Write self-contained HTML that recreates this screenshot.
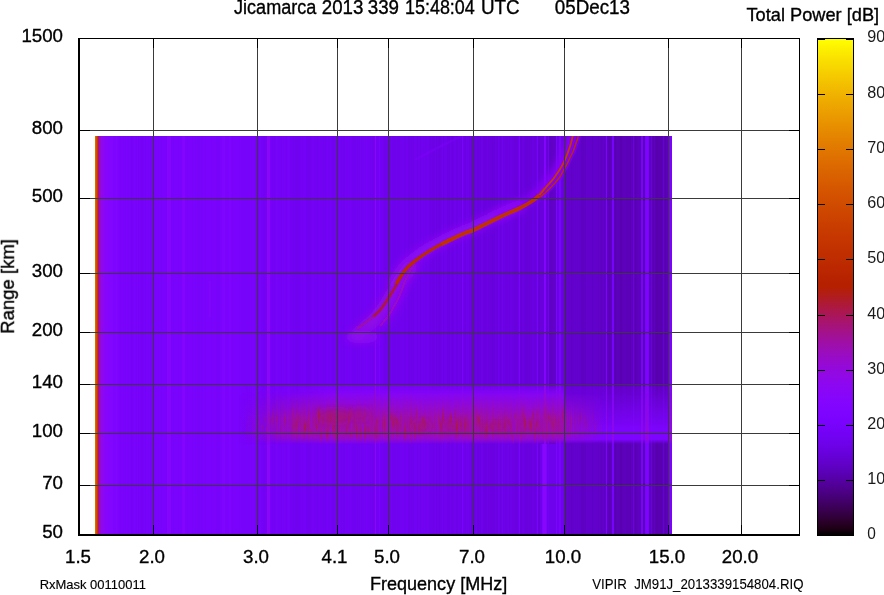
<!DOCTYPE html><html><head><meta charset="utf-8"><style>html,body{margin:0;padding:0;background:#fff;overflow:hidden}svg{display:block}text{font-family:"Liberation Sans",sans-serif}</style></head><body><svg width="884" height="595" viewBox="0 0 884 595"><defs><linearGradient id="cb" x1="0" y1="0" x2="0" y2="1"><stop offset="0.0000" stop-color="#ffff00"/><stop offset="0.0111" stop-color="#fef700"/><stop offset="0.0222" stop-color="#fcee00"/><stop offset="0.0333" stop-color="#fbe600"/><stop offset="0.0444" stop-color="#f9de00"/><stop offset="0.0556" stop-color="#f8d700"/><stop offset="0.0667" stop-color="#f6cf00"/><stop offset="0.0778" stop-color="#f5c800"/><stop offset="0.0889" stop-color="#f3c100"/><stop offset="0.1000" stop-color="#f2ba00"/><stop offset="0.1111" stop-color="#f0b300"/><stop offset="0.1222" stop-color="#efac00"/><stop offset="0.1333" stop-color="#eda600"/><stop offset="0.1444" stop-color="#eca000"/><stop offset="0.1556" stop-color="#ea9a00"/><stop offset="0.1667" stop-color="#e99400"/><stop offset="0.1778" stop-color="#e78e00"/><stop offset="0.1889" stop-color="#e68800"/><stop offset="0.2000" stop-color="#e48300"/><stop offset="0.2111" stop-color="#e27d00"/><stop offset="0.2222" stop-color="#e17800"/><stop offset="0.2333" stop-color="#df7300"/><stop offset="0.2444" stop-color="#de6e00"/><stop offset="0.2556" stop-color="#dc6900"/><stop offset="0.2667" stop-color="#da6500"/><stop offset="0.2778" stop-color="#d96000"/><stop offset="0.2889" stop-color="#d75c00"/><stop offset="0.3000" stop-color="#d55700"/><stop offset="0.3111" stop-color="#d45300"/><stop offset="0.3222" stop-color="#d24f00"/><stop offset="0.3333" stop-color="#d04c00"/><stop offset="0.3444" stop-color="#ce4800"/><stop offset="0.3556" stop-color="#cd4400"/><stop offset="0.3667" stop-color="#cb4100"/><stop offset="0.3778" stop-color="#c93d00"/><stop offset="0.3889" stop-color="#c73a00"/><stop offset="0.4000" stop-color="#c63700"/><stop offset="0.4111" stop-color="#c43400"/><stop offset="0.4222" stop-color="#c23100"/><stop offset="0.4333" stop-color="#c02e00"/><stop offset="0.4444" stop-color="#be2c00"/><stop offset="0.4556" stop-color="#bc2900"/><stop offset="0.4667" stop-color="#ba2700"/><stop offset="0.4778" stop-color="#b82400"/><stop offset="0.4889" stop-color="#b62200"/><stop offset="0.5000" stop-color="#b42000"/><stop offset="0.5111" stop-color="#b21e12"/><stop offset="0.5222" stop-color="#b01c23"/><stop offset="0.5333" stop-color="#ae1a35"/><stop offset="0.5444" stop-color="#ac1846"/><stop offset="0.5556" stop-color="#aa1657"/><stop offset="0.5667" stop-color="#a81568"/><stop offset="0.5778" stop-color="#a61378"/><stop offset="0.5889" stop-color="#a41287"/><stop offset="0.6000" stop-color="#a11096"/><stop offset="0.6111" stop-color="#9f0fa4"/><stop offset="0.6222" stop-color="#9d0eb1"/><stop offset="0.6333" stop-color="#9a0dbe"/><stop offset="0.6444" stop-color="#980bc9"/><stop offset="0.6556" stop-color="#960ad3"/><stop offset="0.6667" stop-color="#9309dd"/><stop offset="0.6778" stop-color="#9109e5"/><stop offset="0.6889" stop-color="#8e08ec"/><stop offset="0.7000" stop-color="#8c07f3"/><stop offset="0.7111" stop-color="#8906f7"/><stop offset="0.7222" stop-color="#8605fb"/><stop offset="0.7333" stop-color="#8405fe"/><stop offset="0.7444" stop-color="#8104ff"/><stop offset="0.7556" stop-color="#7e04ff"/><stop offset="0.7667" stop-color="#7b03fe"/><stop offset="0.7778" stop-color="#7803fb"/><stop offset="0.7889" stop-color="#7502f7"/><stop offset="0.8000" stop-color="#7202f3"/><stop offset="0.8111" stop-color="#6f02ec"/><stop offset="0.8222" stop-color="#6c01e5"/><stop offset="0.8333" stop-color="#6801dd"/><stop offset="0.8444" stop-color="#6501d3"/><stop offset="0.8556" stop-color="#6101c9"/><stop offset="0.8667" stop-color="#5d01be"/><stop offset="0.8778" stop-color="#5900b1"/><stop offset="0.8889" stop-color="#5500a4"/><stop offset="0.9000" stop-color="#510096"/><stop offset="0.9111" stop-color="#4c0087"/><stop offset="0.9222" stop-color="#470078"/><stop offset="0.9333" stop-color="#420068"/><stop offset="0.9444" stop-color="#3c0057"/><stop offset="0.9556" stop-color="#360046"/><stop offset="0.9667" stop-color="#2f0035"/><stop offset="0.9778" stop-color="#260023"/><stop offset="0.9889" stop-color="#1b0012"/><stop offset="1.0000" stop-color="#000000"/></linearGradient><linearGradient id="gbase" gradientUnits="userSpaceOnUse" x1="95" y1="0" x2="672" y2="0"><stop offset="0.00000" stop-color="#dc6900"/><stop offset="0.00173" stop-color="#dc6900"/><stop offset="0.00173" stop-color="#d24f00"/><stop offset="0.00347" stop-color="#d24f00"/><stop offset="0.00347" stop-color="#c63700"/><stop offset="0.00520" stop-color="#c63700"/><stop offset="0.00520" stop-color="#a81568"/><stop offset="0.00693" stop-color="#a81568"/><stop offset="0.00693" stop-color="#9a0dbe"/><stop offset="0.00867" stop-color="#9a0dbe"/><stop offset="0.00867" stop-color="#9309dd"/><stop offset="0.01040" stop-color="#9309dd"/><stop offset="0.01040" stop-color="#9109e5"/><stop offset="0.01213" stop-color="#9109e5"/><stop offset="0.01213" stop-color="#8e08ec"/><stop offset="0.01386" stop-color="#8e08ec"/><stop offset="0.01386" stop-color="#8c07f3"/><stop offset="0.01560" stop-color="#8c07f3"/><stop offset="0.01560" stop-color="#8906f7"/><stop offset="0.01733" stop-color="#8906f7"/><stop offset="0.01733" stop-color="#8605fb"/><stop offset="0.02253" stop-color="#8605fb"/><stop offset="0.02253" stop-color="#8205fe"/><stop offset="0.03120" stop-color="#8205fe"/><stop offset="0.03120" stop-color="#7e04ff"/><stop offset="0.03640" stop-color="#7e04ff"/><stop offset="0.03640" stop-color="#8205fe"/><stop offset="0.03813" stop-color="#8205fe"/><stop offset="0.03813" stop-color="#7d04fe"/><stop offset="0.03986" stop-color="#7d04fe"/><stop offset="0.03986" stop-color="#7c03fe"/><stop offset="0.04159" stop-color="#7c03fe"/><stop offset="0.04159" stop-color="#7a03fd"/><stop offset="0.04333" stop-color="#7a03fd"/><stop offset="0.04333" stop-color="#7703fa"/><stop offset="0.04506" stop-color="#7703fa"/><stop offset="0.04506" stop-color="#7903fc"/><stop offset="0.04679" stop-color="#7903fc"/><stop offset="0.04679" stop-color="#7903fb"/><stop offset="0.04853" stop-color="#7903fb"/><stop offset="0.04853" stop-color="#7703fa"/><stop offset="0.05026" stop-color="#7703fa"/><stop offset="0.05026" stop-color="#7903fc"/><stop offset="0.05199" stop-color="#7903fc"/><stop offset="0.05199" stop-color="#7703fa"/><stop offset="0.05373" stop-color="#7703fa"/><stop offset="0.05373" stop-color="#7903fc"/><stop offset="0.05546" stop-color="#7903fc"/><stop offset="0.05546" stop-color="#7703fa"/><stop offset="0.05893" stop-color="#7703fa"/><stop offset="0.05893" stop-color="#7903fc"/><stop offset="0.06066" stop-color="#7903fc"/><stop offset="0.06066" stop-color="#7803fb"/><stop offset="0.06239" stop-color="#7803fb"/><stop offset="0.06239" stop-color="#7502f7"/><stop offset="0.06412" stop-color="#7502f7"/><stop offset="0.06412" stop-color="#7602f8"/><stop offset="0.06586" stop-color="#7602f8"/><stop offset="0.06586" stop-color="#7703fa"/><stop offset="0.06759" stop-color="#7703fa"/><stop offset="0.06759" stop-color="#7903fc"/><stop offset="0.06932" stop-color="#7903fc"/><stop offset="0.06932" stop-color="#7703fa"/><stop offset="0.07106" stop-color="#7703fa"/><stop offset="0.07106" stop-color="#7603f9"/><stop offset="0.07279" stop-color="#7603f9"/><stop offset="0.07279" stop-color="#7903fc"/><stop offset="0.07452" stop-color="#7903fc"/><stop offset="0.07452" stop-color="#7502f7"/><stop offset="0.07626" stop-color="#7502f7"/><stop offset="0.07626" stop-color="#7803fb"/><stop offset="0.07799" stop-color="#7803fb"/><stop offset="0.07799" stop-color="#7602f8"/><stop offset="0.07972" stop-color="#7602f8"/><stop offset="0.07972" stop-color="#7502f7"/><stop offset="0.08319" stop-color="#7502f7"/><stop offset="0.08319" stop-color="#7602f8"/><stop offset="0.08492" stop-color="#7602f8"/><stop offset="0.08492" stop-color="#7803fb"/><stop offset="0.08666" stop-color="#7803fb"/><stop offset="0.08666" stop-color="#7502f8"/><stop offset="0.08839" stop-color="#7502f8"/><stop offset="0.08839" stop-color="#7703fa"/><stop offset="0.09185" stop-color="#7703fa"/><stop offset="0.09185" stop-color="#7603f9"/><stop offset="0.09359" stop-color="#7603f9"/><stop offset="0.09359" stop-color="#7703fa"/><stop offset="0.09532" stop-color="#7703fa"/><stop offset="0.09532" stop-color="#7502f7"/><stop offset="0.09705" stop-color="#7502f7"/><stop offset="0.09705" stop-color="#7703fa"/><stop offset="0.09879" stop-color="#7703fa"/><stop offset="0.09879" stop-color="#7803fb"/><stop offset="0.10052" stop-color="#7803fb"/><stop offset="0.10052" stop-color="#7a03fd"/><stop offset="0.10225" stop-color="#7a03fd"/><stop offset="0.10225" stop-color="#7903fc"/><stop offset="0.10399" stop-color="#7903fc"/><stop offset="0.10399" stop-color="#7803fb"/><stop offset="0.10572" stop-color="#7803fb"/><stop offset="0.10572" stop-color="#7903fc"/><stop offset="0.10919" stop-color="#7903fc"/><stop offset="0.10919" stop-color="#7803fb"/><stop offset="0.11092" stop-color="#7803fb"/><stop offset="0.11092" stop-color="#7a03fd"/><stop offset="0.11438" stop-color="#7a03fd"/><stop offset="0.11438" stop-color="#7803fb"/><stop offset="0.11612" stop-color="#7803fb"/><stop offset="0.11612" stop-color="#7903fc"/><stop offset="0.11958" stop-color="#7903fc"/><stop offset="0.11958" stop-color="#7b03fd"/><stop offset="0.12132" stop-color="#7b03fd"/><stop offset="0.12132" stop-color="#7a03fd"/><stop offset="0.12305" stop-color="#7a03fd"/><stop offset="0.12305" stop-color="#7803fb"/><stop offset="0.12478" stop-color="#7803fb"/><stop offset="0.12478" stop-color="#8605fb"/><stop offset="0.12652" stop-color="#8605fb"/><stop offset="0.12652" stop-color="#8305fe"/><stop offset="0.12825" stop-color="#8305fe"/><stop offset="0.12825" stop-color="#8405fd"/><stop offset="0.12998" stop-color="#8405fd"/><stop offset="0.12998" stop-color="#8505fc"/><stop offset="0.13172" stop-color="#8505fc"/><stop offset="0.13172" stop-color="#7803fb"/><stop offset="0.13345" stop-color="#7803fb"/><stop offset="0.13345" stop-color="#7903fc"/><stop offset="0.13518" stop-color="#7903fc"/><stop offset="0.13518" stop-color="#7703fa"/><stop offset="0.13692" stop-color="#7703fa"/><stop offset="0.13692" stop-color="#7a03fd"/><stop offset="0.14038" stop-color="#7a03fd"/><stop offset="0.14038" stop-color="#7903fc"/><stop offset="0.14211" stop-color="#7903fc"/><stop offset="0.14211" stop-color="#7b03fd"/><stop offset="0.14385" stop-color="#7b03fd"/><stop offset="0.14385" stop-color="#7803fb"/><stop offset="0.14558" stop-color="#7803fb"/><stop offset="0.14558" stop-color="#7a03fd"/><stop offset="0.14731" stop-color="#7a03fd"/><stop offset="0.14731" stop-color="#7903fc"/><stop offset="0.15078" stop-color="#7903fc"/><stop offset="0.15078" stop-color="#8204ff"/><stop offset="0.15251" stop-color="#8204ff"/><stop offset="0.15251" stop-color="#8305fe"/><stop offset="0.15598" stop-color="#8305fe"/><stop offset="0.15598" stop-color="#7903fc"/><stop offset="0.15771" stop-color="#7903fc"/><stop offset="0.15771" stop-color="#7a03fd"/><stop offset="0.15945" stop-color="#7a03fd"/><stop offset="0.15945" stop-color="#7703fa"/><stop offset="0.16118" stop-color="#7703fa"/><stop offset="0.16118" stop-color="#7a03fd"/><stop offset="0.16464" stop-color="#7a03fd"/><stop offset="0.16464" stop-color="#7b03fe"/><stop offset="0.16638" stop-color="#7b03fe"/><stop offset="0.16638" stop-color="#7a03fd"/><stop offset="0.16811" stop-color="#7a03fd"/><stop offset="0.16811" stop-color="#7803fb"/><stop offset="0.16984" stop-color="#7803fb"/><stop offset="0.16984" stop-color="#7903fc"/><stop offset="0.17158" stop-color="#7903fc"/><stop offset="0.17158" stop-color="#7a03fd"/><stop offset="0.17331" stop-color="#7a03fd"/><stop offset="0.17331" stop-color="#7703fa"/><stop offset="0.17504" stop-color="#7703fa"/><stop offset="0.17504" stop-color="#7903fc"/><stop offset="0.17678" stop-color="#7903fc"/><stop offset="0.17678" stop-color="#7803fb"/><stop offset="0.17851" stop-color="#7803fb"/><stop offset="0.17851" stop-color="#7703fa"/><stop offset="0.18198" stop-color="#7703fa"/><stop offset="0.18198" stop-color="#7a03fd"/><stop offset="0.18371" stop-color="#7a03fd"/><stop offset="0.18371" stop-color="#7803fa"/><stop offset="0.18544" stop-color="#7803fa"/><stop offset="0.18544" stop-color="#7803fb"/><stop offset="0.18718" stop-color="#7803fb"/><stop offset="0.18718" stop-color="#7903fc"/><stop offset="0.18891" stop-color="#7903fc"/><stop offset="0.18891" stop-color="#7b03fd"/><stop offset="0.19064" stop-color="#7b03fd"/><stop offset="0.19064" stop-color="#7703fa"/><stop offset="0.19237" stop-color="#7703fa"/><stop offset="0.19237" stop-color="#7903fc"/><stop offset="0.19584" stop-color="#7903fc"/><stop offset="0.19584" stop-color="#7b03fd"/><stop offset="0.19757" stop-color="#7b03fd"/><stop offset="0.19757" stop-color="#7a03fd"/><stop offset="0.19931" stop-color="#7a03fd"/><stop offset="0.19931" stop-color="#7b03fd"/><stop offset="0.20104" stop-color="#7b03fd"/><stop offset="0.20104" stop-color="#7803fb"/><stop offset="0.20277" stop-color="#7803fb"/><stop offset="0.20277" stop-color="#7903fc"/><stop offset="0.20451" stop-color="#7903fc"/><stop offset="0.20451" stop-color="#7903fb"/><stop offset="0.20624" stop-color="#7903fb"/><stop offset="0.20624" stop-color="#7b03fd"/><stop offset="0.20971" stop-color="#7b03fd"/><stop offset="0.20971" stop-color="#7803fb"/><stop offset="0.21664" stop-color="#7803fb"/><stop offset="0.21664" stop-color="#7903fc"/><stop offset="0.22010" stop-color="#7903fc"/><stop offset="0.22010" stop-color="#7f04ff"/><stop offset="0.22184" stop-color="#7f04ff"/><stop offset="0.22184" stop-color="#7e04ff"/><stop offset="0.22357" stop-color="#7e04ff"/><stop offset="0.22357" stop-color="#8004ff"/><stop offset="0.22530" stop-color="#8004ff"/><stop offset="0.22530" stop-color="#7903fb"/><stop offset="0.22704" stop-color="#7903fb"/><stop offset="0.22704" stop-color="#7903fc"/><stop offset="0.22877" stop-color="#7903fc"/><stop offset="0.22877" stop-color="#7b03fd"/><stop offset="0.23050" stop-color="#7b03fd"/><stop offset="0.23050" stop-color="#7a03fd"/><stop offset="0.23224" stop-color="#7a03fd"/><stop offset="0.23224" stop-color="#7e04ff"/><stop offset="0.23570" stop-color="#7e04ff"/><stop offset="0.23570" stop-color="#7a03fd"/><stop offset="0.23744" stop-color="#7a03fd"/><stop offset="0.23744" stop-color="#7703fa"/><stop offset="0.23917" stop-color="#7703fa"/><stop offset="0.23917" stop-color="#7b03fd"/><stop offset="0.24090" stop-color="#7b03fd"/><stop offset="0.24090" stop-color="#7a03fd"/><stop offset="0.24263" stop-color="#7a03fd"/><stop offset="0.24263" stop-color="#7b03fd"/><stop offset="0.24437" stop-color="#7b03fd"/><stop offset="0.24437" stop-color="#7a03fd"/><stop offset="0.24610" stop-color="#7a03fd"/><stop offset="0.24610" stop-color="#7903fc"/><stop offset="0.24957" stop-color="#7903fc"/><stop offset="0.24957" stop-color="#7703fa"/><stop offset="0.25130" stop-color="#7703fa"/><stop offset="0.25130" stop-color="#7a03fc"/><stop offset="0.25303" stop-color="#7a03fc"/><stop offset="0.25303" stop-color="#7703fa"/><stop offset="0.25650" stop-color="#7703fa"/><stop offset="0.25650" stop-color="#7803fb"/><stop offset="0.26170" stop-color="#7803fb"/><stop offset="0.26170" stop-color="#7703fa"/><stop offset="0.26516" stop-color="#7703fa"/><stop offset="0.26516" stop-color="#7803fb"/><stop offset="0.26690" stop-color="#7803fb"/><stop offset="0.26690" stop-color="#7703fa"/><stop offset="0.26863" stop-color="#7703fa"/><stop offset="0.26863" stop-color="#7903fb"/><stop offset="0.27036" stop-color="#7903fb"/><stop offset="0.27036" stop-color="#7703fa"/><stop offset="0.27210" stop-color="#7703fa"/><stop offset="0.27210" stop-color="#7b03fd"/><stop offset="0.27383" stop-color="#7b03fd"/><stop offset="0.27383" stop-color="#7a03fc"/><stop offset="0.27556" stop-color="#7a03fc"/><stop offset="0.27556" stop-color="#7803fb"/><stop offset="0.28076" stop-color="#7803fb"/><stop offset="0.28076" stop-color="#7402f6"/><stop offset="0.28250" stop-color="#7402f6"/><stop offset="0.28250" stop-color="#7302f4"/><stop offset="0.28423" stop-color="#7302f4"/><stop offset="0.28423" stop-color="#7603f9"/><stop offset="0.28596" stop-color="#7603f9"/><stop offset="0.28596" stop-color="#7703f9"/><stop offset="0.28769" stop-color="#7703f9"/><stop offset="0.28769" stop-color="#7402f6"/><stop offset="0.29116" stop-color="#7402f6"/><stop offset="0.29116" stop-color="#7302f4"/><stop offset="0.29463" stop-color="#7302f4"/><stop offset="0.29463" stop-color="#7402f6"/><stop offset="0.29636" stop-color="#7402f6"/><stop offset="0.29636" stop-color="#7402f5"/><stop offset="0.29809" stop-color="#7402f5"/><stop offset="0.29809" stop-color="#8c07f3"/><stop offset="0.29983" stop-color="#8c07f3"/><stop offset="0.29983" stop-color="#8906f7"/><stop offset="0.30156" stop-color="#8906f7"/><stop offset="0.30156" stop-color="#8906f8"/><stop offset="0.30329" stop-color="#8906f8"/><stop offset="0.30329" stop-color="#7603f9"/><stop offset="0.30503" stop-color="#7603f9"/><stop offset="0.30503" stop-color="#7502f7"/><stop offset="0.30676" stop-color="#7502f7"/><stop offset="0.30676" stop-color="#7302f4"/><stop offset="0.30849" stop-color="#7302f4"/><stop offset="0.30849" stop-color="#7502f7"/><stop offset="0.31023" stop-color="#7502f7"/><stop offset="0.31023" stop-color="#7202f3"/><stop offset="0.31196" stop-color="#7202f3"/><stop offset="0.31196" stop-color="#7502f7"/><stop offset="0.31369" stop-color="#7502f7"/><stop offset="0.31369" stop-color="#7703f9"/><stop offset="0.31542" stop-color="#7703f9"/><stop offset="0.31542" stop-color="#7603f9"/><stop offset="0.31716" stop-color="#7603f9"/><stop offset="0.31716" stop-color="#7502f8"/><stop offset="0.31889" stop-color="#7502f8"/><stop offset="0.31889" stop-color="#7402f5"/><stop offset="0.32062" stop-color="#7402f5"/><stop offset="0.32062" stop-color="#7402f6"/><stop offset="0.32236" stop-color="#7402f6"/><stop offset="0.32236" stop-color="#7302f4"/><stop offset="0.32409" stop-color="#7302f4"/><stop offset="0.32409" stop-color="#7602f8"/><stop offset="0.32582" stop-color="#7602f8"/><stop offset="0.32582" stop-color="#7502f7"/><stop offset="0.32756" stop-color="#7502f7"/><stop offset="0.32756" stop-color="#7602f8"/><stop offset="0.32929" stop-color="#7602f8"/><stop offset="0.32929" stop-color="#7402f5"/><stop offset="0.33102" stop-color="#7402f5"/><stop offset="0.33102" stop-color="#7302f5"/><stop offset="0.33276" stop-color="#7302f5"/><stop offset="0.33276" stop-color="#7602f8"/><stop offset="0.33449" stop-color="#7602f8"/><stop offset="0.33449" stop-color="#7703f9"/><stop offset="0.33622" stop-color="#7703f9"/><stop offset="0.33622" stop-color="#7603f9"/><stop offset="0.33795" stop-color="#7603f9"/><stop offset="0.33795" stop-color="#7302f5"/><stop offset="0.34142" stop-color="#7302f5"/><stop offset="0.34142" stop-color="#7302f4"/><stop offset="0.34315" stop-color="#7302f4"/><stop offset="0.34315" stop-color="#7102f0"/><stop offset="0.34489" stop-color="#7102f0"/><stop offset="0.34489" stop-color="#7202f3"/><stop offset="0.34662" stop-color="#7202f3"/><stop offset="0.34662" stop-color="#7102f1"/><stop offset="0.34835" stop-color="#7102f1"/><stop offset="0.34835" stop-color="#7002ef"/><stop offset="0.35182" stop-color="#7002ef"/><stop offset="0.35182" stop-color="#7102f1"/><stop offset="0.35529" stop-color="#7102f1"/><stop offset="0.35529" stop-color="#7302f4"/><stop offset="0.35702" stop-color="#7302f4"/><stop offset="0.35702" stop-color="#7402f6"/><stop offset="0.35875" stop-color="#7402f6"/><stop offset="0.35875" stop-color="#7202f2"/><stop offset="0.36049" stop-color="#7202f2"/><stop offset="0.36049" stop-color="#7402f6"/><stop offset="0.36568" stop-color="#7402f6"/><stop offset="0.36568" stop-color="#7102f1"/><stop offset="0.36742" stop-color="#7102f1"/><stop offset="0.36742" stop-color="#7102f0"/><stop offset="0.37435" stop-color="#7102f0"/><stop offset="0.37435" stop-color="#7302f3"/><stop offset="0.37608" stop-color="#7302f3"/><stop offset="0.37608" stop-color="#7402f5"/><stop offset="0.37955" stop-color="#7402f5"/><stop offset="0.37955" stop-color="#7202f2"/><stop offset="0.38128" stop-color="#7202f2"/><stop offset="0.38128" stop-color="#7302f4"/><stop offset="0.38302" stop-color="#7302f4"/><stop offset="0.38302" stop-color="#7302f5"/><stop offset="0.38475" stop-color="#7302f5"/><stop offset="0.38475" stop-color="#7002ef"/><stop offset="0.38648" stop-color="#7002ef"/><stop offset="0.38648" stop-color="#7302f4"/><stop offset="0.38821" stop-color="#7302f4"/><stop offset="0.38821" stop-color="#7402f5"/><stop offset="0.38995" stop-color="#7402f5"/><stop offset="0.38995" stop-color="#7302f5"/><stop offset="0.39168" stop-color="#7302f5"/><stop offset="0.39168" stop-color="#7302f4"/><stop offset="0.39341" stop-color="#7302f4"/><stop offset="0.39341" stop-color="#7202f2"/><stop offset="0.39515" stop-color="#7202f2"/><stop offset="0.39515" stop-color="#7102f0"/><stop offset="0.39688" stop-color="#7102f0"/><stop offset="0.39688" stop-color="#7302f5"/><stop offset="0.39861" stop-color="#7302f5"/><stop offset="0.39861" stop-color="#7102f1"/><stop offset="0.40035" stop-color="#7102f1"/><stop offset="0.40035" stop-color="#7302f5"/><stop offset="0.40208" stop-color="#7302f5"/><stop offset="0.40208" stop-color="#7402f6"/><stop offset="0.40381" stop-color="#7402f6"/><stop offset="0.40381" stop-color="#7202f2"/><stop offset="0.40728" stop-color="#7202f2"/><stop offset="0.40728" stop-color="#7402f6"/><stop offset="0.40901" stop-color="#7402f6"/><stop offset="0.40901" stop-color="#7302f4"/><stop offset="0.41075" stop-color="#7302f4"/><stop offset="0.41075" stop-color="#7102f0"/><stop offset="0.41248" stop-color="#7102f0"/><stop offset="0.41248" stop-color="#7002ef"/><stop offset="0.41421" stop-color="#7002ef"/><stop offset="0.41421" stop-color="#7002f0"/><stop offset="0.41594" stop-color="#7002f0"/><stop offset="0.41594" stop-color="#7402f5"/><stop offset="0.41768" stop-color="#7402f5"/><stop offset="0.41768" stop-color="#7302f5"/><stop offset="0.41941" stop-color="#7302f5"/><stop offset="0.41941" stop-color="#7002f0"/><stop offset="0.42114" stop-color="#7002f0"/><stop offset="0.42114" stop-color="#7302f5"/><stop offset="0.42288" stop-color="#7302f5"/><stop offset="0.42288" stop-color="#7402f6"/><stop offset="0.42461" stop-color="#7402f6"/><stop offset="0.42461" stop-color="#7302f4"/><stop offset="0.42634" stop-color="#7302f4"/><stop offset="0.42634" stop-color="#7102f1"/><stop offset="0.42808" stop-color="#7102f1"/><stop offset="0.42808" stop-color="#7202f3"/><stop offset="0.42981" stop-color="#7202f3"/><stop offset="0.42981" stop-color="#7002f0"/><stop offset="0.43154" stop-color="#7002f0"/><stop offset="0.43154" stop-color="#7002ef"/><stop offset="0.43328" stop-color="#7002ef"/><stop offset="0.43328" stop-color="#7402f6"/><stop offset="0.43501" stop-color="#7402f6"/><stop offset="0.43501" stop-color="#7302f4"/><stop offset="0.43674" stop-color="#7302f4"/><stop offset="0.43674" stop-color="#7202f3"/><stop offset="0.43847" stop-color="#7202f3"/><stop offset="0.43847" stop-color="#7402f6"/><stop offset="0.44021" stop-color="#7402f6"/><stop offset="0.44021" stop-color="#7202f2"/><stop offset="0.44194" stop-color="#7202f2"/><stop offset="0.44194" stop-color="#7402f5"/><stop offset="0.44367" stop-color="#7402f5"/><stop offset="0.44367" stop-color="#7302f5"/><stop offset="0.44541" stop-color="#7302f5"/><stop offset="0.44541" stop-color="#7102f0"/><stop offset="0.44714" stop-color="#7102f0"/><stop offset="0.44714" stop-color="#7102f1"/><stop offset="0.45061" stop-color="#7102f1"/><stop offset="0.45061" stop-color="#7102f0"/><stop offset="0.45234" stop-color="#7102f0"/><stop offset="0.45234" stop-color="#7202f3"/><stop offset="0.45407" stop-color="#7202f3"/><stop offset="0.45407" stop-color="#7102f1"/><stop offset="0.45581" stop-color="#7102f1"/><stop offset="0.45581" stop-color="#7202f2"/><stop offset="0.45754" stop-color="#7202f2"/><stop offset="0.45754" stop-color="#7002f0"/><stop offset="0.45927" stop-color="#7002f0"/><stop offset="0.45927" stop-color="#7402f5"/><stop offset="0.46101" stop-color="#7402f5"/><stop offset="0.46101" stop-color="#7102f1"/><stop offset="0.46274" stop-color="#7102f1"/><stop offset="0.46274" stop-color="#7202f2"/><stop offset="0.46447" stop-color="#7202f2"/><stop offset="0.46447" stop-color="#7202f3"/><stop offset="0.46620" stop-color="#7202f3"/><stop offset="0.46620" stop-color="#7402f5"/><stop offset="0.46794" stop-color="#7402f5"/><stop offset="0.46794" stop-color="#7202f2"/><stop offset="0.46967" stop-color="#7202f2"/><stop offset="0.46967" stop-color="#7402f6"/><stop offset="0.47140" stop-color="#7402f6"/><stop offset="0.47140" stop-color="#7202f3"/><stop offset="0.47660" stop-color="#7202f3"/><stop offset="0.47660" stop-color="#7002ef"/><stop offset="0.47834" stop-color="#7002ef"/><stop offset="0.47834" stop-color="#7202f2"/><stop offset="0.48007" stop-color="#7202f2"/><stop offset="0.48007" stop-color="#7102f0"/><stop offset="0.48180" stop-color="#7102f0"/><stop offset="0.48180" stop-color="#7002ee"/><stop offset="0.48354" stop-color="#7002ee"/><stop offset="0.48354" stop-color="#7302f5"/><stop offset="0.48527" stop-color="#7302f5"/><stop offset="0.48527" stop-color="#8a07f5"/><stop offset="0.48700" stop-color="#8a07f5"/><stop offset="0.48700" stop-color="#7202f2"/><stop offset="0.48873" stop-color="#7202f2"/><stop offset="0.48873" stop-color="#7302f4"/><stop offset="0.49047" stop-color="#7302f4"/><stop offset="0.49047" stop-color="#7202f3"/><stop offset="0.49220" stop-color="#7202f3"/><stop offset="0.49220" stop-color="#7a03fd"/><stop offset="0.49393" stop-color="#7a03fd"/><stop offset="0.49393" stop-color="#7202f3"/><stop offset="0.49740" stop-color="#7202f3"/><stop offset="0.49740" stop-color="#7302f5"/><stop offset="0.49913" stop-color="#7302f5"/><stop offset="0.49913" stop-color="#7002ef"/><stop offset="0.50087" stop-color="#7002ef"/><stop offset="0.50087" stop-color="#6f02ed"/><stop offset="0.50260" stop-color="#6f02ed"/><stop offset="0.50260" stop-color="#6e02ea"/><stop offset="0.50607" stop-color="#6e02ea"/><stop offset="0.50607" stop-color="#7002ef"/><stop offset="0.50780" stop-color="#7002ef"/><stop offset="0.50780" stop-color="#6f02ed"/><stop offset="0.51127" stop-color="#6f02ed"/><stop offset="0.51127" stop-color="#7002ef"/><stop offset="0.51300" stop-color="#7002ef"/><stop offset="0.51300" stop-color="#7102f0"/><stop offset="0.51473" stop-color="#7102f0"/><stop offset="0.51473" stop-color="#6f02ec"/><stop offset="0.51646" stop-color="#6f02ec"/><stop offset="0.51646" stop-color="#6f02ed"/><stop offset="0.51820" stop-color="#6f02ed"/><stop offset="0.51820" stop-color="#6f02ec"/><stop offset="0.51993" stop-color="#6f02ec"/><stop offset="0.51993" stop-color="#6f02ed"/><stop offset="0.52166" stop-color="#6f02ed"/><stop offset="0.52166" stop-color="#7002ee"/><stop offset="0.52340" stop-color="#7002ee"/><stop offset="0.52340" stop-color="#6f02ec"/><stop offset="0.52513" stop-color="#6f02ec"/><stop offset="0.52513" stop-color="#6f02ed"/><stop offset="0.52686" stop-color="#6f02ed"/><stop offset="0.52686" stop-color="#6f02ec"/><stop offset="0.52860" stop-color="#6f02ec"/><stop offset="0.52860" stop-color="#7102f0"/><stop offset="0.53033" stop-color="#7102f0"/><stop offset="0.53033" stop-color="#7002ee"/><stop offset="0.53206" stop-color="#7002ee"/><stop offset="0.53206" stop-color="#7102f0"/><stop offset="0.53553" stop-color="#7102f0"/><stop offset="0.53553" stop-color="#6e02ea"/><stop offset="0.53726" stop-color="#6e02ea"/><stop offset="0.53726" stop-color="#6f02ed"/><stop offset="0.53899" stop-color="#6f02ed"/><stop offset="0.53899" stop-color="#7102f0"/><stop offset="0.54073" stop-color="#7102f0"/><stop offset="0.54073" stop-color="#7002ef"/><stop offset="0.54246" stop-color="#7002ef"/><stop offset="0.54246" stop-color="#6d02e9"/><stop offset="0.54593" stop-color="#6d02e9"/><stop offset="0.54593" stop-color="#6f02ec"/><stop offset="0.54766" stop-color="#6f02ec"/><stop offset="0.54766" stop-color="#6d02e8"/><stop offset="0.54939" stop-color="#6d02e8"/><stop offset="0.54939" stop-color="#6e02ea"/><stop offset="0.55113" stop-color="#6e02ea"/><stop offset="0.55113" stop-color="#6d02e8"/><stop offset="0.55286" stop-color="#6d02e8"/><stop offset="0.55286" stop-color="#7002ee"/><stop offset="0.55459" stop-color="#7002ee"/><stop offset="0.55459" stop-color="#7002ef"/><stop offset="0.55633" stop-color="#7002ef"/><stop offset="0.55633" stop-color="#7102f0"/><stop offset="0.55806" stop-color="#7102f0"/><stop offset="0.55806" stop-color="#6d02e9"/><stop offset="0.55979" stop-color="#6d02e9"/><stop offset="0.55979" stop-color="#7002ee"/><stop offset="0.56326" stop-color="#7002ee"/><stop offset="0.56326" stop-color="#6d02e9"/><stop offset="0.56499" stop-color="#6d02e9"/><stop offset="0.56499" stop-color="#7102f0"/><stop offset="0.56672" stop-color="#7102f0"/><stop offset="0.56672" stop-color="#7102f1"/><stop offset="0.56846" stop-color="#7102f1"/><stop offset="0.56846" stop-color="#6e02ea"/><stop offset="0.57019" stop-color="#6e02ea"/><stop offset="0.57019" stop-color="#7102f0"/><stop offset="0.57192" stop-color="#7102f0"/><stop offset="0.57192" stop-color="#6e02eb"/><stop offset="0.57366" stop-color="#6e02eb"/><stop offset="0.57366" stop-color="#6f02ec"/><stop offset="0.57539" stop-color="#6f02ec"/><stop offset="0.57539" stop-color="#7102f1"/><stop offset="0.57712" stop-color="#7102f1"/><stop offset="0.57712" stop-color="#7002ef"/><stop offset="0.57886" stop-color="#7002ef"/><stop offset="0.57886" stop-color="#6d02e9"/><stop offset="0.58059" stop-color="#6d02e9"/><stop offset="0.58059" stop-color="#6c01e7"/><stop offset="0.58232" stop-color="#6c01e7"/><stop offset="0.58232" stop-color="#6d02e8"/><stop offset="0.58406" stop-color="#6d02e8"/><stop offset="0.58406" stop-color="#6c01e6"/><stop offset="0.58579" stop-color="#6c01e6"/><stop offset="0.58579" stop-color="#6b01e4"/><stop offset="0.58752" stop-color="#6b01e4"/><stop offset="0.58752" stop-color="#6c01e6"/><stop offset="0.58925" stop-color="#6c01e6"/><stop offset="0.58925" stop-color="#6e02ea"/><stop offset="0.59099" stop-color="#6e02ea"/><stop offset="0.59099" stop-color="#6a01e2"/><stop offset="0.59272" stop-color="#6a01e2"/><stop offset="0.59272" stop-color="#6d02e8"/><stop offset="0.59445" stop-color="#6d02e8"/><stop offset="0.59445" stop-color="#6c01e7"/><stop offset="0.59619" stop-color="#6c01e7"/><stop offset="0.59619" stop-color="#6a01e2"/><stop offset="0.59792" stop-color="#6a01e2"/><stop offset="0.59792" stop-color="#6c01e6"/><stop offset="0.59965" stop-color="#6c01e6"/><stop offset="0.59965" stop-color="#6d02e9"/><stop offset="0.60139" stop-color="#6d02e9"/><stop offset="0.60139" stop-color="#7102f1"/><stop offset="0.60312" stop-color="#7102f1"/><stop offset="0.60312" stop-color="#6a01e3"/><stop offset="0.60485" stop-color="#6a01e3"/><stop offset="0.60485" stop-color="#6f02ec"/><stop offset="0.60659" stop-color="#6f02ec"/><stop offset="0.60659" stop-color="#6e02ea"/><stop offset="0.60832" stop-color="#6e02ea"/><stop offset="0.60832" stop-color="#6f02ec"/><stop offset="0.61005" stop-color="#6f02ec"/><stop offset="0.61005" stop-color="#6b01e3"/><stop offset="0.61179" stop-color="#6b01e3"/><stop offset="0.61179" stop-color="#6b01e5"/><stop offset="0.61352" stop-color="#6b01e5"/><stop offset="0.61352" stop-color="#6a01e2"/><stop offset="0.61525" stop-color="#6a01e2"/><stop offset="0.61525" stop-color="#6e02ea"/><stop offset="0.61698" stop-color="#6e02ea"/><stop offset="0.61698" stop-color="#6b01e5"/><stop offset="0.61872" stop-color="#6b01e5"/><stop offset="0.61872" stop-color="#6b01e3"/><stop offset="0.62045" stop-color="#6b01e3"/><stop offset="0.62045" stop-color="#6c01e7"/><stop offset="0.62218" stop-color="#6c01e7"/><stop offset="0.62218" stop-color="#6e02ec"/><stop offset="0.62392" stop-color="#6e02ec"/><stop offset="0.62392" stop-color="#6e02eb"/><stop offset="0.62565" stop-color="#6e02eb"/><stop offset="0.62565" stop-color="#6b01e5"/><stop offset="0.62738" stop-color="#6b01e5"/><stop offset="0.62738" stop-color="#6b01e4"/><stop offset="0.62912" stop-color="#6b01e4"/><stop offset="0.62912" stop-color="#6e02ec"/><stop offset="0.63085" stop-color="#6e02ec"/><stop offset="0.63085" stop-color="#6d02e8"/><stop offset="0.63258" stop-color="#6d02e8"/><stop offset="0.63258" stop-color="#6d02ea"/><stop offset="0.63432" stop-color="#6d02ea"/><stop offset="0.63432" stop-color="#6b01e3"/><stop offset="0.63605" stop-color="#6b01e3"/><stop offset="0.63605" stop-color="#7903fc"/><stop offset="0.63778" stop-color="#7903fc"/><stop offset="0.63778" stop-color="#6d02e9"/><stop offset="0.63951" stop-color="#6d02e9"/><stop offset="0.63951" stop-color="#6c01e7"/><stop offset="0.64125" stop-color="#6c01e7"/><stop offset="0.64125" stop-color="#6b01e3"/><stop offset="0.64298" stop-color="#6b01e3"/><stop offset="0.64298" stop-color="#6f02ec"/><stop offset="0.64471" stop-color="#6f02ec"/><stop offset="0.64471" stop-color="#6d02e9"/><stop offset="0.64645" stop-color="#6d02e9"/><stop offset="0.64645" stop-color="#6e02eb"/><stop offset="0.64818" stop-color="#6e02eb"/><stop offset="0.64818" stop-color="#6b01e3"/><stop offset="0.64991" stop-color="#6b01e3"/><stop offset="0.64991" stop-color="#6c01e5"/><stop offset="0.65165" stop-color="#6c01e5"/><stop offset="0.65165" stop-color="#6801dc"/><stop offset="0.65338" stop-color="#6801dc"/><stop offset="0.65338" stop-color="#6c01e5"/><stop offset="0.65511" stop-color="#6c01e5"/><stop offset="0.65511" stop-color="#6a01e1"/><stop offset="0.65685" stop-color="#6a01e1"/><stop offset="0.65685" stop-color="#6901df"/><stop offset="0.65858" stop-color="#6901df"/><stop offset="0.65858" stop-color="#6a01e2"/><stop offset="0.66031" stop-color="#6a01e2"/><stop offset="0.66031" stop-color="#6c01e6"/><stop offset="0.66205" stop-color="#6c01e6"/><stop offset="0.66205" stop-color="#6901de"/><stop offset="0.66378" stop-color="#6901de"/><stop offset="0.66378" stop-color="#6801dd"/><stop offset="0.66551" stop-color="#6801dd"/><stop offset="0.66551" stop-color="#6a01e1"/><stop offset="0.66724" stop-color="#6a01e1"/><stop offset="0.66724" stop-color="#6901de"/><stop offset="0.66898" stop-color="#6901de"/><stop offset="0.66898" stop-color="#6d02e9"/><stop offset="0.67244" stop-color="#6d02e9"/><stop offset="0.67244" stop-color="#6801dc"/><stop offset="0.67418" stop-color="#6801dc"/><stop offset="0.67418" stop-color="#6801de"/><stop offset="0.67591" stop-color="#6801de"/><stop offset="0.67591" stop-color="#6901df"/><stop offset="0.67938" stop-color="#6901df"/><stop offset="0.67938" stop-color="#6b01e4"/><stop offset="0.68111" stop-color="#6b01e4"/><stop offset="0.68111" stop-color="#6901df"/><stop offset="0.68284" stop-color="#6901df"/><stop offset="0.68284" stop-color="#6a01e1"/><stop offset="0.68458" stop-color="#6a01e1"/><stop offset="0.68458" stop-color="#6801dd"/><stop offset="0.68631" stop-color="#6801dd"/><stop offset="0.68631" stop-color="#6901df"/><stop offset="0.68804" stop-color="#6901df"/><stop offset="0.68804" stop-color="#6701db"/><stop offset="0.68977" stop-color="#6701db"/><stop offset="0.68977" stop-color="#6901de"/><stop offset="0.69151" stop-color="#6901de"/><stop offset="0.69151" stop-color="#6701db"/><stop offset="0.69324" stop-color="#6701db"/><stop offset="0.69324" stop-color="#6b01e4"/><stop offset="0.69497" stop-color="#6b01e4"/><stop offset="0.69497" stop-color="#6a01e2"/><stop offset="0.69671" stop-color="#6a01e2"/><stop offset="0.69671" stop-color="#6801dd"/><stop offset="0.69844" stop-color="#6801dd"/><stop offset="0.69844" stop-color="#6f02ec"/><stop offset="0.70017" stop-color="#6f02ec"/><stop offset="0.70017" stop-color="#6c01e6"/><stop offset="0.70191" stop-color="#6c01e6"/><stop offset="0.70191" stop-color="#6801dc"/><stop offset="0.70364" stop-color="#6801dc"/><stop offset="0.70364" stop-color="#6b01e5"/><stop offset="0.70537" stop-color="#6b01e5"/><stop offset="0.70537" stop-color="#7002ef"/><stop offset="0.70711" stop-color="#7002ef"/><stop offset="0.70711" stop-color="#6a01e1"/><stop offset="0.70884" stop-color="#6a01e1"/><stop offset="0.70884" stop-color="#6b01e5"/><stop offset="0.71057" stop-color="#6b01e5"/><stop offset="0.71057" stop-color="#6901e0"/><stop offset="0.71231" stop-color="#6901e0"/><stop offset="0.71231" stop-color="#6a01e1"/><stop offset="0.71404" stop-color="#6a01e1"/><stop offset="0.71404" stop-color="#6b01e3"/><stop offset="0.71577" stop-color="#6b01e3"/><stop offset="0.71577" stop-color="#6c01e7"/><stop offset="0.71750" stop-color="#6c01e7"/><stop offset="0.71750" stop-color="#6901df"/><stop offset="0.71924" stop-color="#6901df"/><stop offset="0.71924" stop-color="#6b01e5"/><stop offset="0.72097" stop-color="#6b01e5"/><stop offset="0.72097" stop-color="#6b01e4"/><stop offset="0.72270" stop-color="#6b01e4"/><stop offset="0.72270" stop-color="#6a01e3"/><stop offset="0.72444" stop-color="#6a01e3"/><stop offset="0.72444" stop-color="#6901e0"/><stop offset="0.72617" stop-color="#6901e0"/><stop offset="0.72617" stop-color="#6901df"/><stop offset="0.72790" stop-color="#6901df"/><stop offset="0.72790" stop-color="#6801dc"/><stop offset="0.72964" stop-color="#6801dc"/><stop offset="0.72964" stop-color="#6801dd"/><stop offset="0.73137" stop-color="#6801dd"/><stop offset="0.73137" stop-color="#6801dc"/><stop offset="0.73310" stop-color="#6801dc"/><stop offset="0.73310" stop-color="#6b01e4"/><stop offset="0.73484" stop-color="#6b01e4"/><stop offset="0.73484" stop-color="#7903fc"/><stop offset="0.73657" stop-color="#7903fc"/><stop offset="0.73657" stop-color="#6601d9"/><stop offset="0.73830" stop-color="#6601d9"/><stop offset="0.73830" stop-color="#6601d7"/><stop offset="0.74003" stop-color="#6601d7"/><stop offset="0.74003" stop-color="#6a01e1"/><stop offset="0.74350" stop-color="#6a01e1"/><stop offset="0.74350" stop-color="#6901df"/><stop offset="0.74523" stop-color="#6901df"/><stop offset="0.74523" stop-color="#6701da"/><stop offset="0.75043" stop-color="#6701da"/><stop offset="0.75043" stop-color="#6801dc"/><stop offset="0.75217" stop-color="#6801dc"/><stop offset="0.75217" stop-color="#6601d8"/><stop offset="0.75390" stop-color="#6601d8"/><stop offset="0.75390" stop-color="#6801dc"/><stop offset="0.75563" stop-color="#6801dc"/><stop offset="0.75563" stop-color="#6701da"/><stop offset="0.75737" stop-color="#6701da"/><stop offset="0.75737" stop-color="#6a01e2"/><stop offset="0.76083" stop-color="#6a01e2"/><stop offset="0.76083" stop-color="#6801dd"/><stop offset="0.76256" stop-color="#6801dd"/><stop offset="0.76256" stop-color="#6701da"/><stop offset="0.76430" stop-color="#6701da"/><stop offset="0.76430" stop-color="#6a01e2"/><stop offset="0.76603" stop-color="#6a01e2"/><stop offset="0.76603" stop-color="#7703fa"/><stop offset="0.76776" stop-color="#7703fa"/><stop offset="0.76776" stop-color="#6701db"/><stop offset="0.76950" stop-color="#6701db"/><stop offset="0.76950" stop-color="#6601d6"/><stop offset="0.77123" stop-color="#6601d6"/><stop offset="0.77123" stop-color="#6801db"/><stop offset="0.77296" stop-color="#6801db"/><stop offset="0.77296" stop-color="#6801dd"/><stop offset="0.77643" stop-color="#6801dd"/><stop offset="0.77643" stop-color="#6701d9"/><stop offset="0.77816" stop-color="#6701d9"/><stop offset="0.77816" stop-color="#8405fe"/><stop offset="0.77990" stop-color="#8405fe"/><stop offset="0.77990" stop-color="#8204ff"/><stop offset="0.78163" stop-color="#8204ff"/><stop offset="0.78163" stop-color="#6701da"/><stop offset="0.78336" stop-color="#6701da"/><stop offset="0.78336" stop-color="#6601d8"/><stop offset="0.78510" stop-color="#6601d8"/><stop offset="0.78510" stop-color="#7202f2"/><stop offset="0.78683" stop-color="#7202f2"/><stop offset="0.78683" stop-color="#5e01c2"/><stop offset="0.78856" stop-color="#5e01c2"/><stop offset="0.78856" stop-color="#5e01c1"/><stop offset="0.79029" stop-color="#5e01c1"/><stop offset="0.79029" stop-color="#6001c6"/><stop offset="0.79203" stop-color="#6001c6"/><stop offset="0.79203" stop-color="#6001c5"/><stop offset="0.79376" stop-color="#6001c5"/><stop offset="0.79376" stop-color="#6101ca"/><stop offset="0.79549" stop-color="#6101ca"/><stop offset="0.79549" stop-color="#6101c9"/><stop offset="0.79723" stop-color="#6101c9"/><stop offset="0.79723" stop-color="#6201cd"/><stop offset="0.79896" stop-color="#6201cd"/><stop offset="0.79896" stop-color="#7c03fe"/><stop offset="0.80069" stop-color="#7c03fe"/><stop offset="0.80069" stop-color="#6901df"/><stop offset="0.80243" stop-color="#6901df"/><stop offset="0.80243" stop-color="#6a01e1"/><stop offset="0.80416" stop-color="#6a01e1"/><stop offset="0.80416" stop-color="#7b03fd"/><stop offset="0.80589" stop-color="#7b03fd"/><stop offset="0.80589" stop-color="#7a03fd"/><stop offset="0.80763" stop-color="#7a03fd"/><stop offset="0.80763" stop-color="#6a01e3"/><stop offset="0.80936" stop-color="#6a01e3"/><stop offset="0.80936" stop-color="#6601d8"/><stop offset="0.81109" stop-color="#6601d8"/><stop offset="0.81109" stop-color="#6901e0"/><stop offset="0.81282" stop-color="#6901e0"/><stop offset="0.81282" stop-color="#6201cb"/><stop offset="0.81456" stop-color="#6201cb"/><stop offset="0.81456" stop-color="#5f01c2"/><stop offset="0.81629" stop-color="#5f01c2"/><stop offset="0.81629" stop-color="#6301ce"/><stop offset="0.81802" stop-color="#6301ce"/><stop offset="0.81802" stop-color="#6301cf"/><stop offset="0.81976" stop-color="#6301cf"/><stop offset="0.81976" stop-color="#6201cb"/><stop offset="0.82149" stop-color="#6201cb"/><stop offset="0.82149" stop-color="#6201cc"/><stop offset="0.82322" stop-color="#6201cc"/><stop offset="0.82322" stop-color="#6301ce"/><stop offset="0.82496" stop-color="#6301ce"/><stop offset="0.82496" stop-color="#5f01c3"/><stop offset="0.82669" stop-color="#5f01c3"/><stop offset="0.82669" stop-color="#6101c9"/><stop offset="0.83016" stop-color="#6101c9"/><stop offset="0.83016" stop-color="#6301ce"/><stop offset="0.83189" stop-color="#6301ce"/><stop offset="0.83189" stop-color="#6201ce"/><stop offset="0.83362" stop-color="#6201ce"/><stop offset="0.83362" stop-color="#6301ce"/><stop offset="0.83536" stop-color="#6301ce"/><stop offset="0.83536" stop-color="#6101ca"/><stop offset="0.83709" stop-color="#6101ca"/><stop offset="0.83709" stop-color="#6301cf"/><stop offset="0.83882" stop-color="#6301cf"/><stop offset="0.83882" stop-color="#6201cc"/><stop offset="0.84229" stop-color="#6201cc"/><stop offset="0.84229" stop-color="#5f01c5"/><stop offset="0.84402" stop-color="#5f01c5"/><stop offset="0.84402" stop-color="#5e01c2"/><stop offset="0.84575" stop-color="#5e01c2"/><stop offset="0.84575" stop-color="#5f01c3"/><stop offset="0.84749" stop-color="#5f01c3"/><stop offset="0.84749" stop-color="#6001c7"/><stop offset="0.84922" stop-color="#6001c7"/><stop offset="0.84922" stop-color="#5f01c3"/><stop offset="0.85095" stop-color="#5f01c3"/><stop offset="0.85095" stop-color="#6301ce"/><stop offset="0.85269" stop-color="#6301ce"/><stop offset="0.85269" stop-color="#6101ca"/><stop offset="0.85442" stop-color="#6101ca"/><stop offset="0.85442" stop-color="#6201cb"/><stop offset="0.85789" stop-color="#6201cb"/><stop offset="0.85789" stop-color="#6201cc"/><stop offset="0.85962" stop-color="#6201cc"/><stop offset="0.85962" stop-color="#6101c9"/><stop offset="0.86135" stop-color="#6101c9"/><stop offset="0.86135" stop-color="#5e01c1"/><stop offset="0.86308" stop-color="#5e01c1"/><stop offset="0.86308" stop-color="#6201cd"/><stop offset="0.86655" stop-color="#6201cd"/><stop offset="0.86655" stop-color="#6101c9"/><stop offset="0.87002" stop-color="#6101c9"/><stop offset="0.87002" stop-color="#6201cb"/><stop offset="0.87175" stop-color="#6201cb"/><stop offset="0.87175" stop-color="#5f01c2"/><stop offset="0.87348" stop-color="#5f01c2"/><stop offset="0.87348" stop-color="#6201cd"/><stop offset="0.87522" stop-color="#6201cd"/><stop offset="0.87522" stop-color="#6001c5"/><stop offset="0.87695" stop-color="#6001c5"/><stop offset="0.87695" stop-color="#5f01c2"/><stop offset="0.87868" stop-color="#5f01c2"/><stop offset="0.87868" stop-color="#6001c5"/><stop offset="0.88042" stop-color="#6001c5"/><stop offset="0.88042" stop-color="#6201cc"/><stop offset="0.88215" stop-color="#6201cc"/><stop offset="0.88215" stop-color="#5f01c4"/><stop offset="0.88388" stop-color="#5f01c4"/><stop offset="0.88388" stop-color="#6201cd"/><stop offset="0.88562" stop-color="#6201cd"/><stop offset="0.88562" stop-color="#7c03fe"/><stop offset="0.88735" stop-color="#7c03fe"/><stop offset="0.88735" stop-color="#5c01ba"/><stop offset="0.88908" stop-color="#5c01ba"/><stop offset="0.88908" stop-color="#5b01b8"/><stop offset="0.89081" stop-color="#5b01b8"/><stop offset="0.89081" stop-color="#5c01ba"/><stop offset="0.89255" stop-color="#5c01ba"/><stop offset="0.89255" stop-color="#5d01bd"/><stop offset="0.89428" stop-color="#5d01bd"/><stop offset="0.89428" stop-color="#5d01be"/><stop offset="0.89601" stop-color="#5d01be"/><stop offset="0.89601" stop-color="#7803fb"/><stop offset="0.89948" stop-color="#7803fb"/><stop offset="0.89948" stop-color="#5a00b3"/><stop offset="0.90121" stop-color="#5a00b3"/><stop offset="0.90121" stop-color="#5a00b4"/><stop offset="0.90295" stop-color="#5a00b4"/><stop offset="0.90295" stop-color="#5b01b6"/><stop offset="0.90468" stop-color="#5b01b6"/><stop offset="0.90468" stop-color="#5d01be"/><stop offset="0.90641" stop-color="#5d01be"/><stop offset="0.90641" stop-color="#5b01b7"/><stop offset="0.90815" stop-color="#5b01b7"/><stop offset="0.90815" stop-color="#5c01bb"/><stop offset="0.90988" stop-color="#5c01bb"/><stop offset="0.90988" stop-color="#5900b1"/><stop offset="0.91161" stop-color="#5900b1"/><stop offset="0.91161" stop-color="#5900b2"/><stop offset="0.91334" stop-color="#5900b2"/><stop offset="0.91334" stop-color="#5b01b6"/><stop offset="0.91508" stop-color="#5b01b6"/><stop offset="0.91508" stop-color="#5d01bd"/><stop offset="0.92028" stop-color="#5d01bd"/><stop offset="0.92028" stop-color="#5b01b6"/><stop offset="0.92201" stop-color="#5b01b6"/><stop offset="0.92201" stop-color="#5c01ba"/><stop offset="0.92374" stop-color="#5c01ba"/><stop offset="0.92374" stop-color="#5c01b9"/><stop offset="0.92721" stop-color="#5c01b9"/><stop offset="0.92721" stop-color="#5a00b3"/><stop offset="0.92894" stop-color="#5a00b3"/><stop offset="0.92894" stop-color="#5e01c0"/><stop offset="0.93068" stop-color="#5e01c0"/><stop offset="0.93068" stop-color="#5a01b5"/><stop offset="0.93241" stop-color="#5a01b5"/><stop offset="0.93241" stop-color="#6901e0"/><stop offset="0.93414" stop-color="#6901e0"/><stop offset="0.93414" stop-color="#5e01c1"/><stop offset="0.93588" stop-color="#5e01c1"/><stop offset="0.93588" stop-color="#5900b1"/><stop offset="0.93761" stop-color="#5900b1"/><stop offset="0.93761" stop-color="#5c01b9"/><stop offset="0.93934" stop-color="#5c01b9"/><stop offset="0.93934" stop-color="#5e01bf"/><stop offset="0.94107" stop-color="#5e01bf"/><stop offset="0.94107" stop-color="#5e01c2"/><stop offset="0.94281" stop-color="#5e01c2"/><stop offset="0.94281" stop-color="#5c01b9"/><stop offset="0.94454" stop-color="#5c01b9"/><stop offset="0.94454" stop-color="#5b01b6"/><stop offset="0.94627" stop-color="#5b01b6"/><stop offset="0.94627" stop-color="#7803fa"/><stop offset="0.94801" stop-color="#7803fa"/><stop offset="0.94801" stop-color="#7b03fd"/><stop offset="0.94974" stop-color="#7b03fd"/><stop offset="0.94974" stop-color="#5a01b5"/><stop offset="0.95147" stop-color="#5a01b5"/><stop offset="0.95147" stop-color="#5c01bb"/><stop offset="0.95321" stop-color="#5c01bb"/><stop offset="0.95321" stop-color="#7a03fd"/><stop offset="0.95494" stop-color="#7a03fd"/><stop offset="0.95494" stop-color="#7c03fe"/><stop offset="0.95667" stop-color="#7c03fe"/><stop offset="0.95667" stop-color="#7e04ff"/><stop offset="0.95841" stop-color="#7e04ff"/><stop offset="0.95841" stop-color="#7a03fd"/><stop offset="0.96014" stop-color="#7a03fd"/><stop offset="0.96014" stop-color="#5e01bf"/><stop offset="0.96187" stop-color="#5e01bf"/><stop offset="0.96187" stop-color="#5c01ba"/><stop offset="0.96360" stop-color="#5c01ba"/><stop offset="0.96360" stop-color="#6901df"/><stop offset="0.96534" stop-color="#6901df"/><stop offset="0.96534" stop-color="#5d01bd"/><stop offset="0.96707" stop-color="#5d01bd"/><stop offset="0.96707" stop-color="#5a01b5"/><stop offset="0.96880" stop-color="#5a01b5"/><stop offset="0.96880" stop-color="#5e01c1"/><stop offset="0.97054" stop-color="#5e01c1"/><stop offset="0.97054" stop-color="#5a00b3"/><stop offset="0.97227" stop-color="#5a00b3"/><stop offset="0.97227" stop-color="#5700ab"/><stop offset="0.97574" stop-color="#5700ab"/><stop offset="0.97574" stop-color="#5a00b4"/><stop offset="0.97747" stop-color="#5a00b4"/><stop offset="0.97747" stop-color="#5a00b3"/><stop offset="0.97920" stop-color="#5a00b3"/><stop offset="0.97920" stop-color="#5900b0"/><stop offset="0.98094" stop-color="#5900b0"/><stop offset="0.98094" stop-color="#5800ad"/><stop offset="0.98267" stop-color="#5800ad"/><stop offset="0.98267" stop-color="#5900b1"/><stop offset="0.98440" stop-color="#5900b1"/><stop offset="0.98440" stop-color="#6401d3"/><stop offset="0.98614" stop-color="#6401d3"/><stop offset="0.98614" stop-color="#5c01ba"/><stop offset="0.98787" stop-color="#5c01ba"/><stop offset="0.98787" stop-color="#5700ab"/><stop offset="0.98960" stop-color="#5700ab"/><stop offset="0.98960" stop-color="#5b01b8"/><stop offset="0.99133" stop-color="#5b01b8"/><stop offset="0.99133" stop-color="#5c01ba"/><stop offset="0.99307" stop-color="#5c01ba"/><stop offset="0.99307" stop-color="#5a00b3"/><stop offset="0.99480" stop-color="#5a00b3"/><stop offset="0.99480" stop-color="#7b03fe"/><stop offset="1.00000" stop-color="#7b03fe"/></linearGradient><linearGradient id="gev" gradientUnits="userSpaceOnUse" x1="240" y1="0" x2="672" y2="0"><stop offset="0.00000" stop-color="#8a07f5" stop-opacity="0.00"/><stop offset="0.00231" stop-color="#8a07f5" stop-opacity="0.00"/><stop offset="0.00231" stop-color="#8806f9" stop-opacity="0.00"/><stop offset="0.00463" stop-color="#8806f9" stop-opacity="0.00"/><stop offset="0.00463" stop-color="#8806f9" stop-opacity="0.00"/><stop offset="0.00694" stop-color="#8806f9" stop-opacity="0.00"/><stop offset="0.00694" stop-color="#8906f8" stop-opacity="0.01"/><stop offset="0.00926" stop-color="#8906f8" stop-opacity="0.01"/><stop offset="0.00926" stop-color="#8906f8" stop-opacity="0.01"/><stop offset="0.01157" stop-color="#8906f8" stop-opacity="0.01"/><stop offset="0.01157" stop-color="#8906f7" stop-opacity="0.01"/><stop offset="0.01389" stop-color="#8906f7" stop-opacity="0.01"/><stop offset="0.01389" stop-color="#8806f9" stop-opacity="0.02"/><stop offset="0.01620" stop-color="#8806f9" stop-opacity="0.02"/><stop offset="0.01620" stop-color="#8806f9" stop-opacity="0.02"/><stop offset="0.01852" stop-color="#8806f9" stop-opacity="0.02"/><stop offset="0.01852" stop-color="#8906f8" stop-opacity="0.03"/><stop offset="0.02083" stop-color="#8906f8" stop-opacity="0.03"/><stop offset="0.02083" stop-color="#8806f8" stop-opacity="0.03"/><stop offset="0.02315" stop-color="#8806f8" stop-opacity="0.03"/><stop offset="0.02315" stop-color="#8906f7" stop-opacity="0.04"/><stop offset="0.02546" stop-color="#8906f7" stop-opacity="0.04"/><stop offset="0.02546" stop-color="#8806f9" stop-opacity="0.04"/><stop offset="0.02778" stop-color="#8806f9" stop-opacity="0.04"/><stop offset="0.02778" stop-color="#8b07f3" stop-opacity="0.05"/><stop offset="0.03009" stop-color="#8b07f3" stop-opacity="0.05"/><stop offset="0.03009" stop-color="#8a06f5" stop-opacity="0.05"/><stop offset="0.03241" stop-color="#8a06f5" stop-opacity="0.05"/><stop offset="0.03241" stop-color="#8906f8" stop-opacity="0.06"/><stop offset="0.03472" stop-color="#8906f8" stop-opacity="0.06"/><stop offset="0.03472" stop-color="#8906f8" stop-opacity="0.07"/><stop offset="0.03704" stop-color="#8906f8" stop-opacity="0.07"/><stop offset="0.03704" stop-color="#8906f7" stop-opacity="0.07"/><stop offset="0.03935" stop-color="#8906f7" stop-opacity="0.07"/><stop offset="0.03935" stop-color="#8605fb" stop-opacity="0.08"/><stop offset="0.04167" stop-color="#8605fb" stop-opacity="0.08"/><stop offset="0.04167" stop-color="#8605fb" stop-opacity="0.09"/><stop offset="0.04398" stop-color="#8605fb" stop-opacity="0.09"/><stop offset="0.04398" stop-color="#8706fa" stop-opacity="0.10"/><stop offset="0.04630" stop-color="#8706fa" stop-opacity="0.10"/><stop offset="0.04630" stop-color="#8806f9" stop-opacity="0.10"/><stop offset="0.04861" stop-color="#8806f9" stop-opacity="0.10"/><stop offset="0.04861" stop-color="#8605fb" stop-opacity="0.11"/><stop offset="0.05093" stop-color="#8605fb" stop-opacity="0.11"/><stop offset="0.05093" stop-color="#8605fb" stop-opacity="0.12"/><stop offset="0.05324" stop-color="#8605fb" stop-opacity="0.12"/><stop offset="0.05324" stop-color="#8605fb" stop-opacity="0.13"/><stop offset="0.05556" stop-color="#8605fb" stop-opacity="0.13"/><stop offset="0.05556" stop-color="#8605fb" stop-opacity="0.14"/><stop offset="0.05787" stop-color="#8605fb" stop-opacity="0.14"/><stop offset="0.05787" stop-color="#8605fb" stop-opacity="0.15"/><stop offset="0.06019" stop-color="#8605fb" stop-opacity="0.15"/><stop offset="0.06019" stop-color="#8605fb" stop-opacity="0.16"/><stop offset="0.06250" stop-color="#8605fb" stop-opacity="0.16"/><stop offset="0.06250" stop-color="#9a0dbe" stop-opacity="0.16"/><stop offset="0.06481" stop-color="#9a0dbe" stop-opacity="0.16"/><stop offset="0.06481" stop-color="#980bc9" stop-opacity="0.17"/><stop offset="0.06713" stop-color="#980bc9" stop-opacity="0.17"/><stop offset="0.06713" stop-color="#980bcb" stop-opacity="0.18"/><stop offset="0.06944" stop-color="#980bcb" stop-opacity="0.18"/><stop offset="0.06944" stop-color="#8806fa" stop-opacity="0.19"/><stop offset="0.07176" stop-color="#8806fa" stop-opacity="0.19"/><stop offset="0.07176" stop-color="#8605fb" stop-opacity="0.20"/><stop offset="0.07407" stop-color="#8605fb" stop-opacity="0.20"/><stop offset="0.07407" stop-color="#8605fb" stop-opacity="0.21"/><stop offset="0.07639" stop-color="#8605fb" stop-opacity="0.21"/><stop offset="0.07639" stop-color="#8605fb" stop-opacity="0.22"/><stop offset="0.07870" stop-color="#8605fb" stop-opacity="0.22"/><stop offset="0.07870" stop-color="#8605fb" stop-opacity="0.23"/><stop offset="0.08102" stop-color="#8605fb" stop-opacity="0.23"/><stop offset="0.08102" stop-color="#8605fb" stop-opacity="0.24"/><stop offset="0.08333" stop-color="#8605fb" stop-opacity="0.24"/><stop offset="0.08333" stop-color="#8806fa" stop-opacity="0.25"/><stop offset="0.08565" stop-color="#8806fa" stop-opacity="0.25"/><stop offset="0.08565" stop-color="#8706fa" stop-opacity="0.26"/><stop offset="0.08796" stop-color="#8706fa" stop-opacity="0.26"/><stop offset="0.08796" stop-color="#8706fb" stop-opacity="0.27"/><stop offset="0.09028" stop-color="#8706fb" stop-opacity="0.27"/><stop offset="0.09028" stop-color="#8605fb" stop-opacity="0.29"/><stop offset="0.09259" stop-color="#8605fb" stop-opacity="0.29"/><stop offset="0.09259" stop-color="#8605fb" stop-opacity="0.30"/><stop offset="0.09491" stop-color="#8605fb" stop-opacity="0.30"/><stop offset="0.09491" stop-color="#8605fb" stop-opacity="0.31"/><stop offset="0.09722" stop-color="#8605fb" stop-opacity="0.31"/><stop offset="0.09722" stop-color="#8706fb" stop-opacity="0.32"/><stop offset="0.09954" stop-color="#8706fb" stop-opacity="0.32"/><stop offset="0.09954" stop-color="#8605fb" stop-opacity="0.33"/><stop offset="0.10185" stop-color="#8605fb" stop-opacity="0.33"/><stop offset="0.10185" stop-color="#8706fb" stop-opacity="0.34"/><stop offset="0.10417" stop-color="#8706fb" stop-opacity="0.34"/><stop offset="0.10417" stop-color="#8605fb" stop-opacity="0.35"/><stop offset="0.10648" stop-color="#8605fb" stop-opacity="0.35"/><stop offset="0.10648" stop-color="#8605fb" stop-opacity="0.37"/><stop offset="0.10880" stop-color="#8605fb" stop-opacity="0.37"/><stop offset="0.10880" stop-color="#8706fa" stop-opacity="0.38"/><stop offset="0.11111" stop-color="#8706fa" stop-opacity="0.38"/><stop offset="0.11111" stop-color="#8806fa" stop-opacity="0.39"/><stop offset="0.11343" stop-color="#8806fa" stop-opacity="0.39"/><stop offset="0.11343" stop-color="#8706fa" stop-opacity="0.40"/><stop offset="0.11574" stop-color="#8706fa" stop-opacity="0.40"/><stop offset="0.11574" stop-color="#8605fb" stop-opacity="0.41"/><stop offset="0.11806" stop-color="#8605fb" stop-opacity="0.41"/><stop offset="0.11806" stop-color="#8605fb" stop-opacity="0.43"/><stop offset="0.12037" stop-color="#8605fb" stop-opacity="0.43"/><stop offset="0.12037" stop-color="#8605fb" stop-opacity="0.44"/><stop offset="0.12269" stop-color="#8605fb" stop-opacity="0.44"/><stop offset="0.12269" stop-color="#8605fb" stop-opacity="0.45"/><stop offset="0.12500" stop-color="#8605fb" stop-opacity="0.45"/><stop offset="0.12500" stop-color="#8605fb" stop-opacity="0.46"/><stop offset="0.12731" stop-color="#8605fb" stop-opacity="0.46"/><stop offset="0.12731" stop-color="#8605fb" stop-opacity="0.48"/><stop offset="0.12963" stop-color="#8605fb" stop-opacity="0.48"/><stop offset="0.12963" stop-color="#8605fb" stop-opacity="0.49"/><stop offset="0.13194" stop-color="#8605fb" stop-opacity="0.49"/><stop offset="0.13194" stop-color="#8605fb" stop-opacity="0.50"/><stop offset="0.13426" stop-color="#8605fb" stop-opacity="0.50"/><stop offset="0.13426" stop-color="#8605fb" stop-opacity="0.52"/><stop offset="0.13657" stop-color="#8605fb" stop-opacity="0.52"/><stop offset="0.13657" stop-color="#8605fb" stop-opacity="0.53"/><stop offset="0.13889" stop-color="#8605fb" stop-opacity="0.53"/><stop offset="0.13889" stop-color="#8605fb" stop-opacity="0.54"/><stop offset="0.14120" stop-color="#8605fb" stop-opacity="0.54"/><stop offset="0.14120" stop-color="#8605fb" stop-opacity="0.56"/><stop offset="0.14352" stop-color="#8605fb" stop-opacity="0.56"/><stop offset="0.14352" stop-color="#8605fb" stop-opacity="0.57"/><stop offset="0.14583" stop-color="#8605fb" stop-opacity="0.57"/><stop offset="0.14583" stop-color="#8605fb" stop-opacity="0.59"/><stop offset="0.14815" stop-color="#8605fb" stop-opacity="0.59"/><stop offset="0.14815" stop-color="#8605fb" stop-opacity="0.60"/><stop offset="0.15046" stop-color="#8605fb" stop-opacity="0.60"/><stop offset="0.15046" stop-color="#8605fb" stop-opacity="0.61"/><stop offset="0.15278" stop-color="#8605fb" stop-opacity="0.61"/><stop offset="0.15278" stop-color="#8605fb" stop-opacity="0.63"/><stop offset="0.15509" stop-color="#8605fb" stop-opacity="0.63"/><stop offset="0.15509" stop-color="#8605fb" stop-opacity="0.64"/><stop offset="0.15741" stop-color="#8605fb" stop-opacity="0.64"/><stop offset="0.15741" stop-color="#8605fb" stop-opacity="0.66"/><stop offset="0.15972" stop-color="#8605fb" stop-opacity="0.66"/><stop offset="0.15972" stop-color="#8605fb" stop-opacity="0.67"/><stop offset="0.16204" stop-color="#8605fb" stop-opacity="0.67"/><stop offset="0.16204" stop-color="#8605fb" stop-opacity="0.69"/><stop offset="0.16435" stop-color="#8605fb" stop-opacity="0.69"/><stop offset="0.16435" stop-color="#8605fb" stop-opacity="0.70"/><stop offset="0.16667" stop-color="#8605fb" stop-opacity="0.70"/><stop offset="0.16667" stop-color="#8605fb" stop-opacity="0.72"/><stop offset="0.16898" stop-color="#8605fb" stop-opacity="0.72"/><stop offset="0.16898" stop-color="#8605fb" stop-opacity="0.73"/><stop offset="0.17130" stop-color="#8605fb" stop-opacity="0.73"/><stop offset="0.17130" stop-color="#8605fb" stop-opacity="0.75"/><stop offset="0.17361" stop-color="#8605fb" stop-opacity="0.75"/><stop offset="0.17361" stop-color="#8605fb" stop-opacity="0.76"/><stop offset="0.17593" stop-color="#8605fb" stop-opacity="0.76"/><stop offset="0.17593" stop-color="#8605fb" stop-opacity="0.78"/><stop offset="0.17824" stop-color="#8605fb" stop-opacity="0.78"/><stop offset="0.17824" stop-color="#8605fb" stop-opacity="0.79"/><stop offset="0.18056" stop-color="#8605fb" stop-opacity="0.79"/><stop offset="0.18056" stop-color="#8605fb" stop-opacity="0.81"/><stop offset="0.18287" stop-color="#8605fb" stop-opacity="0.81"/><stop offset="0.18287" stop-color="#8605fb" stop-opacity="0.82"/><stop offset="0.18519" stop-color="#8605fb" stop-opacity="0.82"/><stop offset="0.18519" stop-color="#8605fb" stop-opacity="0.84"/><stop offset="0.18750" stop-color="#8605fb" stop-opacity="0.84"/><stop offset="0.18750" stop-color="#8605fb" stop-opacity="0.85"/><stop offset="0.18981" stop-color="#8605fb" stop-opacity="0.85"/><stop offset="0.18981" stop-color="#8605fb" stop-opacity="0.87"/><stop offset="0.19213" stop-color="#8605fb" stop-opacity="0.87"/><stop offset="0.19213" stop-color="#8605fb" stop-opacity="0.89"/><stop offset="0.19444" stop-color="#8605fb" stop-opacity="0.89"/><stop offset="0.19444" stop-color="#8605fb" stop-opacity="0.90"/><stop offset="0.19676" stop-color="#8605fb" stop-opacity="0.90"/><stop offset="0.19676" stop-color="#8605fb" stop-opacity="0.92"/><stop offset="0.19907" stop-color="#8605fb" stop-opacity="0.92"/><stop offset="0.19907" stop-color="#8605fb" stop-opacity="0.93"/><stop offset="0.20139" stop-color="#8605fb" stop-opacity="0.93"/><stop offset="0.20139" stop-color="#8605fb" stop-opacity="0.95"/><stop offset="0.20370" stop-color="#8605fb" stop-opacity="0.95"/><stop offset="0.20370" stop-color="#8605fb" stop-opacity="0.97"/><stop offset="0.20602" stop-color="#8605fb" stop-opacity="0.97"/><stop offset="0.20602" stop-color="#8605fb" stop-opacity="0.98"/><stop offset="0.20833" stop-color="#8605fb" stop-opacity="0.98"/><stop offset="0.20833" stop-color="#8605fb" stop-opacity="1.00"/><stop offset="0.21065" stop-color="#8605fb" stop-opacity="1.00"/><stop offset="0.21065" stop-color="#8605fb" stop-opacity="1.00"/><stop offset="0.21296" stop-color="#8605fb" stop-opacity="1.00"/><stop offset="0.21296" stop-color="#8605fb" stop-opacity="1.00"/><stop offset="0.21528" stop-color="#8605fb" stop-opacity="1.00"/><stop offset="0.21528" stop-color="#8605fb" stop-opacity="1.00"/><stop offset="0.21759" stop-color="#8605fb" stop-opacity="1.00"/><stop offset="0.21759" stop-color="#8605fb" stop-opacity="1.00"/><stop offset="0.21991" stop-color="#8605fb" stop-opacity="1.00"/><stop offset="0.21991" stop-color="#8605fb" stop-opacity="1.00"/><stop offset="0.22222" stop-color="#8605fb" stop-opacity="1.00"/><stop offset="0.22222" stop-color="#8605fb" stop-opacity="1.00"/><stop offset="0.22454" stop-color="#8605fb" stop-opacity="1.00"/><stop offset="0.22454" stop-color="#8605fb" stop-opacity="1.00"/><stop offset="0.22685" stop-color="#8605fb" stop-opacity="1.00"/><stop offset="0.22685" stop-color="#8605fb" stop-opacity="1.00"/><stop offset="0.22917" stop-color="#8605fb" stop-opacity="1.00"/><stop offset="0.22917" stop-color="#8605fb" stop-opacity="1.00"/><stop offset="0.23148" stop-color="#8605fb" stop-opacity="1.00"/><stop offset="0.23148" stop-color="#8605fb" stop-opacity="1.00"/><stop offset="0.23380" stop-color="#8605fb" stop-opacity="1.00"/><stop offset="0.23380" stop-color="#8605fb" stop-opacity="1.00"/><stop offset="0.23611" stop-color="#8605fb" stop-opacity="1.00"/><stop offset="0.23611" stop-color="#8605fb" stop-opacity="1.00"/><stop offset="0.23843" stop-color="#8605fb" stop-opacity="1.00"/><stop offset="0.23843" stop-color="#8605fb" stop-opacity="1.00"/><stop offset="0.24074" stop-color="#8605fb" stop-opacity="1.00"/><stop offset="0.24074" stop-color="#8605fb" stop-opacity="1.00"/><stop offset="0.24306" stop-color="#8605fb" stop-opacity="1.00"/><stop offset="0.24306" stop-color="#8605fb" stop-opacity="1.00"/><stop offset="0.24537" stop-color="#8605fb" stop-opacity="1.00"/><stop offset="0.24537" stop-color="#8605fb" stop-opacity="1.00"/><stop offset="0.24769" stop-color="#8605fb" stop-opacity="1.00"/><stop offset="0.24769" stop-color="#8605fb" stop-opacity="1.00"/><stop offset="0.25000" stop-color="#8605fb" stop-opacity="1.00"/><stop offset="0.25000" stop-color="#8605fb" stop-opacity="1.00"/><stop offset="0.25231" stop-color="#8605fb" stop-opacity="1.00"/><stop offset="0.25231" stop-color="#8605fb" stop-opacity="1.00"/><stop offset="0.25463" stop-color="#8605fb" stop-opacity="1.00"/><stop offset="0.25463" stop-color="#8605fb" stop-opacity="1.00"/><stop offset="0.25694" stop-color="#8605fb" stop-opacity="1.00"/><stop offset="0.25694" stop-color="#8605fb" stop-opacity="1.00"/><stop offset="0.25926" stop-color="#8605fb" stop-opacity="1.00"/><stop offset="0.25926" stop-color="#8605fb" stop-opacity="1.00"/><stop offset="0.26157" stop-color="#8605fb" stop-opacity="1.00"/><stop offset="0.26157" stop-color="#8605fb" stop-opacity="1.00"/><stop offset="0.26389" stop-color="#8605fb" stop-opacity="1.00"/><stop offset="0.26389" stop-color="#8605fb" stop-opacity="1.00"/><stop offset="0.26620" stop-color="#8605fb" stop-opacity="1.00"/><stop offset="0.26620" stop-color="#8605fb" stop-opacity="1.00"/><stop offset="0.26852" stop-color="#8605fb" stop-opacity="1.00"/><stop offset="0.26852" stop-color="#8605fb" stop-opacity="1.00"/><stop offset="0.27083" stop-color="#8605fb" stop-opacity="1.00"/><stop offset="0.27083" stop-color="#8605fb" stop-opacity="1.00"/><stop offset="0.27315" stop-color="#8605fb" stop-opacity="1.00"/><stop offset="0.27315" stop-color="#8605fb" stop-opacity="1.00"/><stop offset="0.27546" stop-color="#8605fb" stop-opacity="1.00"/><stop offset="0.27546" stop-color="#8605fb" stop-opacity="1.00"/><stop offset="0.27778" stop-color="#8605fb" stop-opacity="1.00"/><stop offset="0.27778" stop-color="#8605fb" stop-opacity="1.00"/><stop offset="0.28009" stop-color="#8605fb" stop-opacity="1.00"/><stop offset="0.28009" stop-color="#8605fb" stop-opacity="1.00"/><stop offset="0.28241" stop-color="#8605fb" stop-opacity="1.00"/><stop offset="0.28241" stop-color="#8605fb" stop-opacity="1.00"/><stop offset="0.28472" stop-color="#8605fb" stop-opacity="1.00"/><stop offset="0.28472" stop-color="#8605fb" stop-opacity="1.00"/><stop offset="0.28704" stop-color="#8605fb" stop-opacity="1.00"/><stop offset="0.28704" stop-color="#8605fb" stop-opacity="1.00"/><stop offset="0.28935" stop-color="#8605fb" stop-opacity="1.00"/><stop offset="0.28935" stop-color="#8605fb" stop-opacity="1.00"/><stop offset="0.29167" stop-color="#8605fb" stop-opacity="1.00"/><stop offset="0.29167" stop-color="#8605fb" stop-opacity="1.00"/><stop offset="0.29398" stop-color="#8605fb" stop-opacity="1.00"/><stop offset="0.29398" stop-color="#8605fb" stop-opacity="1.00"/><stop offset="0.29630" stop-color="#8605fb" stop-opacity="1.00"/><stop offset="0.29630" stop-color="#8605fb" stop-opacity="1.00"/><stop offset="0.29861" stop-color="#8605fb" stop-opacity="1.00"/><stop offset="0.29861" stop-color="#8605fb" stop-opacity="1.00"/><stop offset="0.30093" stop-color="#8605fb" stop-opacity="1.00"/><stop offset="0.30093" stop-color="#8605fb" stop-opacity="1.00"/><stop offset="0.30324" stop-color="#8605fb" stop-opacity="1.00"/><stop offset="0.30324" stop-color="#8605fb" stop-opacity="1.00"/><stop offset="0.30556" stop-color="#8605fb" stop-opacity="1.00"/><stop offset="0.30556" stop-color="#8605fb" stop-opacity="1.00"/><stop offset="0.30787" stop-color="#8605fb" stop-opacity="1.00"/><stop offset="0.30787" stop-color="#8605fb" stop-opacity="1.00"/><stop offset="0.31019" stop-color="#8605fb" stop-opacity="1.00"/><stop offset="0.31019" stop-color="#8605fb" stop-opacity="1.00"/><stop offset="0.31250" stop-color="#8605fb" stop-opacity="1.00"/><stop offset="0.31250" stop-color="#990cc3" stop-opacity="1.00"/><stop offset="0.31481" stop-color="#990cc3" stop-opacity="1.00"/><stop offset="0.31481" stop-color="#8605fb" stop-opacity="1.00"/><stop offset="0.31713" stop-color="#8605fb" stop-opacity="1.00"/><stop offset="0.31713" stop-color="#8605fb" stop-opacity="1.00"/><stop offset="0.31944" stop-color="#8605fb" stop-opacity="1.00"/><stop offset="0.31944" stop-color="#8605fb" stop-opacity="1.00"/><stop offset="0.32176" stop-color="#8605fb" stop-opacity="1.00"/><stop offset="0.32176" stop-color="#8b07f4" stop-opacity="1.00"/><stop offset="0.32407" stop-color="#8b07f4" stop-opacity="1.00"/><stop offset="0.32407" stop-color="#8605fb" stop-opacity="1.00"/><stop offset="0.32639" stop-color="#8605fb" stop-opacity="1.00"/><stop offset="0.32639" stop-color="#8605fb" stop-opacity="1.00"/><stop offset="0.32870" stop-color="#8605fb" stop-opacity="1.00"/><stop offset="0.32870" stop-color="#8605fb" stop-opacity="1.00"/><stop offset="0.33102" stop-color="#8605fb" stop-opacity="1.00"/><stop offset="0.33102" stop-color="#8605fb" stop-opacity="1.00"/><stop offset="0.33333" stop-color="#8605fb" stop-opacity="1.00"/><stop offset="0.33333" stop-color="#8605fb" stop-opacity="1.00"/><stop offset="0.33565" stop-color="#8605fb" stop-opacity="1.00"/><stop offset="0.33565" stop-color="#8605fb" stop-opacity="1.00"/><stop offset="0.33796" stop-color="#8605fb" stop-opacity="1.00"/><stop offset="0.33796" stop-color="#8605fb" stop-opacity="1.00"/><stop offset="0.34028" stop-color="#8605fb" stop-opacity="1.00"/><stop offset="0.34028" stop-color="#8605fb" stop-opacity="1.00"/><stop offset="0.34259" stop-color="#8605fb" stop-opacity="1.00"/><stop offset="0.34259" stop-color="#8605fb" stop-opacity="1.00"/><stop offset="0.34491" stop-color="#8605fb" stop-opacity="1.00"/><stop offset="0.34491" stop-color="#8605fb" stop-opacity="1.00"/><stop offset="0.34722" stop-color="#8605fb" stop-opacity="1.00"/><stop offset="0.34722" stop-color="#8605fb" stop-opacity="1.00"/><stop offset="0.34954" stop-color="#8605fb" stop-opacity="1.00"/><stop offset="0.34954" stop-color="#8605fb" stop-opacity="1.00"/><stop offset="0.35185" stop-color="#8605fb" stop-opacity="1.00"/><stop offset="0.35185" stop-color="#8605fb" stop-opacity="1.00"/><stop offset="0.35417" stop-color="#8605fb" stop-opacity="1.00"/><stop offset="0.35417" stop-color="#8605fb" stop-opacity="1.00"/><stop offset="0.35648" stop-color="#8605fb" stop-opacity="1.00"/><stop offset="0.35648" stop-color="#8605fb" stop-opacity="1.00"/><stop offset="0.35880" stop-color="#8605fb" stop-opacity="1.00"/><stop offset="0.35880" stop-color="#8605fb" stop-opacity="1.00"/><stop offset="0.36111" stop-color="#8605fb" stop-opacity="1.00"/><stop offset="0.36111" stop-color="#8605fb" stop-opacity="1.00"/><stop offset="0.36343" stop-color="#8605fb" stop-opacity="1.00"/><stop offset="0.36343" stop-color="#8605fb" stop-opacity="1.00"/><stop offset="0.36574" stop-color="#8605fb" stop-opacity="1.00"/><stop offset="0.36574" stop-color="#8605fb" stop-opacity="1.00"/><stop offset="0.36806" stop-color="#8605fb" stop-opacity="1.00"/><stop offset="0.36806" stop-color="#8605fb" stop-opacity="1.00"/><stop offset="0.37037" stop-color="#8605fb" stop-opacity="1.00"/><stop offset="0.37037" stop-color="#8605fb" stop-opacity="1.00"/><stop offset="0.37269" stop-color="#8605fb" stop-opacity="1.00"/><stop offset="0.37269" stop-color="#8605fb" stop-opacity="1.00"/><stop offset="0.37500" stop-color="#8605fb" stop-opacity="1.00"/><stop offset="0.37500" stop-color="#8605fb" stop-opacity="1.00"/><stop offset="0.37731" stop-color="#8605fb" stop-opacity="1.00"/><stop offset="0.37731" stop-color="#8605fb" stop-opacity="1.00"/><stop offset="0.37963" stop-color="#8605fb" stop-opacity="1.00"/><stop offset="0.37963" stop-color="#8605fb" stop-opacity="1.00"/><stop offset="0.38194" stop-color="#8605fb" stop-opacity="1.00"/><stop offset="0.38194" stop-color="#8605fb" stop-opacity="1.00"/><stop offset="0.38426" stop-color="#8605fb" stop-opacity="1.00"/><stop offset="0.38426" stop-color="#8605fb" stop-opacity="1.00"/><stop offset="0.38657" stop-color="#8605fb" stop-opacity="1.00"/><stop offset="0.38657" stop-color="#8605fb" stop-opacity="1.00"/><stop offset="0.38889" stop-color="#8605fb" stop-opacity="1.00"/><stop offset="0.38889" stop-color="#8605fb" stop-opacity="1.00"/><stop offset="0.39120" stop-color="#8605fb" stop-opacity="1.00"/><stop offset="0.39120" stop-color="#8605fb" stop-opacity="1.00"/><stop offset="0.39352" stop-color="#8605fb" stop-opacity="1.00"/><stop offset="0.39352" stop-color="#8605fb" stop-opacity="1.00"/><stop offset="0.39583" stop-color="#8605fb" stop-opacity="1.00"/><stop offset="0.39583" stop-color="#8605fb" stop-opacity="1.00"/><stop offset="0.39815" stop-color="#8605fb" stop-opacity="1.00"/><stop offset="0.39815" stop-color="#8605fb" stop-opacity="1.00"/><stop offset="0.40046" stop-color="#8605fb" stop-opacity="1.00"/><stop offset="0.40046" stop-color="#8605fb" stop-opacity="1.00"/><stop offset="0.40278" stop-color="#8605fb" stop-opacity="1.00"/><stop offset="0.40278" stop-color="#8605fb" stop-opacity="1.00"/><stop offset="0.40509" stop-color="#8605fb" stop-opacity="1.00"/><stop offset="0.40509" stop-color="#8605fb" stop-opacity="1.00"/><stop offset="0.40741" stop-color="#8605fb" stop-opacity="1.00"/><stop offset="0.40741" stop-color="#8605fb" stop-opacity="1.00"/><stop offset="0.40972" stop-color="#8605fb" stop-opacity="1.00"/><stop offset="0.40972" stop-color="#8605fb" stop-opacity="1.00"/><stop offset="0.41204" stop-color="#8605fb" stop-opacity="1.00"/><stop offset="0.41204" stop-color="#8605fb" stop-opacity="1.00"/><stop offset="0.41435" stop-color="#8605fb" stop-opacity="1.00"/><stop offset="0.41435" stop-color="#8605fb" stop-opacity="1.00"/><stop offset="0.41667" stop-color="#8605fb" stop-opacity="1.00"/><stop offset="0.41667" stop-color="#8605fb" stop-opacity="1.00"/><stop offset="0.41898" stop-color="#8605fb" stop-opacity="1.00"/><stop offset="0.41898" stop-color="#8605fb" stop-opacity="1.00"/><stop offset="0.42130" stop-color="#8605fb" stop-opacity="1.00"/><stop offset="0.42130" stop-color="#8605fb" stop-opacity="1.00"/><stop offset="0.42361" stop-color="#8605fb" stop-opacity="1.00"/><stop offset="0.42361" stop-color="#8605fb" stop-opacity="1.00"/><stop offset="0.42593" stop-color="#8605fb" stop-opacity="1.00"/><stop offset="0.42593" stop-color="#8605fb" stop-opacity="1.00"/><stop offset="0.42824" stop-color="#8605fb" stop-opacity="1.00"/><stop offset="0.42824" stop-color="#8605fb" stop-opacity="1.00"/><stop offset="0.43056" stop-color="#8605fb" stop-opacity="1.00"/><stop offset="0.43056" stop-color="#8605fb" stop-opacity="1.00"/><stop offset="0.43287" stop-color="#8605fb" stop-opacity="1.00"/><stop offset="0.43287" stop-color="#8605fb" stop-opacity="1.00"/><stop offset="0.43519" stop-color="#8605fb" stop-opacity="1.00"/><stop offset="0.43519" stop-color="#8605fb" stop-opacity="1.00"/><stop offset="0.43750" stop-color="#8605fb" stop-opacity="1.00"/><stop offset="0.43750" stop-color="#8605fb" stop-opacity="1.00"/><stop offset="0.43981" stop-color="#8605fb" stop-opacity="1.00"/><stop offset="0.43981" stop-color="#8605fb" stop-opacity="1.00"/><stop offset="0.44213" stop-color="#8605fb" stop-opacity="1.00"/><stop offset="0.44213" stop-color="#8605fb" stop-opacity="1.00"/><stop offset="0.44444" stop-color="#8605fb" stop-opacity="1.00"/><stop offset="0.44444" stop-color="#8605fb" stop-opacity="1.00"/><stop offset="0.44676" stop-color="#8605fb" stop-opacity="1.00"/><stop offset="0.44676" stop-color="#8605fb" stop-opacity="1.00"/><stop offset="0.44907" stop-color="#8605fb" stop-opacity="1.00"/><stop offset="0.44907" stop-color="#8605fb" stop-opacity="1.00"/><stop offset="0.45139" stop-color="#8605fb" stop-opacity="1.00"/><stop offset="0.45139" stop-color="#8605fb" stop-opacity="1.00"/><stop offset="0.45370" stop-color="#8605fb" stop-opacity="1.00"/><stop offset="0.45370" stop-color="#8605fb" stop-opacity="1.00"/><stop offset="0.45602" stop-color="#8605fb" stop-opacity="1.00"/><stop offset="0.45602" stop-color="#8605fb" stop-opacity="1.00"/><stop offset="0.45833" stop-color="#8605fb" stop-opacity="1.00"/><stop offset="0.45833" stop-color="#8605fb" stop-opacity="1.00"/><stop offset="0.46065" stop-color="#8605fb" stop-opacity="1.00"/><stop offset="0.46065" stop-color="#8605fb" stop-opacity="1.00"/><stop offset="0.46296" stop-color="#8605fb" stop-opacity="1.00"/><stop offset="0.46296" stop-color="#8605fb" stop-opacity="1.00"/><stop offset="0.46528" stop-color="#8605fb" stop-opacity="1.00"/><stop offset="0.46528" stop-color="#8605fb" stop-opacity="1.00"/><stop offset="0.46759" stop-color="#8605fb" stop-opacity="1.00"/><stop offset="0.46759" stop-color="#8605fb" stop-opacity="1.00"/><stop offset="0.46991" stop-color="#8605fb" stop-opacity="1.00"/><stop offset="0.46991" stop-color="#8605fb" stop-opacity="1.00"/><stop offset="0.47222" stop-color="#8605fb" stop-opacity="1.00"/><stop offset="0.47222" stop-color="#8605fb" stop-opacity="1.00"/><stop offset="0.47454" stop-color="#8605fb" stop-opacity="1.00"/><stop offset="0.47454" stop-color="#8605fb" stop-opacity="1.00"/><stop offset="0.47685" stop-color="#8605fb" stop-opacity="1.00"/><stop offset="0.47685" stop-color="#8605fb" stop-opacity="1.00"/><stop offset="0.47917" stop-color="#8605fb" stop-opacity="1.00"/><stop offset="0.47917" stop-color="#8605fb" stop-opacity="1.00"/><stop offset="0.48148" stop-color="#8605fb" stop-opacity="1.00"/><stop offset="0.48148" stop-color="#8605fb" stop-opacity="1.00"/><stop offset="0.48380" stop-color="#8605fb" stop-opacity="1.00"/><stop offset="0.48380" stop-color="#8605fb" stop-opacity="1.00"/><stop offset="0.48611" stop-color="#8605fb" stop-opacity="1.00"/><stop offset="0.48611" stop-color="#8605fb" stop-opacity="1.00"/><stop offset="0.48843" stop-color="#8605fb" stop-opacity="1.00"/><stop offset="0.48843" stop-color="#8605fb" stop-opacity="1.00"/><stop offset="0.49074" stop-color="#8605fb" stop-opacity="1.00"/><stop offset="0.49074" stop-color="#8605fb" stop-opacity="1.00"/><stop offset="0.49306" stop-color="#8605fb" stop-opacity="1.00"/><stop offset="0.49306" stop-color="#8605fb" stop-opacity="1.00"/><stop offset="0.49537" stop-color="#8605fb" stop-opacity="1.00"/><stop offset="0.49537" stop-color="#8605fb" stop-opacity="1.00"/><stop offset="0.49769" stop-color="#8605fb" stop-opacity="1.00"/><stop offset="0.49769" stop-color="#8605fb" stop-opacity="1.00"/><stop offset="0.50000" stop-color="#8605fb" stop-opacity="1.00"/><stop offset="0.50000" stop-color="#8605fb" stop-opacity="1.00"/><stop offset="0.50231" stop-color="#8605fb" stop-opacity="1.00"/><stop offset="0.50231" stop-color="#8605fb" stop-opacity="1.00"/><stop offset="0.50463" stop-color="#8605fb" stop-opacity="1.00"/><stop offset="0.50463" stop-color="#8605fb" stop-opacity="1.00"/><stop offset="0.50694" stop-color="#8605fb" stop-opacity="1.00"/><stop offset="0.50694" stop-color="#8605fb" stop-opacity="1.00"/><stop offset="0.50926" stop-color="#8605fb" stop-opacity="1.00"/><stop offset="0.50926" stop-color="#8605fb" stop-opacity="1.00"/><stop offset="0.51157" stop-color="#8605fb" stop-opacity="1.00"/><stop offset="0.51157" stop-color="#8605fb" stop-opacity="1.00"/><stop offset="0.51389" stop-color="#8605fb" stop-opacity="1.00"/><stop offset="0.51389" stop-color="#8a06f7" stop-opacity="1.00"/><stop offset="0.51620" stop-color="#8a06f7" stop-opacity="1.00"/><stop offset="0.51620" stop-color="#8605fb" stop-opacity="1.00"/><stop offset="0.51852" stop-color="#8605fb" stop-opacity="1.00"/><stop offset="0.51852" stop-color="#8605fb" stop-opacity="1.00"/><stop offset="0.52083" stop-color="#8605fb" stop-opacity="1.00"/><stop offset="0.52083" stop-color="#8605fb" stop-opacity="1.00"/><stop offset="0.52315" stop-color="#8605fb" stop-opacity="1.00"/><stop offset="0.52315" stop-color="#8605fb" stop-opacity="1.00"/><stop offset="0.52546" stop-color="#8605fb" stop-opacity="1.00"/><stop offset="0.52546" stop-color="#8605fb" stop-opacity="1.00"/><stop offset="0.52778" stop-color="#8605fb" stop-opacity="1.00"/><stop offset="0.52778" stop-color="#8605fb" stop-opacity="1.00"/><stop offset="0.53009" stop-color="#8605fb" stop-opacity="1.00"/><stop offset="0.53009" stop-color="#8605fb" stop-opacity="1.00"/><stop offset="0.53241" stop-color="#8605fb" stop-opacity="1.00"/><stop offset="0.53241" stop-color="#8605fb" stop-opacity="1.00"/><stop offset="0.53472" stop-color="#8605fb" stop-opacity="1.00"/><stop offset="0.53472" stop-color="#8605fb" stop-opacity="1.00"/><stop offset="0.53704" stop-color="#8605fb" stop-opacity="1.00"/><stop offset="0.53704" stop-color="#8605fb" stop-opacity="1.00"/><stop offset="0.53935" stop-color="#8605fb" stop-opacity="1.00"/><stop offset="0.53935" stop-color="#8605fb" stop-opacity="1.00"/><stop offset="0.54167" stop-color="#8605fb" stop-opacity="1.00"/><stop offset="0.54167" stop-color="#8605fb" stop-opacity="1.00"/><stop offset="0.54398" stop-color="#8605fb" stop-opacity="1.00"/><stop offset="0.54398" stop-color="#8605fb" stop-opacity="1.00"/><stop offset="0.54630" stop-color="#8605fb" stop-opacity="1.00"/><stop offset="0.54630" stop-color="#8605fb" stop-opacity="1.00"/><stop offset="0.54861" stop-color="#8605fb" stop-opacity="1.00"/><stop offset="0.54861" stop-color="#8605fb" stop-opacity="1.00"/><stop offset="0.55093" stop-color="#8605fb" stop-opacity="1.00"/><stop offset="0.55093" stop-color="#8605fb" stop-opacity="1.00"/><stop offset="0.55324" stop-color="#8605fb" stop-opacity="1.00"/><stop offset="0.55324" stop-color="#8605fb" stop-opacity="1.00"/><stop offset="0.55556" stop-color="#8605fb" stop-opacity="1.00"/><stop offset="0.55556" stop-color="#8605fb" stop-opacity="1.00"/><stop offset="0.55787" stop-color="#8605fb" stop-opacity="1.00"/><stop offset="0.55787" stop-color="#8605fb" stop-opacity="1.00"/><stop offset="0.56019" stop-color="#8605fb" stop-opacity="1.00"/><stop offset="0.56019" stop-color="#8605fb" stop-opacity="1.00"/><stop offset="0.56250" stop-color="#8605fb" stop-opacity="1.00"/><stop offset="0.56250" stop-color="#8605fb" stop-opacity="1.00"/><stop offset="0.56481" stop-color="#8605fb" stop-opacity="1.00"/><stop offset="0.56481" stop-color="#8605fb" stop-opacity="1.00"/><stop offset="0.56713" stop-color="#8605fb" stop-opacity="1.00"/><stop offset="0.56713" stop-color="#8605fb" stop-opacity="1.00"/><stop offset="0.56944" stop-color="#8605fb" stop-opacity="1.00"/><stop offset="0.56944" stop-color="#8605fb" stop-opacity="1.00"/><stop offset="0.57176" stop-color="#8605fb" stop-opacity="1.00"/><stop offset="0.57176" stop-color="#8605fb" stop-opacity="1.00"/><stop offset="0.57407" stop-color="#8605fb" stop-opacity="1.00"/><stop offset="0.57407" stop-color="#8605fb" stop-opacity="1.00"/><stop offset="0.57639" stop-color="#8605fb" stop-opacity="1.00"/><stop offset="0.57639" stop-color="#8605fb" stop-opacity="1.00"/><stop offset="0.57870" stop-color="#8605fb" stop-opacity="1.00"/><stop offset="0.57870" stop-color="#8605fb" stop-opacity="1.00"/><stop offset="0.58102" stop-color="#8605fb" stop-opacity="1.00"/><stop offset="0.58102" stop-color="#8605fb" stop-opacity="1.00"/><stop offset="0.58333" stop-color="#8605fb" stop-opacity="1.00"/><stop offset="0.58333" stop-color="#8605fb" stop-opacity="1.00"/><stop offset="0.58565" stop-color="#8605fb" stop-opacity="1.00"/><stop offset="0.58565" stop-color="#8605fb" stop-opacity="1.00"/><stop offset="0.58796" stop-color="#8605fb" stop-opacity="1.00"/><stop offset="0.58796" stop-color="#8605fb" stop-opacity="1.00"/><stop offset="0.59028" stop-color="#8605fb" stop-opacity="1.00"/><stop offset="0.59028" stop-color="#8605fb" stop-opacity="1.00"/><stop offset="0.59259" stop-color="#8605fb" stop-opacity="1.00"/><stop offset="0.59259" stop-color="#8605fb" stop-opacity="1.00"/><stop offset="0.59491" stop-color="#8605fb" stop-opacity="1.00"/><stop offset="0.59491" stop-color="#8605fb" stop-opacity="1.00"/><stop offset="0.59722" stop-color="#8605fb" stop-opacity="1.00"/><stop offset="0.59722" stop-color="#8605fb" stop-opacity="1.00"/><stop offset="0.59954" stop-color="#8605fb" stop-opacity="1.00"/><stop offset="0.59954" stop-color="#8605fb" stop-opacity="1.00"/><stop offset="0.60185" stop-color="#8605fb" stop-opacity="1.00"/><stop offset="0.60185" stop-color="#8605fb" stop-opacity="1.00"/><stop offset="0.60417" stop-color="#8605fb" stop-opacity="1.00"/><stop offset="0.60417" stop-color="#8605fb" stop-opacity="1.00"/><stop offset="0.60648" stop-color="#8605fb" stop-opacity="1.00"/><stop offset="0.60648" stop-color="#8605fb" stop-opacity="1.00"/><stop offset="0.60880" stop-color="#8605fb" stop-opacity="1.00"/><stop offset="0.60880" stop-color="#8605fb" stop-opacity="1.00"/><stop offset="0.61111" stop-color="#8605fb" stop-opacity="1.00"/><stop offset="0.61111" stop-color="#8605fb" stop-opacity="1.00"/><stop offset="0.61343" stop-color="#8605fb" stop-opacity="1.00"/><stop offset="0.61343" stop-color="#8605fb" stop-opacity="1.00"/><stop offset="0.61574" stop-color="#8605fb" stop-opacity="1.00"/><stop offset="0.61574" stop-color="#8605fb" stop-opacity="1.00"/><stop offset="0.61806" stop-color="#8605fb" stop-opacity="1.00"/><stop offset="0.61806" stop-color="#8605fb" stop-opacity="1.00"/><stop offset="0.62037" stop-color="#8605fb" stop-opacity="1.00"/><stop offset="0.62037" stop-color="#8605fb" stop-opacity="1.00"/><stop offset="0.62269" stop-color="#8605fb" stop-opacity="1.00"/><stop offset="0.62269" stop-color="#8605fb" stop-opacity="1.00"/><stop offset="0.62500" stop-color="#8605fb" stop-opacity="1.00"/><stop offset="0.62500" stop-color="#8605fb" stop-opacity="1.00"/><stop offset="0.62731" stop-color="#8605fb" stop-opacity="1.00"/><stop offset="0.62731" stop-color="#8605fb" stop-opacity="1.00"/><stop offset="0.62963" stop-color="#8605fb" stop-opacity="1.00"/><stop offset="0.62963" stop-color="#8605fb" stop-opacity="1.00"/><stop offset="0.63194" stop-color="#8605fb" stop-opacity="1.00"/><stop offset="0.63194" stop-color="#8605fb" stop-opacity="1.00"/><stop offset="0.63426" stop-color="#8605fb" stop-opacity="1.00"/><stop offset="0.63426" stop-color="#8605fb" stop-opacity="1.00"/><stop offset="0.63657" stop-color="#8605fb" stop-opacity="1.00"/><stop offset="0.63657" stop-color="#8605fb" stop-opacity="1.00"/><stop offset="0.63889" stop-color="#8605fb" stop-opacity="1.00"/><stop offset="0.63889" stop-color="#8605fb" stop-opacity="1.00"/><stop offset="0.64120" stop-color="#8605fb" stop-opacity="1.00"/><stop offset="0.64120" stop-color="#8605fb" stop-opacity="1.00"/><stop offset="0.64352" stop-color="#8605fb" stop-opacity="1.00"/><stop offset="0.64352" stop-color="#8605fb" stop-opacity="1.00"/><stop offset="0.64583" stop-color="#8605fb" stop-opacity="1.00"/><stop offset="0.64583" stop-color="#8906f7" stop-opacity="1.00"/><stop offset="0.64815" stop-color="#8906f7" stop-opacity="1.00"/><stop offset="0.64815" stop-color="#8605fb" stop-opacity="1.00"/><stop offset="0.65046" stop-color="#8605fb" stop-opacity="1.00"/><stop offset="0.65046" stop-color="#8605fb" stop-opacity="1.00"/><stop offset="0.65278" stop-color="#8605fb" stop-opacity="1.00"/><stop offset="0.65278" stop-color="#8605fb" stop-opacity="1.00"/><stop offset="0.65509" stop-color="#8605fb" stop-opacity="1.00"/><stop offset="0.65509" stop-color="#8605fb" stop-opacity="1.00"/><stop offset="0.65741" stop-color="#8605fb" stop-opacity="1.00"/><stop offset="0.65741" stop-color="#8605fb" stop-opacity="1.00"/><stop offset="0.65972" stop-color="#8605fb" stop-opacity="1.00"/><stop offset="0.65972" stop-color="#8605fb" stop-opacity="1.00"/><stop offset="0.66204" stop-color="#8605fb" stop-opacity="1.00"/><stop offset="0.66204" stop-color="#8605fb" stop-opacity="1.00"/><stop offset="0.66435" stop-color="#8605fb" stop-opacity="1.00"/><stop offset="0.66435" stop-color="#8605fb" stop-opacity="1.00"/><stop offset="0.66667" stop-color="#8605fb" stop-opacity="1.00"/><stop offset="0.66667" stop-color="#8605fb" stop-opacity="1.00"/><stop offset="0.66898" stop-color="#8605fb" stop-opacity="1.00"/><stop offset="0.66898" stop-color="#8605fb" stop-opacity="1.00"/><stop offset="0.67130" stop-color="#8605fb" stop-opacity="1.00"/><stop offset="0.67130" stop-color="#8605fb" stop-opacity="1.00"/><stop offset="0.67361" stop-color="#8605fb" stop-opacity="1.00"/><stop offset="0.67361" stop-color="#8605fb" stop-opacity="1.00"/><stop offset="0.67593" stop-color="#8605fb" stop-opacity="1.00"/><stop offset="0.67593" stop-color="#8605fb" stop-opacity="1.00"/><stop offset="0.67824" stop-color="#8605fb" stop-opacity="1.00"/><stop offset="0.67824" stop-color="#8605fb" stop-opacity="1.00"/><stop offset="0.68056" stop-color="#8605fb" stop-opacity="1.00"/><stop offset="0.68056" stop-color="#8605fb" stop-opacity="1.00"/><stop offset="0.68287" stop-color="#8605fb" stop-opacity="1.00"/><stop offset="0.68287" stop-color="#8605fb" stop-opacity="1.00"/><stop offset="0.68519" stop-color="#8605fb" stop-opacity="1.00"/><stop offset="0.68519" stop-color="#8605fb" stop-opacity="1.00"/><stop offset="0.68750" stop-color="#8605fb" stop-opacity="1.00"/><stop offset="0.68750" stop-color="#8806f9" stop-opacity="1.00"/><stop offset="0.68981" stop-color="#8806f9" stop-opacity="1.00"/><stop offset="0.68981" stop-color="#8605fb" stop-opacity="1.00"/><stop offset="0.69213" stop-color="#8605fb" stop-opacity="1.00"/><stop offset="0.69213" stop-color="#8605fb" stop-opacity="1.00"/><stop offset="0.69444" stop-color="#8605fb" stop-opacity="1.00"/><stop offset="0.69444" stop-color="#8605fb" stop-opacity="1.00"/><stop offset="0.69676" stop-color="#8605fb" stop-opacity="1.00"/><stop offset="0.69676" stop-color="#8605fb" stop-opacity="1.00"/><stop offset="0.69907" stop-color="#8605fb" stop-opacity="1.00"/><stop offset="0.69907" stop-color="#8605fb" stop-opacity="1.00"/><stop offset="0.70139" stop-color="#8605fb" stop-opacity="1.00"/><stop offset="0.70139" stop-color="#8605fb" stop-opacity="1.00"/><stop offset="0.70370" stop-color="#8605fb" stop-opacity="1.00"/><stop offset="0.70370" stop-color="#9309dd" stop-opacity="1.00"/><stop offset="0.70602" stop-color="#9309dd" stop-opacity="1.00"/><stop offset="0.70602" stop-color="#9209e3" stop-opacity="1.00"/><stop offset="0.70833" stop-color="#9209e3" stop-opacity="1.00"/><stop offset="0.70833" stop-color="#8605fb" stop-opacity="1.00"/><stop offset="0.71065" stop-color="#8605fb" stop-opacity="1.00"/><stop offset="0.71065" stop-color="#8605fb" stop-opacity="1.00"/><stop offset="0.71296" stop-color="#8605fb" stop-opacity="1.00"/><stop offset="0.71296" stop-color="#8605fb" stop-opacity="1.00"/><stop offset="0.71528" stop-color="#8605fb" stop-opacity="1.00"/><stop offset="0.71528" stop-color="#8605fb" stop-opacity="1.00"/><stop offset="0.71759" stop-color="#8605fb" stop-opacity="1.00"/><stop offset="0.71759" stop-color="#8605fb" stop-opacity="1.00"/><stop offset="0.71991" stop-color="#8605fb" stop-opacity="1.00"/><stop offset="0.71991" stop-color="#8605fb" stop-opacity="1.00"/><stop offset="0.72222" stop-color="#8605fb" stop-opacity="1.00"/><stop offset="0.72222" stop-color="#8605fb" stop-opacity="1.00"/><stop offset="0.72454" stop-color="#8605fb" stop-opacity="1.00"/><stop offset="0.72454" stop-color="#8605fb" stop-opacity="1.00"/><stop offset="0.72685" stop-color="#8605fb" stop-opacity="1.00"/><stop offset="0.72685" stop-color="#8605fb" stop-opacity="1.00"/><stop offset="0.72917" stop-color="#8605fb" stop-opacity="1.00"/><stop offset="0.72917" stop-color="#8605fb" stop-opacity="1.00"/><stop offset="0.73148" stop-color="#8605fb" stop-opacity="1.00"/><stop offset="0.73148" stop-color="#8c07f1" stop-opacity="1.00"/><stop offset="0.73380" stop-color="#8c07f1" stop-opacity="1.00"/><stop offset="0.73380" stop-color="#8605fb" stop-opacity="1.00"/><stop offset="0.73611" stop-color="#8605fb" stop-opacity="1.00"/><stop offset="0.73611" stop-color="#8605fb" stop-opacity="1.00"/><stop offset="0.73843" stop-color="#8605fb" stop-opacity="1.00"/><stop offset="0.73843" stop-color="#8b07f3" stop-opacity="1.00"/><stop offset="0.74074" stop-color="#8b07f3" stop-opacity="1.00"/><stop offset="0.74074" stop-color="#8b07f4" stop-opacity="1.00"/><stop offset="0.74306" stop-color="#8b07f4" stop-opacity="1.00"/><stop offset="0.74306" stop-color="#8605fb" stop-opacity="1.00"/><stop offset="0.74537" stop-color="#8605fb" stop-opacity="1.00"/><stop offset="0.74537" stop-color="#8605fb" stop-opacity="1.00"/><stop offset="0.74769" stop-color="#8605fb" stop-opacity="1.00"/><stop offset="0.74769" stop-color="#8605fb" stop-opacity="1.00"/><stop offset="0.75000" stop-color="#8605fb" stop-opacity="1.00"/><stop offset="0.75000" stop-color="#7e04ff" stop-opacity="1.00"/><stop offset="0.75231" stop-color="#7e04ff" stop-opacity="1.00"/><stop offset="0.75231" stop-color="#7e04ff" stop-opacity="1.00"/><stop offset="0.75463" stop-color="#7e04ff" stop-opacity="1.00"/><stop offset="0.75463" stop-color="#7e04ff" stop-opacity="1.00"/><stop offset="0.75694" stop-color="#7e04ff" stop-opacity="1.00"/><stop offset="0.75694" stop-color="#7e04ff" stop-opacity="1.00"/><stop offset="0.75926" stop-color="#7e04ff" stop-opacity="1.00"/><stop offset="0.75926" stop-color="#7e04ff" stop-opacity="1.00"/><stop offset="0.76157" stop-color="#7e04ff" stop-opacity="1.00"/><stop offset="0.76157" stop-color="#7e04ff" stop-opacity="1.00"/><stop offset="0.76389" stop-color="#7e04ff" stop-opacity="1.00"/><stop offset="0.76389" stop-color="#7e04ff" stop-opacity="1.00"/><stop offset="0.76620" stop-color="#7e04ff" stop-opacity="1.00"/><stop offset="0.76620" stop-color="#7e04ff" stop-opacity="1.00"/><stop offset="0.76852" stop-color="#7e04ff" stop-opacity="1.00"/><stop offset="0.76852" stop-color="#7e04ff" stop-opacity="1.00"/><stop offset="0.77083" stop-color="#7e04ff" stop-opacity="1.00"/><stop offset="0.77083" stop-color="#7e04ff" stop-opacity="1.00"/><stop offset="0.77315" stop-color="#7e04ff" stop-opacity="1.00"/><stop offset="0.77315" stop-color="#7e04ff" stop-opacity="1.00"/><stop offset="0.77546" stop-color="#7e04ff" stop-opacity="1.00"/><stop offset="0.77546" stop-color="#7e04ff" stop-opacity="1.00"/><stop offset="0.77778" stop-color="#7e04ff" stop-opacity="1.00"/><stop offset="0.77778" stop-color="#7e04ff" stop-opacity="1.00"/><stop offset="0.78009" stop-color="#7e04ff" stop-opacity="1.00"/><stop offset="0.78009" stop-color="#7e04ff" stop-opacity="1.00"/><stop offset="0.78241" stop-color="#7e04ff" stop-opacity="1.00"/><stop offset="0.78241" stop-color="#7e04ff" stop-opacity="1.00"/><stop offset="0.78472" stop-color="#7e04ff" stop-opacity="1.00"/><stop offset="0.78472" stop-color="#7e04ff" stop-opacity="1.00"/><stop offset="0.78704" stop-color="#7e04ff" stop-opacity="1.00"/><stop offset="0.78704" stop-color="#7e04ff" stop-opacity="1.00"/><stop offset="0.78935" stop-color="#7e04ff" stop-opacity="1.00"/><stop offset="0.78935" stop-color="#7e04ff" stop-opacity="1.00"/><stop offset="0.79167" stop-color="#7e04ff" stop-opacity="1.00"/><stop offset="0.79167" stop-color="#7e04ff" stop-opacity="1.00"/><stop offset="0.79398" stop-color="#7e04ff" stop-opacity="1.00"/><stop offset="0.79398" stop-color="#7e04ff" stop-opacity="1.00"/><stop offset="0.79630" stop-color="#7e04ff" stop-opacity="1.00"/><stop offset="0.79630" stop-color="#7e04ff" stop-opacity="1.00"/><stop offset="0.79861" stop-color="#7e04ff" stop-opacity="1.00"/><stop offset="0.79861" stop-color="#7e04ff" stop-opacity="1.00"/><stop offset="0.80093" stop-color="#7e04ff" stop-opacity="1.00"/><stop offset="0.80093" stop-color="#7e04ff" stop-opacity="1.00"/><stop offset="0.80324" stop-color="#7e04ff" stop-opacity="1.00"/><stop offset="0.80324" stop-color="#7e04ff" stop-opacity="1.00"/><stop offset="0.80556" stop-color="#7e04ff" stop-opacity="1.00"/><stop offset="0.80556" stop-color="#7e04ff" stop-opacity="1.00"/><stop offset="0.80787" stop-color="#7e04ff" stop-opacity="1.00"/><stop offset="0.80787" stop-color="#7e04ff" stop-opacity="1.00"/><stop offset="0.81019" stop-color="#7e04ff" stop-opacity="1.00"/><stop offset="0.81019" stop-color="#7e04ff" stop-opacity="1.00"/><stop offset="0.81250" stop-color="#7e04ff" stop-opacity="1.00"/><stop offset="0.81250" stop-color="#7e04ff" stop-opacity="1.00"/><stop offset="0.81481" stop-color="#7e04ff" stop-opacity="1.00"/><stop offset="0.81481" stop-color="#7e04ff" stop-opacity="1.00"/><stop offset="0.81713" stop-color="#7e04ff" stop-opacity="1.00"/><stop offset="0.81713" stop-color="#7e04ff" stop-opacity="1.00"/><stop offset="0.81944" stop-color="#7e04ff" stop-opacity="1.00"/><stop offset="0.81944" stop-color="#7e04ff" stop-opacity="1.00"/><stop offset="0.82176" stop-color="#7e04ff" stop-opacity="1.00"/><stop offset="0.82176" stop-color="#7e04ff" stop-opacity="1.00"/><stop offset="0.82407" stop-color="#7e04ff" stop-opacity="1.00"/><stop offset="0.82407" stop-color="#7e04ff" stop-opacity="1.00"/><stop offset="0.82639" stop-color="#7e04ff" stop-opacity="1.00"/><stop offset="0.82639" stop-color="#7e04ff" stop-opacity="1.00"/><stop offset="0.82870" stop-color="#7e04ff" stop-opacity="1.00"/><stop offset="0.82870" stop-color="#7e04ff" stop-opacity="1.00"/><stop offset="0.83102" stop-color="#7e04ff" stop-opacity="1.00"/><stop offset="0.83102" stop-color="#7e04ff" stop-opacity="1.00"/><stop offset="0.83333" stop-color="#7e04ff" stop-opacity="1.00"/><stop offset="0.83333" stop-color="#7e04ff" stop-opacity="1.00"/><stop offset="0.83565" stop-color="#7e04ff" stop-opacity="1.00"/><stop offset="0.83565" stop-color="#7e04ff" stop-opacity="1.00"/><stop offset="0.83796" stop-color="#7e04ff" stop-opacity="1.00"/><stop offset="0.83796" stop-color="#7e04ff" stop-opacity="1.00"/><stop offset="0.84028" stop-color="#7e04ff" stop-opacity="1.00"/><stop offset="0.84028" stop-color="#7e04ff" stop-opacity="1.00"/><stop offset="0.84259" stop-color="#7e04ff" stop-opacity="1.00"/><stop offset="0.84259" stop-color="#7e04ff" stop-opacity="1.00"/><stop offset="0.84491" stop-color="#7e04ff" stop-opacity="1.00"/><stop offset="0.84491" stop-color="#7e04ff" stop-opacity="1.00"/><stop offset="0.84722" stop-color="#7e04ff" stop-opacity="1.00"/><stop offset="0.84722" stop-color="#9209e2" stop-opacity="1.00"/><stop offset="0.84954" stop-color="#9209e2" stop-opacity="1.00"/><stop offset="0.84954" stop-color="#7e04ff" stop-opacity="1.00"/><stop offset="0.85185" stop-color="#7e04ff" stop-opacity="1.00"/><stop offset="0.85185" stop-color="#7e04ff" stop-opacity="1.00"/><stop offset="0.85417" stop-color="#7e04ff" stop-opacity="1.00"/><stop offset="0.85417" stop-color="#7e04ff" stop-opacity="1.00"/><stop offset="0.85648" stop-color="#7e04ff" stop-opacity="1.00"/><stop offset="0.85648" stop-color="#7e04ff" stop-opacity="1.00"/><stop offset="0.85880" stop-color="#7e04ff" stop-opacity="1.00"/><stop offset="0.85880" stop-color="#7e04ff" stop-opacity="1.00"/><stop offset="0.86111" stop-color="#7e04ff" stop-opacity="1.00"/><stop offset="0.86111" stop-color="#8e08ed" stop-opacity="1.00"/><stop offset="0.86343" stop-color="#8e08ed" stop-opacity="1.00"/><stop offset="0.86343" stop-color="#8e08ed" stop-opacity="1.00"/><stop offset="0.86574" stop-color="#8e08ed" stop-opacity="1.00"/><stop offset="0.86574" stop-color="#7e04ff" stop-opacity="1.00"/><stop offset="0.86806" stop-color="#7e04ff" stop-opacity="1.00"/><stop offset="0.86806" stop-color="#7e04ff" stop-opacity="1.00"/><stop offset="0.87037" stop-color="#7e04ff" stop-opacity="1.00"/><stop offset="0.87037" stop-color="#7e04ff" stop-opacity="1.00"/><stop offset="0.87269" stop-color="#7e04ff" stop-opacity="1.00"/><stop offset="0.87269" stop-color="#7e04ff" stop-opacity="1.00"/><stop offset="0.87500" stop-color="#7e04ff" stop-opacity="1.00"/><stop offset="0.87500" stop-color="#7e04ff" stop-opacity="1.00"/><stop offset="0.87731" stop-color="#7e04ff" stop-opacity="1.00"/><stop offset="0.87731" stop-color="#7e04ff" stop-opacity="1.00"/><stop offset="0.87963" stop-color="#7e04ff" stop-opacity="1.00"/><stop offset="0.87963" stop-color="#7e04ff" stop-opacity="1.00"/><stop offset="0.88194" stop-color="#7e04ff" stop-opacity="1.00"/><stop offset="0.88194" stop-color="#7e04ff" stop-opacity="1.00"/><stop offset="0.88426" stop-color="#7e04ff" stop-opacity="1.00"/><stop offset="0.88426" stop-color="#7e04ff" stop-opacity="1.00"/><stop offset="0.88657" stop-color="#7e04ff" stop-opacity="1.00"/><stop offset="0.88657" stop-color="#7e04ff" stop-opacity="1.00"/><stop offset="0.88889" stop-color="#7e04ff" stop-opacity="1.00"/><stop offset="0.88889" stop-color="#7e04ff" stop-opacity="1.00"/><stop offset="0.89120" stop-color="#7e04ff" stop-opacity="1.00"/><stop offset="0.89120" stop-color="#7e04ff" stop-opacity="1.00"/><stop offset="0.89352" stop-color="#7e04ff" stop-opacity="1.00"/><stop offset="0.89352" stop-color="#7e04ff" stop-opacity="1.00"/><stop offset="0.89583" stop-color="#7e04ff" stop-opacity="1.00"/><stop offset="0.89583" stop-color="#7e04ff" stop-opacity="1.00"/><stop offset="0.89815" stop-color="#7e04ff" stop-opacity="1.00"/><stop offset="0.89815" stop-color="#7e04ff" stop-opacity="1.00"/><stop offset="0.90046" stop-color="#7e04ff" stop-opacity="1.00"/><stop offset="0.90046" stop-color="#7e04ff" stop-opacity="1.00"/><stop offset="0.90278" stop-color="#7e04ff" stop-opacity="1.00"/><stop offset="0.90278" stop-color="#7e04ff" stop-opacity="1.00"/><stop offset="0.90509" stop-color="#7e04ff" stop-opacity="1.00"/><stop offset="0.90509" stop-color="#7e04ff" stop-opacity="1.00"/><stop offset="0.90741" stop-color="#7e04ff" stop-opacity="1.00"/><stop offset="0.90741" stop-color="#7e04ff" stop-opacity="1.00"/><stop offset="0.90972" stop-color="#7e04ff" stop-opacity="1.00"/><stop offset="0.90972" stop-color="#8204ff" stop-opacity="1.00"/><stop offset="0.91204" stop-color="#8204ff" stop-opacity="1.00"/><stop offset="0.91204" stop-color="#7e04ff" stop-opacity="1.00"/><stop offset="0.91435" stop-color="#7e04ff" stop-opacity="1.00"/><stop offset="0.91435" stop-color="#7e04ff" stop-opacity="1.00"/><stop offset="0.91667" stop-color="#7e04ff" stop-opacity="1.00"/><stop offset="0.91667" stop-color="#7e04ff" stop-opacity="1.00"/><stop offset="0.91898" stop-color="#7e04ff" stop-opacity="1.00"/><stop offset="0.91898" stop-color="#7e04ff" stop-opacity="1.00"/><stop offset="0.92130" stop-color="#7e04ff" stop-opacity="1.00"/><stop offset="0.92130" stop-color="#7e04ff" stop-opacity="1.00"/><stop offset="0.92361" stop-color="#7e04ff" stop-opacity="1.00"/><stop offset="0.92361" stop-color="#7e04ff" stop-opacity="1.00"/><stop offset="0.92593" stop-color="#7e04ff" stop-opacity="1.00"/><stop offset="0.92593" stop-color="#7e04ff" stop-opacity="1.00"/><stop offset="0.92824" stop-color="#7e04ff" stop-opacity="1.00"/><stop offset="0.92824" stop-color="#8e08ee" stop-opacity="1.00"/><stop offset="0.93056" stop-color="#8e08ee" stop-opacity="1.00"/><stop offset="0.93056" stop-color="#9008e7" stop-opacity="1.00"/><stop offset="0.93287" stop-color="#9008e7" stop-opacity="1.00"/><stop offset="0.93287" stop-color="#7e04ff" stop-opacity="1.00"/><stop offset="0.93519" stop-color="#7e04ff" stop-opacity="1.00"/><stop offset="0.93519" stop-color="#7e04ff" stop-opacity="1.00"/><stop offset="0.93750" stop-color="#7e04ff" stop-opacity="1.00"/><stop offset="0.93750" stop-color="#9008e7" stop-opacity="1.00"/><stop offset="0.93981" stop-color="#9008e7" stop-opacity="1.00"/><stop offset="0.93981" stop-color="#9109e3" stop-opacity="1.00"/><stop offset="0.94213" stop-color="#9109e3" stop-opacity="1.00"/><stop offset="0.94213" stop-color="#9309de" stop-opacity="1.00"/><stop offset="0.94444" stop-color="#9309de" stop-opacity="1.00"/><stop offset="0.94444" stop-color="#9008e8" stop-opacity="1.00"/><stop offset="0.94676" stop-color="#9008e8" stop-opacity="1.00"/><stop offset="0.94676" stop-color="#7e04ff" stop-opacity="1.00"/><stop offset="0.94907" stop-color="#7e04ff" stop-opacity="1.00"/><stop offset="0.94907" stop-color="#7e04ff" stop-opacity="1.00"/><stop offset="0.95139" stop-color="#7e04ff" stop-opacity="1.00"/><stop offset="0.95139" stop-color="#8204ff" stop-opacity="1.00"/><stop offset="0.95370" stop-color="#8204ff" stop-opacity="1.00"/><stop offset="0.95370" stop-color="#7e04ff" stop-opacity="1.00"/><stop offset="0.95602" stop-color="#7e04ff" stop-opacity="1.00"/><stop offset="0.95602" stop-color="#7e04ff" stop-opacity="1.00"/><stop offset="0.95833" stop-color="#7e04ff" stop-opacity="1.00"/><stop offset="0.95833" stop-color="#7e04ff" stop-opacity="1.00"/><stop offset="0.96065" stop-color="#7e04ff" stop-opacity="1.00"/><stop offset="0.96065" stop-color="#7e04ff" stop-opacity="1.00"/><stop offset="0.96296" stop-color="#7e04ff" stop-opacity="1.00"/><stop offset="0.96296" stop-color="#7e04ff" stop-opacity="1.00"/><stop offset="0.96528" stop-color="#7e04ff" stop-opacity="1.00"/><stop offset="0.96528" stop-color="#7e04ff" stop-opacity="1.00"/><stop offset="0.96759" stop-color="#7e04ff" stop-opacity="1.00"/><stop offset="0.96759" stop-color="#7e04ff" stop-opacity="1.00"/><stop offset="0.96991" stop-color="#7e04ff" stop-opacity="1.00"/><stop offset="0.96991" stop-color="#7e04ff" stop-opacity="1.00"/><stop offset="0.97222" stop-color="#7e04ff" stop-opacity="1.00"/><stop offset="0.97222" stop-color="#7e04ff" stop-opacity="1.00"/><stop offset="0.97454" stop-color="#7e04ff" stop-opacity="1.00"/><stop offset="0.97454" stop-color="#7e04ff" stop-opacity="1.00"/><stop offset="0.97685" stop-color="#7e04ff" stop-opacity="1.00"/><stop offset="0.97685" stop-color="#7e04ff" stop-opacity="1.00"/><stop offset="0.97917" stop-color="#7e04ff" stop-opacity="1.00"/><stop offset="0.97917" stop-color="#7e04ff" stop-opacity="1.00"/><stop offset="0.98148" stop-color="#7e04ff" stop-opacity="1.00"/><stop offset="0.98148" stop-color="#7e04ff" stop-opacity="1.00"/><stop offset="0.98380" stop-color="#7e04ff" stop-opacity="1.00"/><stop offset="0.98380" stop-color="#7e04ff" stop-opacity="1.00"/><stop offset="0.98611" stop-color="#7e04ff" stop-opacity="1.00"/><stop offset="0.98611" stop-color="#7e04ff" stop-opacity="1.00"/><stop offset="0.98843" stop-color="#7e04ff" stop-opacity="1.00"/><stop offset="0.98843" stop-color="#7e04ff" stop-opacity="1.00"/><stop offset="0.99074" stop-color="#7e04ff" stop-opacity="1.00"/><stop offset="0.99074" stop-color="#7e04ff" stop-opacity="1.00"/><stop offset="0.99306" stop-color="#7e04ff" stop-opacity="1.00"/><stop offset="0.99306" stop-color="#9109e5" stop-opacity="1.00"/><stop offset="0.99537" stop-color="#9109e5" stop-opacity="1.00"/><stop offset="0.99537" stop-color="#9109e5" stop-opacity="1.00"/><stop offset="0.99769" stop-color="#9109e5" stop-opacity="1.00"/><stop offset="0.99769" stop-color="#9109e5" stop-opacity="1.00"/><stop offset="1.00000" stop-color="#9109e5" stop-opacity="1.00"/></linearGradient><linearGradient id="mev" x1="0" y1="0" x2="0" y2="1"><stop offset="0" stop-color="#fff" stop-opacity="0.3"/><stop offset="0.15" stop-color="#fff" stop-opacity="0.9"/><stop offset="0.88" stop-color="#fff" stop-opacity="1"/><stop offset="1" stop-color="#fff" stop-opacity="0"/></linearGradient><mask id="mkev" maskContentUnits="userSpaceOnUse"><rect x="0" y="385" width="884" height="60" fill="url(#mev)"/></mask><linearGradient id="mev2" x1="0" y1="0" x2="0" y2="1"><stop offset="0" stop-color="#fff" stop-opacity="0.2"/><stop offset="0.3" stop-color="#fff" stop-opacity="0.5"/><stop offset="0.75" stop-color="#fff" stop-opacity="0.95"/><stop offset="0.92" stop-color="#fff" stop-opacity="1"/><stop offset="1" stop-color="#fff" stop-opacity="0"/></linearGradient><mask id="mkev2" maskContentUnits="userSpaceOnUse"><rect x="0" y="385" width="884" height="59" fill="url(#mev2)"/></mask><linearGradient id="ger" gradientUnits="userSpaceOnUse" x1="232" y1="0" x2="605" y2="0"><stop offset="0.00000" stop-color="#a0109b" stop-opacity="0.00"/><stop offset="0.00268" stop-color="#a0109b" stop-opacity="0.00"/><stop offset="0.00268" stop-color="#9e0eac" stop-opacity="0.00"/><stop offset="0.00536" stop-color="#9e0eac" stop-opacity="0.00"/><stop offset="0.00536" stop-color="#9c0db7" stop-opacity="0.00"/><stop offset="0.00804" stop-color="#9c0db7" stop-opacity="0.00"/><stop offset="0.00804" stop-color="#9f0fa4" stop-opacity="0.00"/><stop offset="0.01072" stop-color="#9f0fa4" stop-opacity="0.00"/><stop offset="0.01072" stop-color="#a0109d" stop-opacity="0.00"/><stop offset="0.01340" stop-color="#a0109d" stop-opacity="0.00"/><stop offset="0.01340" stop-color="#9e0fa7" stop-opacity="0.00"/><stop offset="0.01609" stop-color="#9e0fa7" stop-opacity="0.00"/><stop offset="0.01609" stop-color="#9d0eae" stop-opacity="0.00"/><stop offset="0.01877" stop-color="#9d0eae" stop-opacity="0.00"/><stop offset="0.01877" stop-color="#a0109d" stop-opacity="0.01"/><stop offset="0.02145" stop-color="#a0109d" stop-opacity="0.01"/><stop offset="0.02145" stop-color="#a21192" stop-opacity="0.02"/><stop offset="0.02413" stop-color="#a21192" stop-opacity="0.02"/><stop offset="0.02413" stop-color="#9d0eaf" stop-opacity="0.03"/><stop offset="0.02681" stop-color="#9d0eaf" stop-opacity="0.03"/><stop offset="0.02681" stop-color="#9c0db6" stop-opacity="0.03"/><stop offset="0.02949" stop-color="#9c0db6" stop-opacity="0.03"/><stop offset="0.02949" stop-color="#9e0eaa" stop-opacity="0.05"/><stop offset="0.03217" stop-color="#9e0eaa" stop-opacity="0.05"/><stop offset="0.03217" stop-color="#9e0fa7" stop-opacity="0.05"/><stop offset="0.03485" stop-color="#9e0fa7" stop-opacity="0.05"/><stop offset="0.03485" stop-color="#a0109c" stop-opacity="0.07"/><stop offset="0.03753" stop-color="#a0109c" stop-opacity="0.07"/><stop offset="0.03753" stop-color="#9d0eb0" stop-opacity="0.08"/><stop offset="0.04021" stop-color="#9d0eb0" stop-opacity="0.08"/><stop offset="0.04021" stop-color="#a11097" stop-opacity="0.10"/><stop offset="0.04290" stop-color="#a11097" stop-opacity="0.10"/><stop offset="0.04290" stop-color="#a1109a" stop-opacity="0.12"/><stop offset="0.04558" stop-color="#a1109a" stop-opacity="0.12"/><stop offset="0.04558" stop-color="#9f0fa4" stop-opacity="0.13"/><stop offset="0.04826" stop-color="#9f0fa4" stop-opacity="0.13"/><stop offset="0.04826" stop-color="#9d0eb0" stop-opacity="0.13"/><stop offset="0.05094" stop-color="#9d0eb0" stop-opacity="0.13"/><stop offset="0.05094" stop-color="#a21190" stop-opacity="0.14"/><stop offset="0.05362" stop-color="#a21190" stop-opacity="0.14"/><stop offset="0.05362" stop-color="#9e0eab" stop-opacity="0.15"/><stop offset="0.05630" stop-color="#9e0eab" stop-opacity="0.15"/><stop offset="0.05630" stop-color="#a11096" stop-opacity="0.19"/><stop offset="0.05898" stop-color="#a11096" stop-opacity="0.19"/><stop offset="0.05898" stop-color="#9d0eaf" stop-opacity="0.20"/><stop offset="0.06166" stop-color="#9d0eaf" stop-opacity="0.20"/><stop offset="0.06166" stop-color="#9d0eaf" stop-opacity="0.22"/><stop offset="0.06434" stop-color="#9d0eaf" stop-opacity="0.22"/><stop offset="0.06434" stop-color="#a11099" stop-opacity="0.20"/><stop offset="0.06702" stop-color="#a11099" stop-opacity="0.20"/><stop offset="0.06702" stop-color="#9e0eac" stop-opacity="0.23"/><stop offset="0.06971" stop-color="#9e0eac" stop-opacity="0.23"/><stop offset="0.06971" stop-color="#a21191" stop-opacity="0.27"/><stop offset="0.07239" stop-color="#a21191" stop-opacity="0.27"/><stop offset="0.07239" stop-color="#9f0fa4" stop-opacity="0.27"/><stop offset="0.07507" stop-color="#9f0fa4" stop-opacity="0.27"/><stop offset="0.07507" stop-color="#9d0eb0" stop-opacity="0.25"/><stop offset="0.07775" stop-color="#9d0eb0" stop-opacity="0.25"/><stop offset="0.07775" stop-color="#9d0eaf" stop-opacity="0.29"/><stop offset="0.08043" stop-color="#9d0eaf" stop-opacity="0.29"/><stop offset="0.08043" stop-color="#9e0fa7" stop-opacity="0.34"/><stop offset="0.08311" stop-color="#9e0fa7" stop-opacity="0.34"/><stop offset="0.08311" stop-color="#a0109d" stop-opacity="0.30"/><stop offset="0.08579" stop-color="#a0109d" stop-opacity="0.30"/><stop offset="0.08579" stop-color="#a21191" stop-opacity="0.31"/><stop offset="0.08847" stop-color="#a21191" stop-opacity="0.31"/><stop offset="0.08847" stop-color="#9d0eb2" stop-opacity="0.34"/><stop offset="0.09115" stop-color="#9d0eb2" stop-opacity="0.34"/><stop offset="0.09115" stop-color="#9e0fa8" stop-opacity="0.39"/><stop offset="0.09383" stop-color="#9e0fa8" stop-opacity="0.39"/><stop offset="0.09383" stop-color="#9d0eaf" stop-opacity="0.43"/><stop offset="0.09651" stop-color="#9d0eaf" stop-opacity="0.43"/><stop offset="0.09651" stop-color="#a21190" stop-opacity="0.37"/><stop offset="0.09920" stop-color="#a21190" stop-opacity="0.37"/><stop offset="0.09920" stop-color="#9d0eb2" stop-opacity="0.38"/><stop offset="0.10188" stop-color="#9d0eb2" stop-opacity="0.38"/><stop offset="0.10188" stop-color="#9c0db5" stop-opacity="0.41"/><stop offset="0.10456" stop-color="#9c0db5" stop-opacity="0.41"/><stop offset="0.10456" stop-color="#9c0db5" stop-opacity="0.43"/><stop offset="0.10724" stop-color="#9c0db5" stop-opacity="0.43"/><stop offset="0.10724" stop-color="#9e0fa8" stop-opacity="0.47"/><stop offset="0.10992" stop-color="#9e0fa8" stop-opacity="0.47"/><stop offset="0.10992" stop-color="#a21193" stop-opacity="0.44"/><stop offset="0.11260" stop-color="#a21193" stop-opacity="0.44"/><stop offset="0.11260" stop-color="#a21194" stop-opacity="0.48"/><stop offset="0.11528" stop-color="#a21194" stop-opacity="0.48"/><stop offset="0.11528" stop-color="#a1109a" stop-opacity="0.47"/><stop offset="0.11796" stop-color="#a1109a" stop-opacity="0.47"/><stop offset="0.11796" stop-color="#a2118f" stop-opacity="0.61"/><stop offset="0.12064" stop-color="#a2118f" stop-opacity="0.61"/><stop offset="0.12064" stop-color="#a21192" stop-opacity="0.59"/><stop offset="0.12332" stop-color="#a21192" stop-opacity="0.59"/><stop offset="0.12332" stop-color="#9e0eab" stop-opacity="0.51"/><stop offset="0.12601" stop-color="#9e0eab" stop-opacity="0.51"/><stop offset="0.12601" stop-color="#9d0eb0" stop-opacity="0.67"/><stop offset="0.12869" stop-color="#9d0eb0" stop-opacity="0.67"/><stop offset="0.12869" stop-color="#a21191" stop-opacity="0.54"/><stop offset="0.13137" stop-color="#a21191" stop-opacity="0.54"/><stop offset="0.13137" stop-color="#a1109a" stop-opacity="0.60"/><stop offset="0.13405" stop-color="#a1109a" stop-opacity="0.60"/><stop offset="0.13405" stop-color="#9c0db6" stop-opacity="0.73"/><stop offset="0.13673" stop-color="#9c0db6" stop-opacity="0.73"/><stop offset="0.13673" stop-color="#a0109d" stop-opacity="0.71"/><stop offset="0.13941" stop-color="#a0109d" stop-opacity="0.71"/><stop offset="0.13941" stop-color="#9e0fa9" stop-opacity="0.72"/><stop offset="0.14209" stop-color="#9e0fa9" stop-opacity="0.72"/><stop offset="0.14209" stop-color="#9e0fa9" stop-opacity="0.68"/><stop offset="0.14477" stop-color="#9e0fa9" stop-opacity="0.68"/><stop offset="0.14477" stop-color="#9e0eab" stop-opacity="0.65"/><stop offset="0.14745" stop-color="#9e0eab" stop-opacity="0.65"/><stop offset="0.14745" stop-color="#9d0eb1" stop-opacity="0.76"/><stop offset="0.15013" stop-color="#9d0eb1" stop-opacity="0.76"/><stop offset="0.15013" stop-color="#9c0db7" stop-opacity="0.66"/><stop offset="0.15282" stop-color="#9c0db7" stop-opacity="0.66"/><stop offset="0.15282" stop-color="#9e0ead" stop-opacity="0.70"/><stop offset="0.15550" stop-color="#9e0ead" stop-opacity="0.70"/><stop offset="0.15550" stop-color="#9e0eaa" stop-opacity="0.76"/><stop offset="0.15818" stop-color="#9e0eaa" stop-opacity="0.76"/><stop offset="0.15818" stop-color="#a21191" stop-opacity="0.70"/><stop offset="0.16086" stop-color="#a21191" stop-opacity="0.70"/><stop offset="0.16086" stop-color="#9c0eb3" stop-opacity="0.80"/><stop offset="0.16354" stop-color="#9c0eb3" stop-opacity="0.80"/><stop offset="0.16354" stop-color="#a21190" stop-opacity="0.91"/><stop offset="0.16622" stop-color="#a21190" stop-opacity="0.91"/><stop offset="0.16622" stop-color="#9d0eb0" stop-opacity="0.90"/><stop offset="0.16890" stop-color="#9d0eb0" stop-opacity="0.90"/><stop offset="0.16890" stop-color="#9e0eaa" stop-opacity="0.88"/><stop offset="0.17158" stop-color="#9e0eaa" stop-opacity="0.88"/><stop offset="0.17158" stop-color="#a11096" stop-opacity="0.91"/><stop offset="0.17426" stop-color="#a11096" stop-opacity="0.91"/><stop offset="0.17426" stop-color="#a11096" stop-opacity="0.87"/><stop offset="0.17694" stop-color="#a11096" stop-opacity="0.87"/><stop offset="0.17694" stop-color="#9f0fa7" stop-opacity="0.79"/><stop offset="0.17962" stop-color="#9f0fa7" stop-opacity="0.79"/><stop offset="0.17962" stop-color="#9c0db6" stop-opacity="0.90"/><stop offset="0.18231" stop-color="#9c0db6" stop-opacity="0.90"/><stop offset="0.18231" stop-color="#9f0fa5" stop-opacity="0.85"/><stop offset="0.18499" stop-color="#9f0fa5" stop-opacity="0.85"/><stop offset="0.18499" stop-color="#9e0fa9" stop-opacity="0.94"/><stop offset="0.18767" stop-color="#9e0fa9" stop-opacity="0.94"/><stop offset="0.18767" stop-color="#a21192" stop-opacity="0.98"/><stop offset="0.19035" stop-color="#a21192" stop-opacity="0.98"/><stop offset="0.19035" stop-color="#9d0eb0" stop-opacity="0.86"/><stop offset="0.19303" stop-color="#9d0eb0" stop-opacity="0.86"/><stop offset="0.19303" stop-color="#9e0ea9" stop-opacity="0.89"/><stop offset="0.19571" stop-color="#9e0ea9" stop-opacity="0.89"/><stop offset="0.19571" stop-color="#a21193" stop-opacity="0.94"/><stop offset="0.19839" stop-color="#a21193" stop-opacity="0.94"/><stop offset="0.19839" stop-color="#9c0db6" stop-opacity="0.86"/><stop offset="0.20107" stop-color="#9c0db6" stop-opacity="0.86"/><stop offset="0.20107" stop-color="#9e0fa8" stop-opacity="0.81"/><stop offset="0.20375" stop-color="#9e0fa8" stop-opacity="0.81"/><stop offset="0.20375" stop-color="#a11097" stop-opacity="0.93"/><stop offset="0.20643" stop-color="#a11097" stop-opacity="0.93"/><stop offset="0.20643" stop-color="#a11099" stop-opacity="0.97"/><stop offset="0.20912" stop-color="#a11099" stop-opacity="0.97"/><stop offset="0.20912" stop-color="#9c0db6" stop-opacity="0.94"/><stop offset="0.21180" stop-color="#9c0db6" stop-opacity="0.94"/><stop offset="0.21180" stop-color="#9c0db6" stop-opacity="0.93"/><stop offset="0.21448" stop-color="#9c0db6" stop-opacity="0.93"/><stop offset="0.21448" stop-color="#9c0db5" stop-opacity="0.96"/><stop offset="0.21716" stop-color="#9c0db5" stop-opacity="0.96"/><stop offset="0.21716" stop-color="#a21192" stop-opacity="0.92"/><stop offset="0.21984" stop-color="#a21192" stop-opacity="0.92"/><stop offset="0.21984" stop-color="#9d0eae" stop-opacity="0.91"/><stop offset="0.22252" stop-color="#9d0eae" stop-opacity="0.91"/><stop offset="0.22252" stop-color="#a1109a" stop-opacity="0.86"/><stop offset="0.22520" stop-color="#a1109a" stop-opacity="0.86"/><stop offset="0.22520" stop-color="#a21193" stop-opacity="0.83"/><stop offset="0.22788" stop-color="#a21193" stop-opacity="0.83"/><stop offset="0.22788" stop-color="#9e0eaa" stop-opacity="0.91"/><stop offset="0.23056" stop-color="#9e0eaa" stop-opacity="0.91"/><stop offset="0.23056" stop-color="#9d0ead" stop-opacity="0.77"/><stop offset="0.23324" stop-color="#9d0ead" stop-opacity="0.77"/><stop offset="0.23324" stop-color="#a21190" stop-opacity="0.85"/><stop offset="0.23592" stop-color="#a21190" stop-opacity="0.85"/><stop offset="0.23592" stop-color="#a00f9f" stop-opacity="0.95"/><stop offset="0.23861" stop-color="#a00f9f" stop-opacity="0.95"/><stop offset="0.23861" stop-color="#9d0ead" stop-opacity="0.93"/><stop offset="0.24129" stop-color="#9d0ead" stop-opacity="0.93"/><stop offset="0.24129" stop-color="#a0109b" stop-opacity="0.91"/><stop offset="0.24397" stop-color="#a0109b" stop-opacity="0.91"/><stop offset="0.24397" stop-color="#9e0eab" stop-opacity="0.81"/><stop offset="0.24665" stop-color="#9e0eab" stop-opacity="0.81"/><stop offset="0.24665" stop-color="#9d0ead" stop-opacity="0.86"/><stop offset="0.24933" stop-color="#9d0ead" stop-opacity="0.86"/><stop offset="0.24933" stop-color="#9c0db7" stop-opacity="0.86"/><stop offset="0.25201" stop-color="#9c0db7" stop-opacity="0.86"/><stop offset="0.25201" stop-color="#a11099" stop-opacity="0.91"/><stop offset="0.25469" stop-color="#a11099" stop-opacity="0.91"/><stop offset="0.25469" stop-color="#a21192" stop-opacity="0.85"/><stop offset="0.25737" stop-color="#a21192" stop-opacity="0.85"/><stop offset="0.25737" stop-color="#a0109e" stop-opacity="0.92"/><stop offset="0.26005" stop-color="#a0109e" stop-opacity="0.92"/><stop offset="0.26005" stop-color="#a21191" stop-opacity="0.98"/><stop offset="0.26273" stop-color="#a21191" stop-opacity="0.98"/><stop offset="0.26273" stop-color="#9c0db7" stop-opacity="0.80"/><stop offset="0.26542" stop-color="#9c0db7" stop-opacity="0.80"/><stop offset="0.26542" stop-color="#9d0eaf" stop-opacity="0.91"/><stop offset="0.26810" stop-color="#9d0eaf" stop-opacity="0.91"/><stop offset="0.26810" stop-color="#9f0fa5" stop-opacity="0.94"/><stop offset="0.27078" stop-color="#9f0fa5" stop-opacity="0.94"/><stop offset="0.27078" stop-color="#a21191" stop-opacity="0.85"/><stop offset="0.27346" stop-color="#a21191" stop-opacity="0.85"/><stop offset="0.27346" stop-color="#a21191" stop-opacity="0.87"/><stop offset="0.27614" stop-color="#a21191" stop-opacity="0.87"/><stop offset="0.27614" stop-color="#9e0fa9" stop-opacity="0.99"/><stop offset="0.27882" stop-color="#9e0fa9" stop-opacity="0.99"/><stop offset="0.27882" stop-color="#9d0eae" stop-opacity="0.76"/><stop offset="0.28150" stop-color="#9d0eae" stop-opacity="0.76"/><stop offset="0.28150" stop-color="#9f0fa7" stop-opacity="0.89"/><stop offset="0.28418" stop-color="#9f0fa7" stop-opacity="0.89"/><stop offset="0.28418" stop-color="#9f0fa4" stop-opacity="0.79"/><stop offset="0.28686" stop-color="#9f0fa4" stop-opacity="0.79"/><stop offset="0.28686" stop-color="#a21192" stop-opacity="0.95"/><stop offset="0.28954" stop-color="#a21192" stop-opacity="0.95"/><stop offset="0.28954" stop-color="#9d0eb1" stop-opacity="0.99"/><stop offset="0.29223" stop-color="#9d0eb1" stop-opacity="0.99"/><stop offset="0.29223" stop-color="#a11097" stop-opacity="0.88"/><stop offset="0.29491" stop-color="#a11097" stop-opacity="0.88"/><stop offset="0.29491" stop-color="#a1109a" stop-opacity="0.78"/><stop offset="0.29759" stop-color="#a1109a" stop-opacity="0.78"/><stop offset="0.29759" stop-color="#a11096" stop-opacity="0.89"/><stop offset="0.30027" stop-color="#a11096" stop-opacity="0.89"/><stop offset="0.30027" stop-color="#a11098" stop-opacity="0.89"/><stop offset="0.30295" stop-color="#a11098" stop-opacity="0.89"/><stop offset="0.30295" stop-color="#a00f9f" stop-opacity="0.93"/><stop offset="0.30563" stop-color="#a00f9f" stop-opacity="0.93"/><stop offset="0.30563" stop-color="#9e0eab" stop-opacity="0.88"/><stop offset="0.30831" stop-color="#9e0eab" stop-opacity="0.88"/><stop offset="0.30831" stop-color="#9e0eab" stop-opacity="0.91"/><stop offset="0.31099" stop-color="#9e0eab" stop-opacity="0.91"/><stop offset="0.31099" stop-color="#9e0ea9" stop-opacity="0.96"/><stop offset="0.31367" stop-color="#9e0ea9" stop-opacity="0.96"/><stop offset="0.31367" stop-color="#a11098" stop-opacity="0.88"/><stop offset="0.31635" stop-color="#a11098" stop-opacity="0.88"/><stop offset="0.31635" stop-color="#9c0db4" stop-opacity="0.85"/><stop offset="0.31903" stop-color="#9c0db4" stop-opacity="0.85"/><stop offset="0.31903" stop-color="#9d0eb0" stop-opacity="0.99"/><stop offset="0.32172" stop-color="#9d0eb0" stop-opacity="0.99"/><stop offset="0.32172" stop-color="#a11099" stop-opacity="0.80"/><stop offset="0.32440" stop-color="#a11099" stop-opacity="0.80"/><stop offset="0.32440" stop-color="#9d0eae" stop-opacity="0.92"/><stop offset="0.32708" stop-color="#9d0eae" stop-opacity="0.92"/><stop offset="0.32708" stop-color="#9c0db5" stop-opacity="0.85"/><stop offset="0.32976" stop-color="#9c0db5" stop-opacity="0.85"/><stop offset="0.32976" stop-color="#9c0db6" stop-opacity="0.94"/><stop offset="0.33244" stop-color="#9c0db6" stop-opacity="0.94"/><stop offset="0.33244" stop-color="#9f0fa2" stop-opacity="0.78"/><stop offset="0.33512" stop-color="#9f0fa2" stop-opacity="0.78"/><stop offset="0.33512" stop-color="#9e0eab" stop-opacity="1.00"/><stop offset="0.33780" stop-color="#9e0eab" stop-opacity="1.00"/><stop offset="0.33780" stop-color="#a2118f" stop-opacity="0.84"/><stop offset="0.34048" stop-color="#a2118f" stop-opacity="0.84"/><stop offset="0.34048" stop-color="#a21194" stop-opacity="0.76"/><stop offset="0.34316" stop-color="#a21194" stop-opacity="0.76"/><stop offset="0.34316" stop-color="#a2118f" stop-opacity="0.82"/><stop offset="0.34584" stop-color="#a2118f" stop-opacity="0.82"/><stop offset="0.34584" stop-color="#9d0ead" stop-opacity="0.85"/><stop offset="0.34853" stop-color="#9d0ead" stop-opacity="0.85"/><stop offset="0.34853" stop-color="#9c0db4" stop-opacity="0.75"/><stop offset="0.35121" stop-color="#9c0db4" stop-opacity="0.75"/><stop offset="0.35121" stop-color="#9c0db4" stop-opacity="0.85"/><stop offset="0.35389" stop-color="#9c0db4" stop-opacity="0.85"/><stop offset="0.35389" stop-color="#9f0fa4" stop-opacity="0.86"/><stop offset="0.35657" stop-color="#9f0fa4" stop-opacity="0.86"/><stop offset="0.35657" stop-color="#a0109b" stop-opacity="0.92"/><stop offset="0.35925" stop-color="#a0109b" stop-opacity="0.92"/><stop offset="0.35925" stop-color="#9f0fa6" stop-opacity="0.84"/><stop offset="0.36193" stop-color="#9f0fa6" stop-opacity="0.84"/><stop offset="0.36193" stop-color="#9d0eaf" stop-opacity="0.82"/><stop offset="0.36461" stop-color="#9d0eaf" stop-opacity="0.82"/><stop offset="0.36461" stop-color="#9e0fa7" stop-opacity="0.81"/><stop offset="0.36729" stop-color="#9e0fa7" stop-opacity="0.81"/><stop offset="0.36729" stop-color="#a00f9f" stop-opacity="0.94"/><stop offset="0.36997" stop-color="#a00f9f" stop-opacity="0.94"/><stop offset="0.36997" stop-color="#a0109d" stop-opacity="0.98"/><stop offset="0.37265" stop-color="#a0109d" stop-opacity="0.98"/><stop offset="0.37265" stop-color="#a1109a" stop-opacity="0.88"/><stop offset="0.37534" stop-color="#a1109a" stop-opacity="0.88"/><stop offset="0.37534" stop-color="#a11095" stop-opacity="0.80"/><stop offset="0.37802" stop-color="#a11095" stop-opacity="0.80"/><stop offset="0.37802" stop-color="#a0109d" stop-opacity="0.95"/><stop offset="0.38070" stop-color="#a0109d" stop-opacity="0.95"/><stop offset="0.38070" stop-color="#9c0eb3" stop-opacity="0.85"/><stop offset="0.38338" stop-color="#9c0eb3" stop-opacity="0.85"/><stop offset="0.38338" stop-color="#a11096" stop-opacity="0.80"/><stop offset="0.38606" stop-color="#a11096" stop-opacity="0.80"/><stop offset="0.38606" stop-color="#9e0eac" stop-opacity="0.78"/><stop offset="0.38874" stop-color="#9e0eac" stop-opacity="0.78"/><stop offset="0.38874" stop-color="#9f0fa1" stop-opacity="0.94"/><stop offset="0.39142" stop-color="#9f0fa1" stop-opacity="0.94"/><stop offset="0.39142" stop-color="#9e0fa9" stop-opacity="0.95"/><stop offset="0.39410" stop-color="#9e0fa9" stop-opacity="0.95"/><stop offset="0.39410" stop-color="#a1109a" stop-opacity="0.91"/><stop offset="0.39678" stop-color="#a1109a" stop-opacity="0.91"/><stop offset="0.39678" stop-color="#9d0eb0" stop-opacity="0.87"/><stop offset="0.39946" stop-color="#9d0eb0" stop-opacity="0.87"/><stop offset="0.39946" stop-color="#9d0eae" stop-opacity="0.89"/><stop offset="0.40214" stop-color="#9d0eae" stop-opacity="0.89"/><stop offset="0.40214" stop-color="#9d0eae" stop-opacity="0.81"/><stop offset="0.40483" stop-color="#9d0eae" stop-opacity="0.81"/><stop offset="0.40483" stop-color="#9d0eb2" stop-opacity="0.99"/><stop offset="0.40751" stop-color="#9d0eb2" stop-opacity="0.99"/><stop offset="0.40751" stop-color="#a21194" stop-opacity="0.84"/><stop offset="0.41019" stop-color="#a21194" stop-opacity="0.84"/><stop offset="0.41019" stop-color="#a00fa1" stop-opacity="0.91"/><stop offset="0.41287" stop-color="#a00fa1" stop-opacity="0.91"/><stop offset="0.41287" stop-color="#9e0eab" stop-opacity="0.95"/><stop offset="0.41555" stop-color="#9e0eab" stop-opacity="0.95"/><stop offset="0.41555" stop-color="#9e0fa8" stop-opacity="0.95"/><stop offset="0.41823" stop-color="#9e0fa8" stop-opacity="0.95"/><stop offset="0.41823" stop-color="#a2118f" stop-opacity="0.87"/><stop offset="0.42091" stop-color="#a2118f" stop-opacity="0.87"/><stop offset="0.42091" stop-color="#9f0fa4" stop-opacity="0.82"/><stop offset="0.42359" stop-color="#9f0fa4" stop-opacity="0.82"/><stop offset="0.42359" stop-color="#9d0eaf" stop-opacity="0.89"/><stop offset="0.42627" stop-color="#9d0eaf" stop-opacity="0.89"/><stop offset="0.42627" stop-color="#a11097" stop-opacity="0.78"/><stop offset="0.42895" stop-color="#a11097" stop-opacity="0.78"/><stop offset="0.42895" stop-color="#a0109e" stop-opacity="0.96"/><stop offset="0.43164" stop-color="#a0109e" stop-opacity="0.96"/><stop offset="0.43164" stop-color="#a2118f" stop-opacity="0.84"/><stop offset="0.43432" stop-color="#a2118f" stop-opacity="0.84"/><stop offset="0.43432" stop-color="#9c0eb4" stop-opacity="0.96"/><stop offset="0.43700" stop-color="#9c0eb4" stop-opacity="0.96"/><stop offset="0.43700" stop-color="#9f0fa5" stop-opacity="0.82"/><stop offset="0.43968" stop-color="#9f0fa5" stop-opacity="0.82"/><stop offset="0.43968" stop-color="#a11096" stop-opacity="0.84"/><stop offset="0.44236" stop-color="#a11096" stop-opacity="0.84"/><stop offset="0.44236" stop-color="#a11096" stop-opacity="0.81"/><stop offset="0.44504" stop-color="#a11096" stop-opacity="0.81"/><stop offset="0.44504" stop-color="#a21192" stop-opacity="0.86"/><stop offset="0.44772" stop-color="#a21192" stop-opacity="0.86"/><stop offset="0.44772" stop-color="#9c0db6" stop-opacity="0.80"/><stop offset="0.45040" stop-color="#9c0db6" stop-opacity="0.80"/><stop offset="0.45040" stop-color="#9e0eac" stop-opacity="0.75"/><stop offset="0.45308" stop-color="#9e0eac" stop-opacity="0.75"/><stop offset="0.45308" stop-color="#9c0eb3" stop-opacity="0.93"/><stop offset="0.45576" stop-color="#9c0eb3" stop-opacity="0.93"/><stop offset="0.45576" stop-color="#9d0eb0" stop-opacity="0.82"/><stop offset="0.45845" stop-color="#9d0eb0" stop-opacity="0.82"/><stop offset="0.45845" stop-color="#a21190" stop-opacity="0.81"/><stop offset="0.46113" stop-color="#a21190" stop-opacity="0.81"/><stop offset="0.46113" stop-color="#a00fa0" stop-opacity="0.83"/><stop offset="0.46381" stop-color="#a00fa0" stop-opacity="0.83"/><stop offset="0.46381" stop-color="#a21192" stop-opacity="0.87"/><stop offset="0.46649" stop-color="#a21192" stop-opacity="0.87"/><stop offset="0.46649" stop-color="#9e0fa9" stop-opacity="0.86"/><stop offset="0.46917" stop-color="#9e0fa9" stop-opacity="0.86"/><stop offset="0.46917" stop-color="#a11094" stop-opacity="0.91"/><stop offset="0.47185" stop-color="#a11094" stop-opacity="0.91"/><stop offset="0.47185" stop-color="#9f0fa6" stop-opacity="0.91"/><stop offset="0.47453" stop-color="#9f0fa6" stop-opacity="0.91"/><stop offset="0.47453" stop-color="#9d0eae" stop-opacity="0.84"/><stop offset="0.47721" stop-color="#9d0eae" stop-opacity="0.84"/><stop offset="0.47721" stop-color="#a11098" stop-opacity="0.98"/><stop offset="0.47989" stop-color="#a11098" stop-opacity="0.98"/><stop offset="0.47989" stop-color="#a21191" stop-opacity="0.96"/><stop offset="0.48257" stop-color="#a21191" stop-opacity="0.96"/><stop offset="0.48257" stop-color="#9c0eb3" stop-opacity="0.76"/><stop offset="0.48525" stop-color="#9c0eb3" stop-opacity="0.76"/><stop offset="0.48525" stop-color="#a00fa0" stop-opacity="0.96"/><stop offset="0.48794" stop-color="#a00fa0" stop-opacity="0.96"/><stop offset="0.48794" stop-color="#a00f9f" stop-opacity="0.98"/><stop offset="0.49062" stop-color="#a00f9f" stop-opacity="0.98"/><stop offset="0.49062" stop-color="#9d0eaf" stop-opacity="0.95"/><stop offset="0.49330" stop-color="#9d0eaf" stop-opacity="0.95"/><stop offset="0.49330" stop-color="#9e0ea9" stop-opacity="0.79"/><stop offset="0.49598" stop-color="#9e0ea9" stop-opacity="0.79"/><stop offset="0.49598" stop-color="#9d0eb2" stop-opacity="0.96"/><stop offset="0.49866" stop-color="#9d0eb2" stop-opacity="0.96"/><stop offset="0.49866" stop-color="#9d0eb0" stop-opacity="0.91"/><stop offset="0.50134" stop-color="#9d0eb0" stop-opacity="0.91"/><stop offset="0.50134" stop-color="#9d0eae" stop-opacity="0.75"/><stop offset="0.50402" stop-color="#9d0eae" stop-opacity="0.75"/><stop offset="0.50402" stop-color="#a00fa0" stop-opacity="0.75"/><stop offset="0.50670" stop-color="#a00fa0" stop-opacity="0.75"/><stop offset="0.50670" stop-color="#a0109e" stop-opacity="0.99"/><stop offset="0.50938" stop-color="#a0109e" stop-opacity="0.99"/><stop offset="0.50938" stop-color="#9d0eb0" stop-opacity="0.91"/><stop offset="0.51206" stop-color="#9d0eb0" stop-opacity="0.91"/><stop offset="0.51206" stop-color="#9c0db7" stop-opacity="0.81"/><stop offset="0.51475" stop-color="#9c0db7" stop-opacity="0.81"/><stop offset="0.51475" stop-color="#9e0eab" stop-opacity="0.78"/><stop offset="0.51743" stop-color="#9e0eab" stop-opacity="0.78"/><stop offset="0.51743" stop-color="#a0109d" stop-opacity="0.79"/><stop offset="0.52011" stop-color="#a0109d" stop-opacity="0.79"/><stop offset="0.52011" stop-color="#9d0eb0" stop-opacity="0.81"/><stop offset="0.52279" stop-color="#9d0eb0" stop-opacity="0.81"/><stop offset="0.52279" stop-color="#9e0eab" stop-opacity="0.94"/><stop offset="0.52547" stop-color="#9e0eab" stop-opacity="0.94"/><stop offset="0.52547" stop-color="#9d0eb0" stop-opacity="0.84"/><stop offset="0.52815" stop-color="#9d0eb0" stop-opacity="0.84"/><stop offset="0.52815" stop-color="#a11098" stop-opacity="0.79"/><stop offset="0.53083" stop-color="#a11098" stop-opacity="0.79"/><stop offset="0.53083" stop-color="#9f0fa2" stop-opacity="0.98"/><stop offset="0.53351" stop-color="#9f0fa2" stop-opacity="0.98"/><stop offset="0.53351" stop-color="#9c0db5" stop-opacity="0.95"/><stop offset="0.53619" stop-color="#9c0db5" stop-opacity="0.95"/><stop offset="0.53619" stop-color="#9c0eb4" stop-opacity="0.79"/><stop offset="0.53887" stop-color="#9c0eb4" stop-opacity="0.79"/><stop offset="0.53887" stop-color="#9e0fa8" stop-opacity="0.97"/><stop offset="0.54155" stop-color="#9e0fa8" stop-opacity="0.97"/><stop offset="0.54155" stop-color="#9f0fa2" stop-opacity="0.90"/><stop offset="0.54424" stop-color="#9f0fa2" stop-opacity="0.90"/><stop offset="0.54424" stop-color="#a0109e" stop-opacity="0.95"/><stop offset="0.54692" stop-color="#a0109e" stop-opacity="0.95"/><stop offset="0.54692" stop-color="#9c0db4" stop-opacity="0.92"/><stop offset="0.54960" stop-color="#9c0db4" stop-opacity="0.92"/><stop offset="0.54960" stop-color="#9d0eb1" stop-opacity="0.97"/><stop offset="0.55228" stop-color="#9d0eb1" stop-opacity="0.97"/><stop offset="0.55228" stop-color="#a0109c" stop-opacity="0.95"/><stop offset="0.55496" stop-color="#a0109c" stop-opacity="0.95"/><stop offset="0.55496" stop-color="#9e0fa8" stop-opacity="0.96"/><stop offset="0.55764" stop-color="#9e0fa8" stop-opacity="0.96"/><stop offset="0.55764" stop-color="#9e0ead" stop-opacity="0.80"/><stop offset="0.56032" stop-color="#9e0ead" stop-opacity="0.80"/><stop offset="0.56032" stop-color="#9e0eac" stop-opacity="0.92"/><stop offset="0.56300" stop-color="#9e0eac" stop-opacity="0.92"/><stop offset="0.56300" stop-color="#a21191" stop-opacity="0.88"/><stop offset="0.56568" stop-color="#a21191" stop-opacity="0.88"/><stop offset="0.56568" stop-color="#9e0eab" stop-opacity="0.94"/><stop offset="0.56836" stop-color="#9e0eab" stop-opacity="0.94"/><stop offset="0.56836" stop-color="#9f0fa1" stop-opacity="0.86"/><stop offset="0.57105" stop-color="#9f0fa1" stop-opacity="0.86"/><stop offset="0.57105" stop-color="#9e0eaa" stop-opacity="0.97"/><stop offset="0.57373" stop-color="#9e0eaa" stop-opacity="0.97"/><stop offset="0.57373" stop-color="#9e0fa7" stop-opacity="0.89"/><stop offset="0.57641" stop-color="#9e0fa7" stop-opacity="0.89"/><stop offset="0.57641" stop-color="#a11095" stop-opacity="0.82"/><stop offset="0.57909" stop-color="#a11095" stop-opacity="0.82"/><stop offset="0.57909" stop-color="#a2118f" stop-opacity="0.81"/><stop offset="0.58177" stop-color="#a2118f" stop-opacity="0.81"/><stop offset="0.58177" stop-color="#9e0ea9" stop-opacity="0.78"/><stop offset="0.58445" stop-color="#9e0ea9" stop-opacity="0.78"/><stop offset="0.58445" stop-color="#9d0eb0" stop-opacity="0.87"/><stop offset="0.58713" stop-color="#9d0eb0" stop-opacity="0.87"/><stop offset="0.58713" stop-color="#a1109a" stop-opacity="0.76"/><stop offset="0.58981" stop-color="#a1109a" stop-opacity="0.76"/><stop offset="0.58981" stop-color="#9d0eb0" stop-opacity="0.87"/><stop offset="0.59249" stop-color="#9d0eb0" stop-opacity="0.87"/><stop offset="0.59249" stop-color="#9c0db7" stop-opacity="0.79"/><stop offset="0.59517" stop-color="#9c0db7" stop-opacity="0.79"/><stop offset="0.59517" stop-color="#a21193" stop-opacity="0.87"/><stop offset="0.59786" stop-color="#a21193" stop-opacity="0.87"/><stop offset="0.59786" stop-color="#9e0fa7" stop-opacity="0.87"/><stop offset="0.60054" stop-color="#9e0fa7" stop-opacity="0.87"/><stop offset="0.60054" stop-color="#a11096" stop-opacity="0.88"/><stop offset="0.60322" stop-color="#a11096" stop-opacity="0.88"/><stop offset="0.60322" stop-color="#9e0fa8" stop-opacity="0.97"/><stop offset="0.60590" stop-color="#9e0fa8" stop-opacity="0.97"/><stop offset="0.60590" stop-color="#a21194" stop-opacity="0.75"/><stop offset="0.60858" stop-color="#a21194" stop-opacity="0.75"/><stop offset="0.60858" stop-color="#9f0fa6" stop-opacity="0.96"/><stop offset="0.61126" stop-color="#9f0fa6" stop-opacity="0.96"/><stop offset="0.61126" stop-color="#9d0eb1" stop-opacity="0.87"/><stop offset="0.61394" stop-color="#9d0eb1" stop-opacity="0.87"/><stop offset="0.61394" stop-color="#9c0db7" stop-opacity="0.89"/><stop offset="0.61662" stop-color="#9c0db7" stop-opacity="0.89"/><stop offset="0.61662" stop-color="#9f0fa2" stop-opacity="0.92"/><stop offset="0.61930" stop-color="#9f0fa2" stop-opacity="0.92"/><stop offset="0.61930" stop-color="#a0109e" stop-opacity="0.96"/><stop offset="0.62198" stop-color="#a0109e" stop-opacity="0.96"/><stop offset="0.62198" stop-color="#a21193" stop-opacity="0.84"/><stop offset="0.62466" stop-color="#a21193" stop-opacity="0.84"/><stop offset="0.62466" stop-color="#9c0db4" stop-opacity="0.85"/><stop offset="0.62735" stop-color="#9c0db4" stop-opacity="0.85"/><stop offset="0.62735" stop-color="#a00f9f" stop-opacity="0.99"/><stop offset="0.63003" stop-color="#a00f9f" stop-opacity="0.99"/><stop offset="0.63003" stop-color="#9e0fa9" stop-opacity="0.77"/><stop offset="0.63271" stop-color="#9e0fa9" stop-opacity="0.77"/><stop offset="0.63271" stop-color="#9f0fa4" stop-opacity="0.91"/><stop offset="0.63539" stop-color="#9f0fa4" stop-opacity="0.91"/><stop offset="0.63539" stop-color="#9d0eb2" stop-opacity="0.91"/><stop offset="0.63807" stop-color="#9d0eb2" stop-opacity="0.91"/><stop offset="0.63807" stop-color="#9e0ead" stop-opacity="0.76"/><stop offset="0.64075" stop-color="#9e0ead" stop-opacity="0.76"/><stop offset="0.64075" stop-color="#9f0fa3" stop-opacity="0.90"/><stop offset="0.64343" stop-color="#9f0fa3" stop-opacity="0.90"/><stop offset="0.64343" stop-color="#a21192" stop-opacity="0.92"/><stop offset="0.64611" stop-color="#a21192" stop-opacity="0.92"/><stop offset="0.64611" stop-color="#9c0eb3" stop-opacity="0.98"/><stop offset="0.64879" stop-color="#9c0eb3" stop-opacity="0.98"/><stop offset="0.64879" stop-color="#9f0fa4" stop-opacity="0.83"/><stop offset="0.65147" stop-color="#9f0fa4" stop-opacity="0.83"/><stop offset="0.65147" stop-color="#a11097" stop-opacity="1.00"/><stop offset="0.65416" stop-color="#a11097" stop-opacity="1.00"/><stop offset="0.65416" stop-color="#a21190" stop-opacity="0.88"/><stop offset="0.65684" stop-color="#a21190" stop-opacity="0.88"/><stop offset="0.65684" stop-color="#9d0eb0" stop-opacity="0.87"/><stop offset="0.65952" stop-color="#9d0eb0" stop-opacity="0.87"/><stop offset="0.65952" stop-color="#9c0eb3" stop-opacity="0.97"/><stop offset="0.66220" stop-color="#9c0eb3" stop-opacity="0.97"/><stop offset="0.66220" stop-color="#a21191" stop-opacity="0.76"/><stop offset="0.66488" stop-color="#a21191" stop-opacity="0.76"/><stop offset="0.66488" stop-color="#a21190" stop-opacity="0.93"/><stop offset="0.66756" stop-color="#a21190" stop-opacity="0.93"/><stop offset="0.66756" stop-color="#9f0fa5" stop-opacity="0.91"/><stop offset="0.67024" stop-color="#9f0fa5" stop-opacity="0.91"/><stop offset="0.67024" stop-color="#9c0db5" stop-opacity="0.83"/><stop offset="0.67292" stop-color="#9c0db5" stop-opacity="0.83"/><stop offset="0.67292" stop-color="#a21192" stop-opacity="0.97"/><stop offset="0.67560" stop-color="#a21192" stop-opacity="0.97"/><stop offset="0.67560" stop-color="#9e0fa8" stop-opacity="0.84"/><stop offset="0.67828" stop-color="#9e0fa8" stop-opacity="0.84"/><stop offset="0.67828" stop-color="#a21193" stop-opacity="0.87"/><stop offset="0.68097" stop-color="#a21193" stop-opacity="0.87"/><stop offset="0.68097" stop-color="#a00f9f" stop-opacity="0.88"/><stop offset="0.68365" stop-color="#a00f9f" stop-opacity="0.88"/><stop offset="0.68365" stop-color="#a11096" stop-opacity="0.94"/><stop offset="0.68633" stop-color="#a11096" stop-opacity="0.94"/><stop offset="0.68633" stop-color="#9d0eb1" stop-opacity="0.80"/><stop offset="0.68901" stop-color="#9d0eb1" stop-opacity="0.80"/><stop offset="0.68901" stop-color="#a11098" stop-opacity="0.86"/><stop offset="0.69169" stop-color="#a11098" stop-opacity="0.86"/><stop offset="0.69169" stop-color="#9d0eaf" stop-opacity="0.86"/><stop offset="0.69437" stop-color="#9d0eaf" stop-opacity="0.86"/><stop offset="0.69437" stop-color="#9e0fa8" stop-opacity="0.89"/><stop offset="0.69705" stop-color="#9e0fa8" stop-opacity="0.89"/><stop offset="0.69705" stop-color="#a11095" stop-opacity="0.96"/><stop offset="0.69973" stop-color="#a11095" stop-opacity="0.96"/><stop offset="0.69973" stop-color="#a11096" stop-opacity="0.82"/><stop offset="0.70241" stop-color="#a11096" stop-opacity="0.82"/><stop offset="0.70241" stop-color="#9d0eb1" stop-opacity="0.96"/><stop offset="0.70509" stop-color="#9d0eb1" stop-opacity="0.96"/><stop offset="0.70509" stop-color="#9d0eaf" stop-opacity="0.85"/><stop offset="0.70777" stop-color="#9d0eaf" stop-opacity="0.85"/><stop offset="0.70777" stop-color="#9e0fa8" stop-opacity="0.88"/><stop offset="0.71046" stop-color="#9e0fa8" stop-opacity="0.88"/><stop offset="0.71046" stop-color="#9f0fa3" stop-opacity="0.82"/><stop offset="0.71314" stop-color="#9f0fa3" stop-opacity="0.82"/><stop offset="0.71314" stop-color="#9e0fa9" stop-opacity="0.88"/><stop offset="0.71582" stop-color="#9e0fa9" stop-opacity="0.88"/><stop offset="0.71582" stop-color="#9c0eb3" stop-opacity="0.99"/><stop offset="0.71850" stop-color="#9c0eb3" stop-opacity="0.99"/><stop offset="0.71850" stop-color="#9d0eae" stop-opacity="0.91"/><stop offset="0.72118" stop-color="#9d0eae" stop-opacity="0.91"/><stop offset="0.72118" stop-color="#a1109b" stop-opacity="0.95"/><stop offset="0.72386" stop-color="#a1109b" stop-opacity="0.95"/><stop offset="0.72386" stop-color="#a21193" stop-opacity="0.83"/><stop offset="0.72654" stop-color="#a21193" stop-opacity="0.83"/><stop offset="0.72654" stop-color="#9c0db6" stop-opacity="0.83"/><stop offset="0.72922" stop-color="#9c0db6" stop-opacity="0.83"/><stop offset="0.72922" stop-color="#9f0fa1" stop-opacity="0.82"/><stop offset="0.73190" stop-color="#9f0fa1" stop-opacity="0.82"/><stop offset="0.73190" stop-color="#a11099" stop-opacity="0.90"/><stop offset="0.73458" stop-color="#a11099" stop-opacity="0.90"/><stop offset="0.73458" stop-color="#9c0db6" stop-opacity="0.91"/><stop offset="0.73727" stop-color="#9c0db6" stop-opacity="0.91"/><stop offset="0.73727" stop-color="#a11096" stop-opacity="0.95"/><stop offset="0.73995" stop-color="#a11096" stop-opacity="0.95"/><stop offset="0.73995" stop-color="#9c0eb3" stop-opacity="0.76"/><stop offset="0.74263" stop-color="#9c0eb3" stop-opacity="0.76"/><stop offset="0.74263" stop-color="#a00fa0" stop-opacity="0.93"/><stop offset="0.74531" stop-color="#a00fa0" stop-opacity="0.93"/><stop offset="0.74531" stop-color="#9f0fa2" stop-opacity="0.97"/><stop offset="0.74799" stop-color="#9f0fa2" stop-opacity="0.97"/><stop offset="0.74799" stop-color="#a00f9f" stop-opacity="0.89"/><stop offset="0.75067" stop-color="#a00f9f" stop-opacity="0.89"/><stop offset="0.75067" stop-color="#9e0eac" stop-opacity="0.76"/><stop offset="0.75335" stop-color="#9e0eac" stop-opacity="0.76"/><stop offset="0.75335" stop-color="#9e0fa7" stop-opacity="0.83"/><stop offset="0.75603" stop-color="#9e0fa7" stop-opacity="0.83"/><stop offset="0.75603" stop-color="#a00fa1" stop-opacity="0.75"/><stop offset="0.75871" stop-color="#a00fa1" stop-opacity="0.75"/><stop offset="0.75871" stop-color="#9f0fa7" stop-opacity="0.80"/><stop offset="0.76139" stop-color="#9f0fa7" stop-opacity="0.80"/><stop offset="0.76139" stop-color="#a0109d" stop-opacity="0.98"/><stop offset="0.76408" stop-color="#a0109d" stop-opacity="0.98"/><stop offset="0.76408" stop-color="#9f0fa6" stop-opacity="0.90"/><stop offset="0.76676" stop-color="#9f0fa6" stop-opacity="0.90"/><stop offset="0.76676" stop-color="#9f0fa6" stop-opacity="0.91"/><stop offset="0.76944" stop-color="#9f0fa6" stop-opacity="0.91"/><stop offset="0.76944" stop-color="#9c0db7" stop-opacity="0.95"/><stop offset="0.77212" stop-color="#9c0db7" stop-opacity="0.95"/><stop offset="0.77212" stop-color="#a00f9f" stop-opacity="0.98"/><stop offset="0.77480" stop-color="#a00f9f" stop-opacity="0.98"/><stop offset="0.77480" stop-color="#9f0fa4" stop-opacity="0.90"/><stop offset="0.77748" stop-color="#9f0fa4" stop-opacity="0.90"/><stop offset="0.77748" stop-color="#9d0eae" stop-opacity="0.90"/><stop offset="0.78016" stop-color="#9d0eae" stop-opacity="0.90"/><stop offset="0.78016" stop-color="#a11099" stop-opacity="0.91"/><stop offset="0.78284" stop-color="#a11099" stop-opacity="0.91"/><stop offset="0.78284" stop-color="#a11098" stop-opacity="0.92"/><stop offset="0.78552" stop-color="#a11098" stop-opacity="0.92"/><stop offset="0.78552" stop-color="#9f0fa6" stop-opacity="0.90"/><stop offset="0.78820" stop-color="#9f0fa6" stop-opacity="0.90"/><stop offset="0.78820" stop-color="#9d0eb1" stop-opacity="0.92"/><stop offset="0.79088" stop-color="#9d0eb1" stop-opacity="0.92"/><stop offset="0.79088" stop-color="#9f0fa5" stop-opacity="0.80"/><stop offset="0.79357" stop-color="#9f0fa5" stop-opacity="0.80"/><stop offset="0.79357" stop-color="#9c0eb3" stop-opacity="0.92"/><stop offset="0.79625" stop-color="#9c0eb3" stop-opacity="0.92"/><stop offset="0.79625" stop-color="#9c0eb3" stop-opacity="0.86"/><stop offset="0.79893" stop-color="#9c0eb3" stop-opacity="0.86"/><stop offset="0.79893" stop-color="#9f0fa7" stop-opacity="0.94"/><stop offset="0.80161" stop-color="#9f0fa7" stop-opacity="0.94"/><stop offset="0.80161" stop-color="#9c0db4" stop-opacity="0.78"/><stop offset="0.80429" stop-color="#9c0db4" stop-opacity="0.78"/><stop offset="0.80429" stop-color="#9f0fa6" stop-opacity="0.80"/><stop offset="0.80697" stop-color="#9f0fa6" stop-opacity="0.80"/><stop offset="0.80697" stop-color="#9f0fa3" stop-opacity="0.76"/><stop offset="0.80965" stop-color="#9f0fa3" stop-opacity="0.76"/><stop offset="0.80965" stop-color="#9c0db6" stop-opacity="0.94"/><stop offset="0.81233" stop-color="#9c0db6" stop-opacity="0.94"/><stop offset="0.81233" stop-color="#a0109e" stop-opacity="0.98"/><stop offset="0.81501" stop-color="#a0109e" stop-opacity="0.98"/><stop offset="0.81501" stop-color="#9c0db4" stop-opacity="0.91"/><stop offset="0.81769" stop-color="#9c0db4" stop-opacity="0.91"/><stop offset="0.81769" stop-color="#a1109a" stop-opacity="0.84"/><stop offset="0.82038" stop-color="#a1109a" stop-opacity="0.84"/><stop offset="0.82038" stop-color="#a11098" stop-opacity="0.96"/><stop offset="0.82306" stop-color="#a11098" stop-opacity="0.96"/><stop offset="0.82306" stop-color="#9f0fa3" stop-opacity="0.95"/><stop offset="0.82574" stop-color="#9f0fa3" stop-opacity="0.95"/><stop offset="0.82574" stop-color="#9c0db5" stop-opacity="0.89"/><stop offset="0.82842" stop-color="#9c0db5" stop-opacity="0.89"/><stop offset="0.82842" stop-color="#9f0fa4" stop-opacity="0.81"/><stop offset="0.83110" stop-color="#9f0fa4" stop-opacity="0.81"/><stop offset="0.83110" stop-color="#9e0fa9" stop-opacity="0.83"/><stop offset="0.83378" stop-color="#9e0fa9" stop-opacity="0.83"/><stop offset="0.83378" stop-color="#a21191" stop-opacity="0.86"/><stop offset="0.83646" stop-color="#a21191" stop-opacity="0.86"/><stop offset="0.83646" stop-color="#9d0eb2" stop-opacity="0.83"/><stop offset="0.83914" stop-color="#9d0eb2" stop-opacity="0.83"/><stop offset="0.83914" stop-color="#a11095" stop-opacity="0.86"/><stop offset="0.84182" stop-color="#a11095" stop-opacity="0.86"/><stop offset="0.84182" stop-color="#a2118f" stop-opacity="0.91"/><stop offset="0.84450" stop-color="#a2118f" stop-opacity="0.91"/><stop offset="0.84450" stop-color="#a1109a" stop-opacity="0.98"/><stop offset="0.84718" stop-color="#a1109a" stop-opacity="0.98"/><stop offset="0.84718" stop-color="#a11097" stop-opacity="0.76"/><stop offset="0.84987" stop-color="#a11097" stop-opacity="0.76"/><stop offset="0.84987" stop-color="#9d0eb0" stop-opacity="0.89"/><stop offset="0.85255" stop-color="#9d0eb0" stop-opacity="0.89"/><stop offset="0.85255" stop-color="#a2118f" stop-opacity="0.76"/><stop offset="0.85523" stop-color="#a2118f" stop-opacity="0.76"/><stop offset="0.85523" stop-color="#9f0fa4" stop-opacity="0.78"/><stop offset="0.85791" stop-color="#9f0fa4" stop-opacity="0.78"/><stop offset="0.85791" stop-color="#a21191" stop-opacity="0.95"/><stop offset="0.86059" stop-color="#a21191" stop-opacity="0.95"/><stop offset="0.86059" stop-color="#a21192" stop-opacity="0.89"/><stop offset="0.86327" stop-color="#a21192" stop-opacity="0.89"/><stop offset="0.86327" stop-color="#9d0eb1" stop-opacity="0.98"/><stop offset="0.86595" stop-color="#9d0eb1" stop-opacity="0.98"/><stop offset="0.86595" stop-color="#a11098" stop-opacity="0.86"/><stop offset="0.86863" stop-color="#a11098" stop-opacity="0.86"/><stop offset="0.86863" stop-color="#a21192" stop-opacity="0.74"/><stop offset="0.87131" stop-color="#a21192" stop-opacity="0.74"/><stop offset="0.87131" stop-color="#9c0db5" stop-opacity="0.81"/><stop offset="0.87399" stop-color="#9c0db5" stop-opacity="0.81"/><stop offset="0.87399" stop-color="#9e0eaa" stop-opacity="0.84"/><stop offset="0.87668" stop-color="#9e0eaa" stop-opacity="0.84"/><stop offset="0.87668" stop-color="#a11099" stop-opacity="0.91"/><stop offset="0.87936" stop-color="#a11099" stop-opacity="0.91"/><stop offset="0.87936" stop-color="#9d0eb1" stop-opacity="0.90"/><stop offset="0.88204" stop-color="#9d0eb1" stop-opacity="0.90"/><stop offset="0.88204" stop-color="#a21193" stop-opacity="0.76"/><stop offset="0.88472" stop-color="#a21193" stop-opacity="0.76"/><stop offset="0.88472" stop-color="#9d0ead" stop-opacity="0.73"/><stop offset="0.88740" stop-color="#9d0ead" stop-opacity="0.73"/><stop offset="0.88740" stop-color="#a11097" stop-opacity="0.65"/><stop offset="0.89008" stop-color="#a11097" stop-opacity="0.65"/><stop offset="0.89008" stop-color="#9d0eb2" stop-opacity="0.75"/><stop offset="0.89276" stop-color="#9d0eb2" stop-opacity="0.75"/><stop offset="0.89276" stop-color="#9f0fa4" stop-opacity="0.64"/><stop offset="0.89544" stop-color="#9f0fa4" stop-opacity="0.64"/><stop offset="0.89544" stop-color="#a21192" stop-opacity="0.61"/><stop offset="0.89812" stop-color="#a21192" stop-opacity="0.61"/><stop offset="0.89812" stop-color="#9d0eb0" stop-opacity="0.57"/><stop offset="0.90080" stop-color="#9d0eb0" stop-opacity="0.57"/><stop offset="0.90080" stop-color="#9d0ead" stop-opacity="0.56"/><stop offset="0.90349" stop-color="#9d0ead" stop-opacity="0.56"/><stop offset="0.90349" stop-color="#9f0fa4" stop-opacity="0.66"/><stop offset="0.90617" stop-color="#9f0fa4" stop-opacity="0.66"/><stop offset="0.90617" stop-color="#9e0eab" stop-opacity="0.55"/><stop offset="0.90885" stop-color="#9e0eab" stop-opacity="0.55"/><stop offset="0.90885" stop-color="#9c0db6" stop-opacity="0.67"/><stop offset="0.91153" stop-color="#9c0db6" stop-opacity="0.67"/><stop offset="0.91153" stop-color="#9d0eb1" stop-opacity="0.51"/><stop offset="0.91421" stop-color="#9d0eb1" stop-opacity="0.51"/><stop offset="0.91421" stop-color="#9d0eb1" stop-opacity="0.62"/><stop offset="0.91689" stop-color="#9d0eb1" stop-opacity="0.62"/><stop offset="0.91689" stop-color="#a21191" stop-opacity="0.48"/><stop offset="0.91957" stop-color="#a21191" stop-opacity="0.48"/><stop offset="0.91957" stop-color="#a0109c" stop-opacity="0.45"/><stop offset="0.92225" stop-color="#a0109c" stop-opacity="0.45"/><stop offset="0.92225" stop-color="#a21193" stop-opacity="0.54"/><stop offset="0.92493" stop-color="#a21193" stop-opacity="0.54"/><stop offset="0.92493" stop-color="#9d0eb1" stop-opacity="0.45"/><stop offset="0.92761" stop-color="#9d0eb1" stop-opacity="0.45"/><stop offset="0.92761" stop-color="#a11098" stop-opacity="0.50"/><stop offset="0.93029" stop-color="#a11098" stop-opacity="0.50"/><stop offset="0.93029" stop-color="#9c0eb3" stop-opacity="0.41"/><stop offset="0.93298" stop-color="#9c0eb3" stop-opacity="0.41"/><stop offset="0.93298" stop-color="#9f0fa3" stop-opacity="0.38"/><stop offset="0.93566" stop-color="#9f0fa3" stop-opacity="0.38"/><stop offset="0.93566" stop-color="#a0109e" stop-opacity="0.45"/><stop offset="0.93834" stop-color="#a0109e" stop-opacity="0.45"/><stop offset="0.93834" stop-color="#9e0eaa" stop-opacity="0.43"/><stop offset="0.94102" stop-color="#9e0eaa" stop-opacity="0.43"/><stop offset="0.94102" stop-color="#a21094" stop-opacity="0.42"/><stop offset="0.94370" stop-color="#a21094" stop-opacity="0.42"/><stop offset="0.94370" stop-color="#9f0fa2" stop-opacity="0.39"/><stop offset="0.94638" stop-color="#9f0fa2" stop-opacity="0.39"/><stop offset="0.94638" stop-color="#a00fa1" stop-opacity="0.31"/><stop offset="0.94906" stop-color="#a00fa1" stop-opacity="0.31"/><stop offset="0.94906" stop-color="#a21194" stop-opacity="0.34"/><stop offset="0.95174" stop-color="#a21194" stop-opacity="0.34"/><stop offset="0.95174" stop-color="#9c0eb4" stop-opacity="0.33"/><stop offset="0.95442" stop-color="#9c0eb4" stop-opacity="0.33"/><stop offset="0.95442" stop-color="#a2118f" stop-opacity="0.29"/><stop offset="0.95710" stop-color="#a2118f" stop-opacity="0.29"/><stop offset="0.95710" stop-color="#a0109f" stop-opacity="0.31"/><stop offset="0.95979" stop-color="#a0109f" stop-opacity="0.31"/><stop offset="0.95979" stop-color="#9e0fa8" stop-opacity="0.24"/><stop offset="0.96247" stop-color="#9e0fa8" stop-opacity="0.24"/><stop offset="0.96247" stop-color="#a11097" stop-opacity="0.28"/><stop offset="0.96515" stop-color="#a11097" stop-opacity="0.28"/><stop offset="0.96515" stop-color="#9d0ead" stop-opacity="0.24"/><stop offset="0.96783" stop-color="#9d0ead" stop-opacity="0.24"/><stop offset="0.96783" stop-color="#a2118f" stop-opacity="0.18"/><stop offset="0.97051" stop-color="#a2118f" stop-opacity="0.18"/><stop offset="0.97051" stop-color="#a00fa1" stop-opacity="0.17"/><stop offset="0.97319" stop-color="#a00fa1" stop-opacity="0.17"/><stop offset="0.97319" stop-color="#9e0eaa" stop-opacity="0.18"/><stop offset="0.97587" stop-color="#9e0eaa" stop-opacity="0.18"/><stop offset="0.97587" stop-color="#a11099" stop-opacity="0.17"/><stop offset="0.97855" stop-color="#a11099" stop-opacity="0.17"/><stop offset="0.97855" stop-color="#9f0fa6" stop-opacity="0.12"/><stop offset="0.98123" stop-color="#9f0fa6" stop-opacity="0.12"/><stop offset="0.98123" stop-color="#9d0eb1" stop-opacity="0.12"/><stop offset="0.98391" stop-color="#9d0eb1" stop-opacity="0.12"/><stop offset="0.98391" stop-color="#a1109a" stop-opacity="0.11"/><stop offset="0.98660" stop-color="#a1109a" stop-opacity="0.11"/><stop offset="0.98660" stop-color="#9c0db6" stop-opacity="0.08"/><stop offset="0.98928" stop-color="#9c0db6" stop-opacity="0.08"/><stop offset="0.98928" stop-color="#a11096" stop-opacity="0.08"/><stop offset="0.99196" stop-color="#a11096" stop-opacity="0.08"/><stop offset="0.99196" stop-color="#9d0eae" stop-opacity="0.05"/><stop offset="0.99464" stop-color="#9d0eae" stop-opacity="0.05"/><stop offset="0.99464" stop-color="#a0109e" stop-opacity="0.03"/><stop offset="0.99732" stop-color="#a0109e" stop-opacity="0.03"/><stop offset="0.99732" stop-color="#a2118f" stop-opacity="0.02"/><stop offset="1.00000" stop-color="#a2118f" stop-opacity="0.02"/></linearGradient><linearGradient id="mer" x1="0" y1="0" x2="0" y2="1"><stop offset="0" stop-color="#fff" stop-opacity="0"/><stop offset="0.15" stop-color="#fff" stop-opacity="0.3"/><stop offset="0.35" stop-color="#fff" stop-opacity="0.7"/><stop offset="0.5" stop-color="#fff" stop-opacity="1"/><stop offset="0.81" stop-color="#fff" stop-opacity="1"/><stop offset="0.9" stop-color="#fff" stop-opacity="0.6"/><stop offset="1" stop-color="#fff" stop-opacity="0"/></linearGradient><mask id="mker" maskContentUnits="userSpaceOnUse"><rect x="0" y="392" width="884" height="52" fill="url(#mer)"/></mask><linearGradient id="gs0" x1="0" y1="0" x2="0" y2="1"><stop offset="0" stop-color="#a61378" stop-opacity="0"/><stop offset="0.5" stop-color="#a61378" stop-opacity="1"/><stop offset="1" stop-color="#a61378" stop-opacity="0"/></linearGradient><linearGradient id="gs1" x1="0" y1="0" x2="0" y2="1"><stop offset="0" stop-color="#aa1657" stop-opacity="0"/><stop offset="0.5" stop-color="#aa1657" stop-opacity="1"/><stop offset="1" stop-color="#aa1657" stop-opacity="0"/></linearGradient><linearGradient id="gs2" x1="0" y1="0" x2="0" y2="1"><stop offset="0" stop-color="#ae1a35" stop-opacity="0"/><stop offset="0.5" stop-color="#ae1a35" stop-opacity="1"/><stop offset="1" stop-color="#ae1a35" stop-opacity="0"/></linearGradient><linearGradient id="gs3" x1="0" y1="0" x2="0" y2="1"><stop offset="0" stop-color="#b21e12" stop-opacity="0"/><stop offset="0.5" stop-color="#b21e12" stop-opacity="1"/><stop offset="1" stop-color="#b21e12" stop-opacity="0"/></linearGradient><filter id="blur3" x="-30%" y="-30%" width="160%" height="160%"><feGaussianBlur stdDeviation="3.5"/></filter><filter id="blur1" x="-30%" y="-30%" width="160%" height="160%"><feGaussianBlur stdDeviation="0.6"/></filter><clipPath id="cdata"><rect x="95" y="136" width="577" height="398"/></clipPath><linearGradient id="glow" gradientUnits="userSpaceOnUse" x1="95" y1="0" x2="672" y2="0"><stop offset="0.00000" stop-color="#dc6900"/><stop offset="0.00173" stop-color="#dc6900"/><stop offset="0.00173" stop-color="#d24f00"/><stop offset="0.00347" stop-color="#d24f00"/><stop offset="0.00347" stop-color="#c63700"/><stop offset="0.00520" stop-color="#c63700"/><stop offset="0.00520" stop-color="#a81568"/><stop offset="0.00693" stop-color="#a81568"/><stop offset="0.00693" stop-color="#9a0dbe"/><stop offset="0.00867" stop-color="#9a0dbe"/><stop offset="0.00867" stop-color="#9309dd"/><stop offset="0.01040" stop-color="#9309dd"/><stop offset="0.01040" stop-color="#9109e5"/><stop offset="0.01213" stop-color="#9109e5"/><stop offset="0.01213" stop-color="#8e08ec"/><stop offset="0.01386" stop-color="#8e08ec"/><stop offset="0.01386" stop-color="#8c07f3"/><stop offset="0.01560" stop-color="#8c07f3"/><stop offset="0.01560" stop-color="#8906f7"/><stop offset="0.01733" stop-color="#8906f7"/><stop offset="0.01733" stop-color="#8605fb"/><stop offset="0.02253" stop-color="#8605fb"/><stop offset="0.02253" stop-color="#8205fe"/><stop offset="0.03120" stop-color="#8205fe"/><stop offset="0.03120" stop-color="#7e04ff"/><stop offset="0.03640" stop-color="#7e04ff"/><stop offset="0.03640" stop-color="#8205fe"/><stop offset="0.03813" stop-color="#8205fe"/><stop offset="0.03813" stop-color="#7d04fe"/><stop offset="0.03986" stop-color="#7d04fe"/><stop offset="0.03986" stop-color="#7c03fe"/><stop offset="0.04159" stop-color="#7c03fe"/><stop offset="0.04159" stop-color="#7a03fd"/><stop offset="0.04333" stop-color="#7a03fd"/><stop offset="0.04333" stop-color="#7703fa"/><stop offset="0.04506" stop-color="#7703fa"/><stop offset="0.04506" stop-color="#7903fc"/><stop offset="0.04679" stop-color="#7903fc"/><stop offset="0.04679" stop-color="#7903fb"/><stop offset="0.04853" stop-color="#7903fb"/><stop offset="0.04853" stop-color="#7703fa"/><stop offset="0.05026" stop-color="#7703fa"/><stop offset="0.05026" stop-color="#7903fc"/><stop offset="0.05199" stop-color="#7903fc"/><stop offset="0.05199" stop-color="#7703fa"/><stop offset="0.05373" stop-color="#7703fa"/><stop offset="0.05373" stop-color="#7903fc"/><stop offset="0.05546" stop-color="#7903fc"/><stop offset="0.05546" stop-color="#7703fa"/><stop offset="0.05893" stop-color="#7703fa"/><stop offset="0.05893" stop-color="#7903fc"/><stop offset="0.06066" stop-color="#7903fc"/><stop offset="0.06066" stop-color="#7803fb"/><stop offset="0.06239" stop-color="#7803fb"/><stop offset="0.06239" stop-color="#7502f7"/><stop offset="0.06412" stop-color="#7502f7"/><stop offset="0.06412" stop-color="#7602f8"/><stop offset="0.06586" stop-color="#7602f8"/><stop offset="0.06586" stop-color="#7703fa"/><stop offset="0.06759" stop-color="#7703fa"/><stop offset="0.06759" stop-color="#7903fc"/><stop offset="0.06932" stop-color="#7903fc"/><stop offset="0.06932" stop-color="#7703fa"/><stop offset="0.07106" stop-color="#7703fa"/><stop offset="0.07106" stop-color="#7603f9"/><stop offset="0.07279" stop-color="#7603f9"/><stop offset="0.07279" stop-color="#7903fc"/><stop offset="0.07452" stop-color="#7903fc"/><stop offset="0.07452" stop-color="#7502f7"/><stop offset="0.07626" stop-color="#7502f7"/><stop offset="0.07626" stop-color="#7803fb"/><stop offset="0.07799" stop-color="#7803fb"/><stop offset="0.07799" stop-color="#7602f8"/><stop offset="0.07972" stop-color="#7602f8"/><stop offset="0.07972" stop-color="#7502f7"/><stop offset="0.08319" stop-color="#7502f7"/><stop offset="0.08319" stop-color="#7602f8"/><stop offset="0.08492" stop-color="#7602f8"/><stop offset="0.08492" stop-color="#7803fb"/><stop offset="0.08666" stop-color="#7803fb"/><stop offset="0.08666" stop-color="#7502f8"/><stop offset="0.08839" stop-color="#7502f8"/><stop offset="0.08839" stop-color="#7703fa"/><stop offset="0.09185" stop-color="#7703fa"/><stop offset="0.09185" stop-color="#7603f9"/><stop offset="0.09359" stop-color="#7603f9"/><stop offset="0.09359" stop-color="#7703fa"/><stop offset="0.09532" stop-color="#7703fa"/><stop offset="0.09532" stop-color="#7502f7"/><stop offset="0.09705" stop-color="#7502f7"/><stop offset="0.09705" stop-color="#7703fa"/><stop offset="0.09879" stop-color="#7703fa"/><stop offset="0.09879" stop-color="#7803fb"/><stop offset="0.10052" stop-color="#7803fb"/><stop offset="0.10052" stop-color="#7a03fd"/><stop offset="0.10225" stop-color="#7a03fd"/><stop offset="0.10225" stop-color="#7903fc"/><stop offset="0.10399" stop-color="#7903fc"/><stop offset="0.10399" stop-color="#7803fb"/><stop offset="0.10572" stop-color="#7803fb"/><stop offset="0.10572" stop-color="#7903fc"/><stop offset="0.10919" stop-color="#7903fc"/><stop offset="0.10919" stop-color="#7803fb"/><stop offset="0.11092" stop-color="#7803fb"/><stop offset="0.11092" stop-color="#7a03fd"/><stop offset="0.11438" stop-color="#7a03fd"/><stop offset="0.11438" stop-color="#7803fb"/><stop offset="0.11612" stop-color="#7803fb"/><stop offset="0.11612" stop-color="#7903fc"/><stop offset="0.11958" stop-color="#7903fc"/><stop offset="0.11958" stop-color="#7b03fd"/><stop offset="0.12132" stop-color="#7b03fd"/><stop offset="0.12132" stop-color="#7a03fd"/><stop offset="0.12305" stop-color="#7a03fd"/><stop offset="0.12305" stop-color="#7803fb"/><stop offset="0.12478" stop-color="#7803fb"/><stop offset="0.12478" stop-color="#8605fb"/><stop offset="0.12652" stop-color="#8605fb"/><stop offset="0.12652" stop-color="#8305fe"/><stop offset="0.12825" stop-color="#8305fe"/><stop offset="0.12825" stop-color="#8405fd"/><stop offset="0.12998" stop-color="#8405fd"/><stop offset="0.12998" stop-color="#8505fc"/><stop offset="0.13172" stop-color="#8505fc"/><stop offset="0.13172" stop-color="#7803fb"/><stop offset="0.13345" stop-color="#7803fb"/><stop offset="0.13345" stop-color="#7903fc"/><stop offset="0.13518" stop-color="#7903fc"/><stop offset="0.13518" stop-color="#7703fa"/><stop offset="0.13692" stop-color="#7703fa"/><stop offset="0.13692" stop-color="#7a03fd"/><stop offset="0.14038" stop-color="#7a03fd"/><stop offset="0.14038" stop-color="#7903fc"/><stop offset="0.14211" stop-color="#7903fc"/><stop offset="0.14211" stop-color="#7b03fd"/><stop offset="0.14385" stop-color="#7b03fd"/><stop offset="0.14385" stop-color="#7803fb"/><stop offset="0.14558" stop-color="#7803fb"/><stop offset="0.14558" stop-color="#7a03fd"/><stop offset="0.14731" stop-color="#7a03fd"/><stop offset="0.14731" stop-color="#7903fc"/><stop offset="0.15078" stop-color="#7903fc"/><stop offset="0.15078" stop-color="#8204ff"/><stop offset="0.15251" stop-color="#8204ff"/><stop offset="0.15251" stop-color="#8305fe"/><stop offset="0.15598" stop-color="#8305fe"/><stop offset="0.15598" stop-color="#7903fc"/><stop offset="0.15771" stop-color="#7903fc"/><stop offset="0.15771" stop-color="#7a03fd"/><stop offset="0.15945" stop-color="#7a03fd"/><stop offset="0.15945" stop-color="#7703fa"/><stop offset="0.16118" stop-color="#7703fa"/><stop offset="0.16118" stop-color="#7a03fd"/><stop offset="0.16464" stop-color="#7a03fd"/><stop offset="0.16464" stop-color="#7b03fe"/><stop offset="0.16638" stop-color="#7b03fe"/><stop offset="0.16638" stop-color="#7a03fd"/><stop offset="0.16811" stop-color="#7a03fd"/><stop offset="0.16811" stop-color="#7803fb"/><stop offset="0.16984" stop-color="#7803fb"/><stop offset="0.16984" stop-color="#7903fc"/><stop offset="0.17158" stop-color="#7903fc"/><stop offset="0.17158" stop-color="#7a03fd"/><stop offset="0.17331" stop-color="#7a03fd"/><stop offset="0.17331" stop-color="#7703fa"/><stop offset="0.17504" stop-color="#7703fa"/><stop offset="0.17504" stop-color="#7903fc"/><stop offset="0.17678" stop-color="#7903fc"/><stop offset="0.17678" stop-color="#7803fb"/><stop offset="0.17851" stop-color="#7803fb"/><stop offset="0.17851" stop-color="#7703fa"/><stop offset="0.18198" stop-color="#7703fa"/><stop offset="0.18198" stop-color="#7a03fd"/><stop offset="0.18371" stop-color="#7a03fd"/><stop offset="0.18371" stop-color="#7803fa"/><stop offset="0.18544" stop-color="#7803fa"/><stop offset="0.18544" stop-color="#7803fb"/><stop offset="0.18718" stop-color="#7803fb"/><stop offset="0.18718" stop-color="#7903fc"/><stop offset="0.18891" stop-color="#7903fc"/><stop offset="0.18891" stop-color="#7b03fd"/><stop offset="0.19064" stop-color="#7b03fd"/><stop offset="0.19064" stop-color="#7703fa"/><stop offset="0.19237" stop-color="#7703fa"/><stop offset="0.19237" stop-color="#7903fc"/><stop offset="0.19584" stop-color="#7903fc"/><stop offset="0.19584" stop-color="#7b03fd"/><stop offset="0.19757" stop-color="#7b03fd"/><stop offset="0.19757" stop-color="#7a03fd"/><stop offset="0.19931" stop-color="#7a03fd"/><stop offset="0.19931" stop-color="#7b03fd"/><stop offset="0.20104" stop-color="#7b03fd"/><stop offset="0.20104" stop-color="#7803fb"/><stop offset="0.20277" stop-color="#7803fb"/><stop offset="0.20277" stop-color="#7903fc"/><stop offset="0.20451" stop-color="#7903fc"/><stop offset="0.20451" stop-color="#7903fb"/><stop offset="0.20624" stop-color="#7903fb"/><stop offset="0.20624" stop-color="#7b03fd"/><stop offset="0.20971" stop-color="#7b03fd"/><stop offset="0.20971" stop-color="#7803fb"/><stop offset="0.21664" stop-color="#7803fb"/><stop offset="0.21664" stop-color="#7903fc"/><stop offset="0.22010" stop-color="#7903fc"/><stop offset="0.22010" stop-color="#7f04ff"/><stop offset="0.22184" stop-color="#7f04ff"/><stop offset="0.22184" stop-color="#7e04ff"/><stop offset="0.22357" stop-color="#7e04ff"/><stop offset="0.22357" stop-color="#8004ff"/><stop offset="0.22530" stop-color="#8004ff"/><stop offset="0.22530" stop-color="#7903fb"/><stop offset="0.22704" stop-color="#7903fb"/><stop offset="0.22704" stop-color="#7903fc"/><stop offset="0.22877" stop-color="#7903fc"/><stop offset="0.22877" stop-color="#7b03fd"/><stop offset="0.23050" stop-color="#7b03fd"/><stop offset="0.23050" stop-color="#7a03fd"/><stop offset="0.23224" stop-color="#7a03fd"/><stop offset="0.23224" stop-color="#7e04ff"/><stop offset="0.23570" stop-color="#7e04ff"/><stop offset="0.23570" stop-color="#7a03fd"/><stop offset="0.23744" stop-color="#7a03fd"/><stop offset="0.23744" stop-color="#7703fa"/><stop offset="0.23917" stop-color="#7703fa"/><stop offset="0.23917" stop-color="#7b03fd"/><stop offset="0.24090" stop-color="#7b03fd"/><stop offset="0.24090" stop-color="#7a03fd"/><stop offset="0.24263" stop-color="#7a03fd"/><stop offset="0.24263" stop-color="#7b03fd"/><stop offset="0.24437" stop-color="#7b03fd"/><stop offset="0.24437" stop-color="#7a03fd"/><stop offset="0.24610" stop-color="#7a03fd"/><stop offset="0.24610" stop-color="#7903fc"/><stop offset="0.24957" stop-color="#7903fc"/><stop offset="0.24957" stop-color="#7703fa"/><stop offset="0.25130" stop-color="#7703fa"/><stop offset="0.25130" stop-color="#7a03fc"/><stop offset="0.25303" stop-color="#7a03fc"/><stop offset="0.25303" stop-color="#7703fa"/><stop offset="0.25650" stop-color="#7703fa"/><stop offset="0.25650" stop-color="#7803fb"/><stop offset="0.26170" stop-color="#7803fb"/><stop offset="0.26170" stop-color="#7703fa"/><stop offset="0.26516" stop-color="#7703fa"/><stop offset="0.26516" stop-color="#7803fb"/><stop offset="0.26690" stop-color="#7803fb"/><stop offset="0.26690" stop-color="#7703fa"/><stop offset="0.26863" stop-color="#7703fa"/><stop offset="0.26863" stop-color="#7903fb"/><stop offset="0.27036" stop-color="#7903fb"/><stop offset="0.27036" stop-color="#7703fa"/><stop offset="0.27210" stop-color="#7703fa"/><stop offset="0.27210" stop-color="#7b03fd"/><stop offset="0.27383" stop-color="#7b03fd"/><stop offset="0.27383" stop-color="#7a03fc"/><stop offset="0.27556" stop-color="#7a03fc"/><stop offset="0.27556" stop-color="#7803fb"/><stop offset="0.28076" stop-color="#7803fb"/><stop offset="0.28076" stop-color="#7402f6"/><stop offset="0.28250" stop-color="#7402f6"/><stop offset="0.28250" stop-color="#7302f4"/><stop offset="0.28423" stop-color="#7302f4"/><stop offset="0.28423" stop-color="#7603f9"/><stop offset="0.28596" stop-color="#7603f9"/><stop offset="0.28596" stop-color="#7703f9"/><stop offset="0.28769" stop-color="#7703f9"/><stop offset="0.28769" stop-color="#7402f6"/><stop offset="0.29116" stop-color="#7402f6"/><stop offset="0.29116" stop-color="#7302f4"/><stop offset="0.29463" stop-color="#7302f4"/><stop offset="0.29463" stop-color="#7402f6"/><stop offset="0.29636" stop-color="#7402f6"/><stop offset="0.29636" stop-color="#7402f5"/><stop offset="0.29809" stop-color="#7402f5"/><stop offset="0.29809" stop-color="#8c07f3"/><stop offset="0.29983" stop-color="#8c07f3"/><stop offset="0.29983" stop-color="#8906f7"/><stop offset="0.30156" stop-color="#8906f7"/><stop offset="0.30156" stop-color="#8906f8"/><stop offset="0.30329" stop-color="#8906f8"/><stop offset="0.30329" stop-color="#7603f9"/><stop offset="0.30503" stop-color="#7603f9"/><stop offset="0.30503" stop-color="#7502f7"/><stop offset="0.30676" stop-color="#7502f7"/><stop offset="0.30676" stop-color="#7302f4"/><stop offset="0.30849" stop-color="#7302f4"/><stop offset="0.30849" stop-color="#7502f7"/><stop offset="0.31023" stop-color="#7502f7"/><stop offset="0.31023" stop-color="#7202f3"/><stop offset="0.31196" stop-color="#7202f3"/><stop offset="0.31196" stop-color="#7502f7"/><stop offset="0.31369" stop-color="#7502f7"/><stop offset="0.31369" stop-color="#7703f9"/><stop offset="0.31542" stop-color="#7703f9"/><stop offset="0.31542" stop-color="#7603f9"/><stop offset="0.31716" stop-color="#7603f9"/><stop offset="0.31716" stop-color="#7502f8"/><stop offset="0.31889" stop-color="#7502f8"/><stop offset="0.31889" stop-color="#7402f5"/><stop offset="0.32062" stop-color="#7402f5"/><stop offset="0.32062" stop-color="#7402f6"/><stop offset="0.32236" stop-color="#7402f6"/><stop offset="0.32236" stop-color="#7302f4"/><stop offset="0.32409" stop-color="#7302f4"/><stop offset="0.32409" stop-color="#7602f8"/><stop offset="0.32582" stop-color="#7602f8"/><stop offset="0.32582" stop-color="#7502f7"/><stop offset="0.32756" stop-color="#7502f7"/><stop offset="0.32756" stop-color="#7602f8"/><stop offset="0.32929" stop-color="#7602f8"/><stop offset="0.32929" stop-color="#7402f5"/><stop offset="0.33102" stop-color="#7402f5"/><stop offset="0.33102" stop-color="#7302f5"/><stop offset="0.33276" stop-color="#7302f5"/><stop offset="0.33276" stop-color="#7602f8"/><stop offset="0.33449" stop-color="#7602f8"/><stop offset="0.33449" stop-color="#7703f9"/><stop offset="0.33622" stop-color="#7703f9"/><stop offset="0.33622" stop-color="#7603f9"/><stop offset="0.33795" stop-color="#7603f9"/><stop offset="0.33795" stop-color="#7302f5"/><stop offset="0.34142" stop-color="#7302f5"/><stop offset="0.34142" stop-color="#7302f4"/><stop offset="0.34315" stop-color="#7302f4"/><stop offset="0.34315" stop-color="#7102f0"/><stop offset="0.34489" stop-color="#7102f0"/><stop offset="0.34489" stop-color="#7202f3"/><stop offset="0.34662" stop-color="#7202f3"/><stop offset="0.34662" stop-color="#7102f1"/><stop offset="0.34835" stop-color="#7102f1"/><stop offset="0.34835" stop-color="#7002ef"/><stop offset="0.35182" stop-color="#7002ef"/><stop offset="0.35182" stop-color="#7102f1"/><stop offset="0.35529" stop-color="#7102f1"/><stop offset="0.35529" stop-color="#7302f4"/><stop offset="0.35702" stop-color="#7302f4"/><stop offset="0.35702" stop-color="#7402f6"/><stop offset="0.35875" stop-color="#7402f6"/><stop offset="0.35875" stop-color="#7202f2"/><stop offset="0.36049" stop-color="#7202f2"/><stop offset="0.36049" stop-color="#7402f6"/><stop offset="0.36568" stop-color="#7402f6"/><stop offset="0.36568" stop-color="#7102f1"/><stop offset="0.36742" stop-color="#7102f1"/><stop offset="0.36742" stop-color="#7102f0"/><stop offset="0.37435" stop-color="#7102f0"/><stop offset="0.37435" stop-color="#7302f3"/><stop offset="0.37608" stop-color="#7302f3"/><stop offset="0.37608" stop-color="#7402f5"/><stop offset="0.37955" stop-color="#7402f5"/><stop offset="0.37955" stop-color="#7202f2"/><stop offset="0.38128" stop-color="#7202f2"/><stop offset="0.38128" stop-color="#7302f4"/><stop offset="0.38302" stop-color="#7302f4"/><stop offset="0.38302" stop-color="#7302f5"/><stop offset="0.38475" stop-color="#7302f5"/><stop offset="0.38475" stop-color="#7002ef"/><stop offset="0.38648" stop-color="#7002ef"/><stop offset="0.38648" stop-color="#7302f4"/><stop offset="0.38821" stop-color="#7302f4"/><stop offset="0.38821" stop-color="#7402f5"/><stop offset="0.38995" stop-color="#7402f5"/><stop offset="0.38995" stop-color="#7302f5"/><stop offset="0.39168" stop-color="#7302f5"/><stop offset="0.39168" stop-color="#7302f4"/><stop offset="0.39341" stop-color="#7302f4"/><stop offset="0.39341" stop-color="#7202f2"/><stop offset="0.39515" stop-color="#7202f2"/><stop offset="0.39515" stop-color="#7102f0"/><stop offset="0.39688" stop-color="#7102f0"/><stop offset="0.39688" stop-color="#7302f5"/><stop offset="0.39861" stop-color="#7302f5"/><stop offset="0.39861" stop-color="#7102f1"/><stop offset="0.40035" stop-color="#7102f1"/><stop offset="0.40035" stop-color="#7302f5"/><stop offset="0.40208" stop-color="#7302f5"/><stop offset="0.40208" stop-color="#7402f6"/><stop offset="0.40381" stop-color="#7402f6"/><stop offset="0.40381" stop-color="#7202f2"/><stop offset="0.40728" stop-color="#7202f2"/><stop offset="0.40728" stop-color="#7402f6"/><stop offset="0.40901" stop-color="#7402f6"/><stop offset="0.40901" stop-color="#7302f4"/><stop offset="0.41075" stop-color="#7302f4"/><stop offset="0.41075" stop-color="#7102f0"/><stop offset="0.41248" stop-color="#7102f0"/><stop offset="0.41248" stop-color="#7002ef"/><stop offset="0.41421" stop-color="#7002ef"/><stop offset="0.41421" stop-color="#7002f0"/><stop offset="0.41594" stop-color="#7002f0"/><stop offset="0.41594" stop-color="#7402f5"/><stop offset="0.41768" stop-color="#7402f5"/><stop offset="0.41768" stop-color="#7302f5"/><stop offset="0.41941" stop-color="#7302f5"/><stop offset="0.41941" stop-color="#7002f0"/><stop offset="0.42114" stop-color="#7002f0"/><stop offset="0.42114" stop-color="#7302f5"/><stop offset="0.42288" stop-color="#7302f5"/><stop offset="0.42288" stop-color="#7402f6"/><stop offset="0.42461" stop-color="#7402f6"/><stop offset="0.42461" stop-color="#7302f4"/><stop offset="0.42634" stop-color="#7302f4"/><stop offset="0.42634" stop-color="#7102f1"/><stop offset="0.42808" stop-color="#7102f1"/><stop offset="0.42808" stop-color="#7202f3"/><stop offset="0.42981" stop-color="#7202f3"/><stop offset="0.42981" stop-color="#7002f0"/><stop offset="0.43154" stop-color="#7002f0"/><stop offset="0.43154" stop-color="#7002ef"/><stop offset="0.43328" stop-color="#7002ef"/><stop offset="0.43328" stop-color="#7402f6"/><stop offset="0.43501" stop-color="#7402f6"/><stop offset="0.43501" stop-color="#7302f4"/><stop offset="0.43674" stop-color="#7302f4"/><stop offset="0.43674" stop-color="#7202f3"/><stop offset="0.43847" stop-color="#7202f3"/><stop offset="0.43847" stop-color="#7402f6"/><stop offset="0.44021" stop-color="#7402f6"/><stop offset="0.44021" stop-color="#7202f2"/><stop offset="0.44194" stop-color="#7202f2"/><stop offset="0.44194" stop-color="#7402f5"/><stop offset="0.44367" stop-color="#7402f5"/><stop offset="0.44367" stop-color="#7302f5"/><stop offset="0.44541" stop-color="#7302f5"/><stop offset="0.44541" stop-color="#7102f0"/><stop offset="0.44714" stop-color="#7102f0"/><stop offset="0.44714" stop-color="#7102f1"/><stop offset="0.45061" stop-color="#7102f1"/><stop offset="0.45061" stop-color="#7102f0"/><stop offset="0.45234" stop-color="#7102f0"/><stop offset="0.45234" stop-color="#7202f3"/><stop offset="0.45407" stop-color="#7202f3"/><stop offset="0.45407" stop-color="#7102f1"/><stop offset="0.45581" stop-color="#7102f1"/><stop offset="0.45581" stop-color="#7202f2"/><stop offset="0.45754" stop-color="#7202f2"/><stop offset="0.45754" stop-color="#7002f0"/><stop offset="0.45927" stop-color="#7002f0"/><stop offset="0.45927" stop-color="#7402f5"/><stop offset="0.46101" stop-color="#7402f5"/><stop offset="0.46101" stop-color="#7102f1"/><stop offset="0.46274" stop-color="#7102f1"/><stop offset="0.46274" stop-color="#7202f2"/><stop offset="0.46447" stop-color="#7202f2"/><stop offset="0.46447" stop-color="#7202f3"/><stop offset="0.46620" stop-color="#7202f3"/><stop offset="0.46620" stop-color="#7402f5"/><stop offset="0.46794" stop-color="#7402f5"/><stop offset="0.46794" stop-color="#7202f2"/><stop offset="0.46967" stop-color="#7202f2"/><stop offset="0.46967" stop-color="#7402f6"/><stop offset="0.47140" stop-color="#7402f6"/><stop offset="0.47140" stop-color="#7202f3"/><stop offset="0.47660" stop-color="#7202f3"/><stop offset="0.47660" stop-color="#7002ef"/><stop offset="0.47834" stop-color="#7002ef"/><stop offset="0.47834" stop-color="#7202f2"/><stop offset="0.48007" stop-color="#7202f2"/><stop offset="0.48007" stop-color="#7102f0"/><stop offset="0.48180" stop-color="#7102f0"/><stop offset="0.48180" stop-color="#7002ee"/><stop offset="0.48354" stop-color="#7002ee"/><stop offset="0.48354" stop-color="#7302f5"/><stop offset="0.48527" stop-color="#7302f5"/><stop offset="0.48527" stop-color="#8a07f5"/><stop offset="0.48700" stop-color="#8a07f5"/><stop offset="0.48700" stop-color="#7202f2"/><stop offset="0.48873" stop-color="#7202f2"/><stop offset="0.48873" stop-color="#7302f4"/><stop offset="0.49047" stop-color="#7302f4"/><stop offset="0.49047" stop-color="#7202f3"/><stop offset="0.49220" stop-color="#7202f3"/><stop offset="0.49220" stop-color="#7a03fd"/><stop offset="0.49393" stop-color="#7a03fd"/><stop offset="0.49393" stop-color="#7202f3"/><stop offset="0.49740" stop-color="#7202f3"/><stop offset="0.49740" stop-color="#7302f5"/><stop offset="0.49913" stop-color="#7302f5"/><stop offset="0.49913" stop-color="#7002ef"/><stop offset="0.50087" stop-color="#7002ef"/><stop offset="0.50087" stop-color="#7102f1"/><stop offset="0.50260" stop-color="#7102f1"/><stop offset="0.50260" stop-color="#7002ee"/><stop offset="0.50607" stop-color="#7002ee"/><stop offset="0.50607" stop-color="#7202f2"/><stop offset="0.50780" stop-color="#7202f2"/><stop offset="0.50780" stop-color="#7102f0"/><stop offset="0.50953" stop-color="#7102f0"/><stop offset="0.50953" stop-color="#7102f1"/><stop offset="0.51127" stop-color="#7102f1"/><stop offset="0.51127" stop-color="#7202f2"/><stop offset="0.51300" stop-color="#7202f2"/><stop offset="0.51300" stop-color="#7302f3"/><stop offset="0.51473" stop-color="#7302f3"/><stop offset="0.51473" stop-color="#7102f0"/><stop offset="0.51646" stop-color="#7102f0"/><stop offset="0.51646" stop-color="#7102f1"/><stop offset="0.51820" stop-color="#7102f1"/><stop offset="0.51820" stop-color="#7102f0"/><stop offset="0.52166" stop-color="#7102f0"/><stop offset="0.52166" stop-color="#7202f2"/><stop offset="0.52340" stop-color="#7202f2"/><stop offset="0.52340" stop-color="#7102f0"/><stop offset="0.52513" stop-color="#7102f0"/><stop offset="0.52513" stop-color="#7102f1"/><stop offset="0.52686" stop-color="#7102f1"/><stop offset="0.52686" stop-color="#7102f0"/><stop offset="0.52860" stop-color="#7102f0"/><stop offset="0.52860" stop-color="#7302f4"/><stop offset="0.53033" stop-color="#7302f4"/><stop offset="0.53033" stop-color="#7202f2"/><stop offset="0.53206" stop-color="#7202f2"/><stop offset="0.53206" stop-color="#7202f3"/><stop offset="0.53380" stop-color="#7202f3"/><stop offset="0.53380" stop-color="#7302f4"/><stop offset="0.53553" stop-color="#7302f4"/><stop offset="0.53553" stop-color="#7002ee"/><stop offset="0.53726" stop-color="#7002ee"/><stop offset="0.53726" stop-color="#7102f1"/><stop offset="0.53899" stop-color="#7102f1"/><stop offset="0.53899" stop-color="#7302f4"/><stop offset="0.54073" stop-color="#7302f4"/><stop offset="0.54073" stop-color="#7202f3"/><stop offset="0.54246" stop-color="#7202f3"/><stop offset="0.54246" stop-color="#6f02ed"/><stop offset="0.54593" stop-color="#6f02ed"/><stop offset="0.54593" stop-color="#7102f0"/><stop offset="0.54766" stop-color="#7102f0"/><stop offset="0.54766" stop-color="#6f02ec"/><stop offset="0.54939" stop-color="#6f02ec"/><stop offset="0.54939" stop-color="#7002ee"/><stop offset="0.55113" stop-color="#7002ee"/><stop offset="0.55113" stop-color="#6f02ec"/><stop offset="0.55286" stop-color="#6f02ec"/><stop offset="0.55286" stop-color="#7202f2"/><stop offset="0.55459" stop-color="#7202f2"/><stop offset="0.55459" stop-color="#7202f3"/><stop offset="0.55633" stop-color="#7202f3"/><stop offset="0.55633" stop-color="#7302f3"/><stop offset="0.55806" stop-color="#7302f3"/><stop offset="0.55806" stop-color="#6f02ed"/><stop offset="0.55979" stop-color="#6f02ed"/><stop offset="0.55979" stop-color="#7202f2"/><stop offset="0.56153" stop-color="#7202f2"/><stop offset="0.56153" stop-color="#7102f2"/><stop offset="0.56326" stop-color="#7102f2"/><stop offset="0.56326" stop-color="#6f02ed"/><stop offset="0.56499" stop-color="#6f02ed"/><stop offset="0.56499" stop-color="#7202f3"/><stop offset="0.56672" stop-color="#7202f3"/><stop offset="0.56672" stop-color="#7302f4"/><stop offset="0.56846" stop-color="#7302f4"/><stop offset="0.56846" stop-color="#7002ee"/><stop offset="0.57019" stop-color="#7002ee"/><stop offset="0.57019" stop-color="#7302f4"/><stop offset="0.57192" stop-color="#7302f4"/><stop offset="0.57192" stop-color="#7002ef"/><stop offset="0.57366" stop-color="#7002ef"/><stop offset="0.57366" stop-color="#7102f0"/><stop offset="0.57539" stop-color="#7102f0"/><stop offset="0.57539" stop-color="#7302f4"/><stop offset="0.57712" stop-color="#7302f4"/><stop offset="0.57712" stop-color="#7202f3"/><stop offset="0.57886" stop-color="#7202f3"/><stop offset="0.57886" stop-color="#6f02ed"/><stop offset="0.58059" stop-color="#6f02ed"/><stop offset="0.58059" stop-color="#6e02eb"/><stop offset="0.58232" stop-color="#6e02eb"/><stop offset="0.58232" stop-color="#6f02ec"/><stop offset="0.58406" stop-color="#6f02ec"/><stop offset="0.58406" stop-color="#6e02ea"/><stop offset="0.58579" stop-color="#6e02ea"/><stop offset="0.58579" stop-color="#6d02e9"/><stop offset="0.58752" stop-color="#6d02e9"/><stop offset="0.58752" stop-color="#6e02ea"/><stop offset="0.58925" stop-color="#6e02ea"/><stop offset="0.58925" stop-color="#7002ee"/><stop offset="0.59099" stop-color="#7002ee"/><stop offset="0.59099" stop-color="#6c01e7"/><stop offset="0.59272" stop-color="#6c01e7"/><stop offset="0.59272" stop-color="#6f02ec"/><stop offset="0.59445" stop-color="#6f02ec"/><stop offset="0.59445" stop-color="#6e02eb"/><stop offset="0.59619" stop-color="#6e02eb"/><stop offset="0.59619" stop-color="#6c01e7"/><stop offset="0.59792" stop-color="#6c01e7"/><stop offset="0.59792" stop-color="#6e02ea"/><stop offset="0.59965" stop-color="#6e02ea"/><stop offset="0.59965" stop-color="#6f02ed"/><stop offset="0.60139" stop-color="#6f02ed"/><stop offset="0.60139" stop-color="#7302f5"/><stop offset="0.60312" stop-color="#7302f5"/><stop offset="0.60312" stop-color="#6c02e7"/><stop offset="0.60485" stop-color="#6c02e7"/><stop offset="0.60485" stop-color="#7102f0"/><stop offset="0.60659" stop-color="#7102f0"/><stop offset="0.60659" stop-color="#7002ee"/><stop offset="0.60832" stop-color="#7002ee"/><stop offset="0.60832" stop-color="#7102f0"/><stop offset="0.61005" stop-color="#7102f0"/><stop offset="0.61005" stop-color="#6d02e8"/><stop offset="0.61179" stop-color="#6d02e8"/><stop offset="0.61179" stop-color="#6d02e9"/><stop offset="0.61352" stop-color="#6d02e9"/><stop offset="0.61352" stop-color="#6c02e7"/><stop offset="0.61525" stop-color="#6c02e7"/><stop offset="0.61525" stop-color="#7002ee"/><stop offset="0.61698" stop-color="#7002ee"/><stop offset="0.61698" stop-color="#6d02ea"/><stop offset="0.61872" stop-color="#6d02ea"/><stop offset="0.61872" stop-color="#6d02e8"/><stop offset="0.62045" stop-color="#6d02e8"/><stop offset="0.62045" stop-color="#6e02eb"/><stop offset="0.62218" stop-color="#6e02eb"/><stop offset="0.62218" stop-color="#7002ef"/><stop offset="0.62565" stop-color="#7002ef"/><stop offset="0.62565" stop-color="#6d02e9"/><stop offset="0.62738" stop-color="#6d02e9"/><stop offset="0.62738" stop-color="#6d02e8"/><stop offset="0.62912" stop-color="#6d02e8"/><stop offset="0.62912" stop-color="#7002f0"/><stop offset="0.63085" stop-color="#7002f0"/><stop offset="0.63085" stop-color="#6f02ec"/><stop offset="0.63258" stop-color="#6f02ec"/><stop offset="0.63258" stop-color="#6f02ee"/><stop offset="0.63432" stop-color="#6f02ee"/><stop offset="0.63432" stop-color="#6d02e8"/><stop offset="0.63605" stop-color="#6d02e8"/><stop offset="0.63605" stop-color="#7b03fd"/><stop offset="0.63778" stop-color="#7b03fd"/><stop offset="0.63778" stop-color="#6f02ee"/><stop offset="0.63951" stop-color="#6f02ee"/><stop offset="0.63951" stop-color="#6e02eb"/><stop offset="0.64125" stop-color="#6e02eb"/><stop offset="0.64125" stop-color="#6d02e7"/><stop offset="0.64298" stop-color="#6d02e7"/><stop offset="0.64298" stop-color="#7002f0"/><stop offset="0.64471" stop-color="#7002f0"/><stop offset="0.64471" stop-color="#6f02ed"/><stop offset="0.64645" stop-color="#6f02ed"/><stop offset="0.64645" stop-color="#7002ef"/><stop offset="0.64818" stop-color="#7002ef"/><stop offset="0.64818" stop-color="#6d02e8"/><stop offset="0.64991" stop-color="#6d02e8"/><stop offset="0.64991" stop-color="#6d02e9"/><stop offset="0.65165" stop-color="#6d02e9"/><stop offset="0.65165" stop-color="#6901e0"/><stop offset="0.65338" stop-color="#6901e0"/><stop offset="0.65338" stop-color="#6d02e9"/><stop offset="0.65511" stop-color="#6d02e9"/><stop offset="0.65511" stop-color="#6b01e5"/><stop offset="0.65685" stop-color="#6b01e5"/><stop offset="0.65685" stop-color="#6b01e3"/><stop offset="0.65858" stop-color="#6b01e3"/><stop offset="0.65858" stop-color="#6c01e6"/><stop offset="0.66031" stop-color="#6c01e6"/><stop offset="0.66031" stop-color="#6e02ea"/><stop offset="0.66205" stop-color="#6e02ea"/><stop offset="0.66205" stop-color="#6a01e3"/><stop offset="0.66378" stop-color="#6a01e3"/><stop offset="0.66378" stop-color="#6a01e1"/><stop offset="0.66551" stop-color="#6a01e1"/><stop offset="0.66551" stop-color="#6c01e5"/><stop offset="0.66724" stop-color="#6c01e5"/><stop offset="0.66724" stop-color="#6a01e2"/><stop offset="0.66898" stop-color="#6a01e2"/><stop offset="0.66898" stop-color="#6f02ec"/><stop offset="0.67071" stop-color="#6f02ec"/><stop offset="0.67071" stop-color="#6f02ed"/><stop offset="0.67244" stop-color="#6f02ed"/><stop offset="0.67244" stop-color="#6901e0"/><stop offset="0.67418" stop-color="#6901e0"/><stop offset="0.67418" stop-color="#6a01e2"/><stop offset="0.67591" stop-color="#6a01e2"/><stop offset="0.67591" stop-color="#6b01e3"/><stop offset="0.67938" stop-color="#6b01e3"/><stop offset="0.67938" stop-color="#6d02e8"/><stop offset="0.68111" stop-color="#6d02e8"/><stop offset="0.68111" stop-color="#6b01e3"/><stop offset="0.68284" stop-color="#6b01e3"/><stop offset="0.68284" stop-color="#6c01e5"/><stop offset="0.68458" stop-color="#6c01e5"/><stop offset="0.68458" stop-color="#6a01e2"/><stop offset="0.68631" stop-color="#6a01e2"/><stop offset="0.68631" stop-color="#6b01e3"/><stop offset="0.68804" stop-color="#6b01e3"/><stop offset="0.68804" stop-color="#6901e0"/><stop offset="0.68977" stop-color="#6901e0"/><stop offset="0.68977" stop-color="#6a01e2"/><stop offset="0.69151" stop-color="#6a01e2"/><stop offset="0.69151" stop-color="#6901e0"/><stop offset="0.69324" stop-color="#6901e0"/><stop offset="0.69324" stop-color="#6d02e8"/><stop offset="0.69497" stop-color="#6d02e8"/><stop offset="0.69497" stop-color="#6c01e6"/><stop offset="0.69671" stop-color="#6c01e6"/><stop offset="0.69671" stop-color="#6a01e2"/><stop offset="0.69844" stop-color="#6a01e2"/><stop offset="0.69844" stop-color="#7002ef"/><stop offset="0.70017" stop-color="#7002ef"/><stop offset="0.70017" stop-color="#6e02ea"/><stop offset="0.70191" stop-color="#6e02ea"/><stop offset="0.70191" stop-color="#6a01e1"/><stop offset="0.70364" stop-color="#6a01e1"/><stop offset="0.70364" stop-color="#6d02e9"/><stop offset="0.70537" stop-color="#6d02e9"/><stop offset="0.70537" stop-color="#7202f2"/><stop offset="0.70711" stop-color="#7202f2"/><stop offset="0.70711" stop-color="#6b01e5"/><stop offset="0.70884" stop-color="#6b01e5"/><stop offset="0.70884" stop-color="#6d02e9"/><stop offset="0.71057" stop-color="#6d02e9"/><stop offset="0.71057" stop-color="#6b01e4"/><stop offset="0.71231" stop-color="#6b01e4"/><stop offset="0.71231" stop-color="#6c01e5"/><stop offset="0.71404" stop-color="#6c01e5"/><stop offset="0.71404" stop-color="#6c02e7"/><stop offset="0.71577" stop-color="#6c02e7"/><stop offset="0.71577" stop-color="#6e02ea"/><stop offset="0.71750" stop-color="#6e02ea"/><stop offset="0.71750" stop-color="#6b01e3"/><stop offset="0.71924" stop-color="#6b01e3"/><stop offset="0.71924" stop-color="#6d02e9"/><stop offset="0.72097" stop-color="#6d02e9"/><stop offset="0.72097" stop-color="#6c02e7"/><stop offset="0.72270" stop-color="#6c02e7"/><stop offset="0.72270" stop-color="#6c01e7"/><stop offset="0.72444" stop-color="#6c01e7"/><stop offset="0.72444" stop-color="#6b01e4"/><stop offset="0.72790" stop-color="#6b01e4"/><stop offset="0.72790" stop-color="#6901e0"/><stop offset="0.72964" stop-color="#6901e0"/><stop offset="0.72964" stop-color="#6a01e1"/><stop offset="0.73137" stop-color="#6a01e1"/><stop offset="0.73137" stop-color="#6901e0"/><stop offset="0.73310" stop-color="#6901e0"/><stop offset="0.73310" stop-color="#6d02e8"/><stop offset="0.73484" stop-color="#6d02e8"/><stop offset="0.73484" stop-color="#7a03fd"/><stop offset="0.73657" stop-color="#7a03fd"/><stop offset="0.73657" stop-color="#6801dd"/><stop offset="0.73830" stop-color="#6801dd"/><stop offset="0.73830" stop-color="#6801dc"/><stop offset="0.74003" stop-color="#6801dc"/><stop offset="0.74003" stop-color="#6b01e5"/><stop offset="0.74177" stop-color="#6b01e5"/><stop offset="0.74177" stop-color="#6c01e5"/><stop offset="0.74350" stop-color="#6c01e5"/><stop offset="0.74350" stop-color="#6b01e3"/><stop offset="0.74523" stop-color="#6b01e3"/><stop offset="0.74523" stop-color="#6901df"/><stop offset="0.74697" stop-color="#6901df"/><stop offset="0.74697" stop-color="#6901de"/><stop offset="0.74870" stop-color="#6901de"/><stop offset="0.74870" stop-color="#6901df"/><stop offset="0.75043" stop-color="#6901df"/><stop offset="0.75043" stop-color="#6a01e1"/><stop offset="0.75217" stop-color="#6a01e1"/><stop offset="0.75217" stop-color="#6801dd"/><stop offset="0.75390" stop-color="#6801dd"/><stop offset="0.75390" stop-color="#6a01e1"/><stop offset="0.75563" stop-color="#6a01e1"/><stop offset="0.75563" stop-color="#6901de"/><stop offset="0.75737" stop-color="#6901de"/><stop offset="0.75737" stop-color="#6c01e6"/><stop offset="0.76083" stop-color="#6c01e6"/><stop offset="0.76083" stop-color="#6a01e2"/><stop offset="0.76256" stop-color="#6a01e2"/><stop offset="0.76256" stop-color="#6901de"/><stop offset="0.76430" stop-color="#6901de"/><stop offset="0.76430" stop-color="#6c01e6"/><stop offset="0.76603" stop-color="#6c01e6"/><stop offset="0.76603" stop-color="#7903fc"/><stop offset="0.76776" stop-color="#7903fc"/><stop offset="0.76776" stop-color="#6901df"/><stop offset="0.76950" stop-color="#6901df"/><stop offset="0.76950" stop-color="#6701db"/><stop offset="0.77123" stop-color="#6701db"/><stop offset="0.77123" stop-color="#6f02ec"/><stop offset="0.77470" stop-color="#6f02ec"/><stop offset="0.77470" stop-color="#7e04ff"/><stop offset="0.77643" stop-color="#7e04ff"/><stop offset="0.77643" stop-color="#8806f9"/><stop offset="0.78163" stop-color="#8806f9"/><stop offset="0.78163" stop-color="#7e04ff"/><stop offset="0.78336" stop-color="#7e04ff"/><stop offset="0.78336" stop-color="#6f02ec"/><stop offset="0.78510" stop-color="#6f02ec"/><stop offset="0.78510" stop-color="#7202f2"/><stop offset="0.78683" stop-color="#7202f2"/><stop offset="0.78683" stop-color="#6f02ec"/><stop offset="0.79896" stop-color="#6f02ec"/><stop offset="0.79896" stop-color="#7c03fe"/><stop offset="0.80069" stop-color="#7c03fe"/><stop offset="0.80069" stop-color="#6f02ec"/><stop offset="0.80416" stop-color="#6f02ec"/><stop offset="0.80416" stop-color="#7b03fd"/><stop offset="0.80589" stop-color="#7b03fd"/><stop offset="0.80589" stop-color="#7a03fd"/><stop offset="0.80763" stop-color="#7a03fd"/><stop offset="0.80763" stop-color="#6f02ec"/><stop offset="0.81282" stop-color="#6f02ec"/><stop offset="0.81282" stop-color="#6201cb"/><stop offset="0.81456" stop-color="#6201cb"/><stop offset="0.81456" stop-color="#5f01c2"/><stop offset="0.81629" stop-color="#5f01c2"/><stop offset="0.81629" stop-color="#6301ce"/><stop offset="0.81802" stop-color="#6301ce"/><stop offset="0.81802" stop-color="#6301cf"/><stop offset="0.81976" stop-color="#6301cf"/><stop offset="0.81976" stop-color="#6201cb"/><stop offset="0.82149" stop-color="#6201cb"/><stop offset="0.82149" stop-color="#6201cc"/><stop offset="0.82322" stop-color="#6201cc"/><stop offset="0.82322" stop-color="#6301ce"/><stop offset="0.82496" stop-color="#6301ce"/><stop offset="0.82496" stop-color="#5f01c3"/><stop offset="0.82669" stop-color="#5f01c3"/><stop offset="0.82669" stop-color="#6101c9"/><stop offset="0.83016" stop-color="#6101c9"/><stop offset="0.83016" stop-color="#6301ce"/><stop offset="0.83189" stop-color="#6301ce"/><stop offset="0.83189" stop-color="#6201ce"/><stop offset="0.83362" stop-color="#6201ce"/><stop offset="0.83362" stop-color="#6301ce"/><stop offset="0.83536" stop-color="#6301ce"/><stop offset="0.83536" stop-color="#6101ca"/><stop offset="0.83709" stop-color="#6101ca"/><stop offset="0.83709" stop-color="#6301cf"/><stop offset="0.83882" stop-color="#6301cf"/><stop offset="0.83882" stop-color="#6201cc"/><stop offset="0.84229" stop-color="#6201cc"/><stop offset="0.84229" stop-color="#5f01c5"/><stop offset="0.84402" stop-color="#5f01c5"/><stop offset="0.84402" stop-color="#5e01c2"/><stop offset="0.84575" stop-color="#5e01c2"/><stop offset="0.84575" stop-color="#5f01c3"/><stop offset="0.84749" stop-color="#5f01c3"/><stop offset="0.84749" stop-color="#6001c7"/><stop offset="0.84922" stop-color="#6001c7"/><stop offset="0.84922" stop-color="#5f01c3"/><stop offset="0.85095" stop-color="#5f01c3"/><stop offset="0.85095" stop-color="#6301ce"/><stop offset="0.85269" stop-color="#6301ce"/><stop offset="0.85269" stop-color="#6101ca"/><stop offset="0.85442" stop-color="#6101ca"/><stop offset="0.85442" stop-color="#6201cb"/><stop offset="0.85789" stop-color="#6201cb"/><stop offset="0.85789" stop-color="#6201cc"/><stop offset="0.85962" stop-color="#6201cc"/><stop offset="0.85962" stop-color="#6101c9"/><stop offset="0.86135" stop-color="#6101c9"/><stop offset="0.86135" stop-color="#5e01c1"/><stop offset="0.86308" stop-color="#5e01c1"/><stop offset="0.86308" stop-color="#6201cd"/><stop offset="0.86655" stop-color="#6201cd"/><stop offset="0.86655" stop-color="#6101c9"/><stop offset="0.87002" stop-color="#6101c9"/><stop offset="0.87002" stop-color="#6201cb"/><stop offset="0.87175" stop-color="#6201cb"/><stop offset="0.87175" stop-color="#5f01c2"/><stop offset="0.87348" stop-color="#5f01c2"/><stop offset="0.87348" stop-color="#6201cd"/><stop offset="0.87522" stop-color="#6201cd"/><stop offset="0.87522" stop-color="#6001c5"/><stop offset="0.87695" stop-color="#6001c5"/><stop offset="0.87695" stop-color="#5f01c2"/><stop offset="0.87868" stop-color="#5f01c2"/><stop offset="0.87868" stop-color="#6001c5"/><stop offset="0.88042" stop-color="#6001c5"/><stop offset="0.88042" stop-color="#6201cc"/><stop offset="0.88215" stop-color="#6201cc"/><stop offset="0.88215" stop-color="#5f01c4"/><stop offset="0.88388" stop-color="#5f01c4"/><stop offset="0.88388" stop-color="#6201cd"/><stop offset="0.88562" stop-color="#6201cd"/><stop offset="0.88562" stop-color="#7c03fe"/><stop offset="0.88735" stop-color="#7c03fe"/><stop offset="0.88735" stop-color="#5c01ba"/><stop offset="0.88908" stop-color="#5c01ba"/><stop offset="0.88908" stop-color="#5b01b8"/><stop offset="0.89081" stop-color="#5b01b8"/><stop offset="0.89081" stop-color="#5c01ba"/><stop offset="0.89255" stop-color="#5c01ba"/><stop offset="0.89255" stop-color="#5d01bd"/><stop offset="0.89428" stop-color="#5d01bd"/><stop offset="0.89428" stop-color="#5d01be"/><stop offset="0.89601" stop-color="#5d01be"/><stop offset="0.89601" stop-color="#7803fb"/><stop offset="0.89948" stop-color="#7803fb"/><stop offset="0.89948" stop-color="#5a00b3"/><stop offset="0.90121" stop-color="#5a00b3"/><stop offset="0.90121" stop-color="#5a00b4"/><stop offset="0.90295" stop-color="#5a00b4"/><stop offset="0.90295" stop-color="#5b01b6"/><stop offset="0.90468" stop-color="#5b01b6"/><stop offset="0.90468" stop-color="#5d01be"/><stop offset="0.90641" stop-color="#5d01be"/><stop offset="0.90641" stop-color="#5b01b7"/><stop offset="0.90815" stop-color="#5b01b7"/><stop offset="0.90815" stop-color="#5c01bb"/><stop offset="0.90988" stop-color="#5c01bb"/><stop offset="0.90988" stop-color="#5900b1"/><stop offset="0.91161" stop-color="#5900b1"/><stop offset="0.91161" stop-color="#5900b2"/><stop offset="0.91334" stop-color="#5900b2"/><stop offset="0.91334" stop-color="#5b01b6"/><stop offset="0.91508" stop-color="#5b01b6"/><stop offset="0.91508" stop-color="#5d01bd"/><stop offset="0.92028" stop-color="#5d01bd"/><stop offset="0.92028" stop-color="#5b01b6"/><stop offset="0.92201" stop-color="#5b01b6"/><stop offset="0.92201" stop-color="#5c01ba"/><stop offset="0.92374" stop-color="#5c01ba"/><stop offset="0.92374" stop-color="#5c01b9"/><stop offset="0.92721" stop-color="#5c01b9"/><stop offset="0.92721" stop-color="#5a00b3"/><stop offset="0.92894" stop-color="#5a00b3"/><stop offset="0.92894" stop-color="#5e01c0"/><stop offset="0.93068" stop-color="#5e01c0"/><stop offset="0.93068" stop-color="#5a01b5"/><stop offset="0.93241" stop-color="#5a01b5"/><stop offset="0.93241" stop-color="#6901e0"/><stop offset="0.93414" stop-color="#6901e0"/><stop offset="0.93414" stop-color="#5e01c1"/><stop offset="0.93588" stop-color="#5e01c1"/><stop offset="0.93588" stop-color="#5900b1"/><stop offset="0.93761" stop-color="#5900b1"/><stop offset="0.93761" stop-color="#5c01b9"/><stop offset="0.93934" stop-color="#5c01b9"/><stop offset="0.93934" stop-color="#5e01bf"/><stop offset="0.94107" stop-color="#5e01bf"/><stop offset="0.94107" stop-color="#5e01c2"/><stop offset="0.94281" stop-color="#5e01c2"/><stop offset="0.94281" stop-color="#5c01b9"/><stop offset="0.94454" stop-color="#5c01b9"/><stop offset="0.94454" stop-color="#5b01b6"/><stop offset="0.94627" stop-color="#5b01b6"/><stop offset="0.94627" stop-color="#7803fa"/><stop offset="0.94801" stop-color="#7803fa"/><stop offset="0.94801" stop-color="#7b03fd"/><stop offset="0.94974" stop-color="#7b03fd"/><stop offset="0.94974" stop-color="#5a01b5"/><stop offset="0.95147" stop-color="#5a01b5"/><stop offset="0.95147" stop-color="#5c01bb"/><stop offset="0.95321" stop-color="#5c01bb"/><stop offset="0.95321" stop-color="#7a03fd"/><stop offset="0.95494" stop-color="#7a03fd"/><stop offset="0.95494" stop-color="#7c03fe"/><stop offset="0.95667" stop-color="#7c03fe"/><stop offset="0.95667" stop-color="#7e04ff"/><stop offset="0.95841" stop-color="#7e04ff"/><stop offset="0.95841" stop-color="#7a03fd"/><stop offset="0.96014" stop-color="#7a03fd"/><stop offset="0.96014" stop-color="#5e01bf"/><stop offset="0.96187" stop-color="#5e01bf"/><stop offset="0.96187" stop-color="#5c01ba"/><stop offset="0.96360" stop-color="#5c01ba"/><stop offset="0.96360" stop-color="#6901df"/><stop offset="0.96534" stop-color="#6901df"/><stop offset="0.96534" stop-color="#5d01bd"/><stop offset="0.96707" stop-color="#5d01bd"/><stop offset="0.96707" stop-color="#5a01b5"/><stop offset="0.96880" stop-color="#5a01b5"/><stop offset="0.96880" stop-color="#5e01c1"/><stop offset="0.97054" stop-color="#5e01c1"/><stop offset="0.97054" stop-color="#5a00b3"/><stop offset="0.97227" stop-color="#5a00b3"/><stop offset="0.97227" stop-color="#5700ab"/><stop offset="0.97574" stop-color="#5700ab"/><stop offset="0.97574" stop-color="#5a00b4"/><stop offset="0.97747" stop-color="#5a00b4"/><stop offset="0.97747" stop-color="#5a00b3"/><stop offset="0.97920" stop-color="#5a00b3"/><stop offset="0.97920" stop-color="#5900b0"/><stop offset="0.98094" stop-color="#5900b0"/><stop offset="0.98094" stop-color="#5800ad"/><stop offset="0.98267" stop-color="#5800ad"/><stop offset="0.98267" stop-color="#5900b1"/><stop offset="0.98440" stop-color="#5900b1"/><stop offset="0.98440" stop-color="#6401d3"/><stop offset="0.98614" stop-color="#6401d3"/><stop offset="0.98614" stop-color="#5c01ba"/><stop offset="0.98787" stop-color="#5c01ba"/><stop offset="0.98787" stop-color="#5700ab"/><stop offset="0.98960" stop-color="#5700ab"/><stop offset="0.98960" stop-color="#5b01b8"/><stop offset="0.99133" stop-color="#5b01b8"/><stop offset="0.99133" stop-color="#5c01ba"/><stop offset="0.99307" stop-color="#5c01ba"/><stop offset="0.99307" stop-color="#5a00b3"/><stop offset="0.99480" stop-color="#5a00b3"/><stop offset="0.99480" stop-color="#7b03fe"/><stop offset="1.00000" stop-color="#7b03fe"/></linearGradient></defs><rect x="95" y="136" width="577" height="308" fill="url(#gbase)" shape-rendering="crispEdges"/><rect x="95" y="444" width="577" height="90" fill="url(#glow)" shape-rendering="crispEdges"/><rect x="240" y="385" width="324" height="60" fill="url(#gev)" mask="url(#mkev)" shape-rendering="crispEdges"/><rect x="564" y="385" width="108" height="59" fill="url(#gev)" mask="url(#mkev2)" shape-rendering="crispEdges"/><rect x="232" y="392" width="373" height="52" fill="url(#ger)" mask="url(#mker)" shape-rendering="crispEdges"/><ellipse cx="335" cy="416" rx="18" ry="7" fill="#aa1657" opacity="0.5" filter="url(#blur3)"/><ellipse cx="421" cy="426" rx="10" ry="6" fill="#aa1657" opacity="0.45" filter="url(#blur3)"/><ellipse cx="452" cy="426" rx="8" ry="6" fill="#aa1657" opacity="0.4" filter="url(#blur3)"/><ellipse cx="497" cy="427" rx="12" ry="5" fill="#aa1657" opacity="0.4" filter="url(#blur3)"/><ellipse cx="360" cy="414" rx="10" ry="6" fill="#aa1657" opacity="0.4" filter="url(#blur3)"/><ellipse cx="530" cy="426" rx="8" ry="5" fill="#aa1657" opacity="0.35" filter="url(#blur3)"/><g shape-rendering="crispEdges"><rect x="239" y="405" width="1" height="16" fill="url(#gs1)" opacity="0.00"/><rect x="240" y="411" width="1" height="17" fill="url(#gs1)" opacity="0.01"/><rect x="241" y="412" width="1" height="23" fill="url(#gs0)" opacity="0.02"/><rect x="243" y="418" width="1" height="16" fill="url(#gs1)" opacity="0.04"/><rect x="246" y="425" width="1" height="19" fill="url(#gs2)" opacity="0.07"/><rect x="247" y="415" width="1" height="23" fill="url(#gs2)" opacity="0.07"/><rect x="248" y="415" width="1" height="13" fill="url(#gs0)" opacity="0.11"/><rect x="250" y="413" width="1" height="12" fill="url(#gs0)" opacity="0.08"/><rect x="252" y="423" width="1" height="9" fill="url(#gs0)" opacity="0.07"/><rect x="253" y="414" width="1" height="25" fill="url(#gs3)" opacity="0.08"/><rect x="255" y="419" width="1" height="22" fill="url(#gs0)" opacity="0.12"/><rect x="256" y="423" width="1" height="8" fill="url(#gs0)" opacity="0.14"/><rect x="257" y="416" width="1" height="16" fill="url(#gs1)" opacity="0.17"/><rect x="258" y="418" width="1" height="11" fill="url(#gs1)" opacity="0.21"/><rect x="259" y="407" width="1" height="26" fill="url(#gs2)" opacity="0.11"/><rect x="261" y="422" width="1" height="11" fill="url(#gs0)" opacity="0.30"/><rect x="262" y="423" width="1" height="8" fill="url(#gs2)" opacity="0.24"/><rect x="263" y="424" width="1" height="9" fill="url(#gs1)" opacity="0.17"/><rect x="264" y="414" width="1" height="10" fill="url(#gs1)" opacity="0.26"/><rect x="266" y="424" width="1" height="11" fill="url(#gs1)" opacity="0.36"/><rect x="268" y="409" width="1" height="20" fill="url(#gs3)" opacity="0.26"/><rect x="270" y="414" width="1" height="10" fill="url(#gs2)" opacity="0.19"/><rect x="271" y="412" width="1" height="23" fill="url(#gs2)" opacity="0.35"/><rect x="272" y="408" width="1" height="25" fill="url(#gs1)" opacity="0.48"/><rect x="273" y="405" width="1" height="19" fill="url(#gs1)" opacity="0.28"/><rect x="275" y="413" width="1" height="15" fill="url(#gs0)" opacity="0.29"/><rect x="276" y="414" width="1" height="10" fill="url(#gs3)" opacity="0.34"/><rect x="281" y="424" width="1" height="9" fill="url(#gs2)" opacity="0.26"/><rect x="284" y="410" width="1" height="21" fill="url(#gs0)" opacity="0.41"/><rect x="285" y="411" width="1" height="18" fill="url(#gs1)" opacity="0.60"/><rect x="288" y="408" width="1" height="24" fill="url(#gs0)" opacity="0.50"/><rect x="292" y="405" width="1" height="18" fill="url(#gs0)" opacity="0.64"/><rect x="293" y="419" width="1" height="15" fill="url(#gs3)" opacity="0.51"/><rect x="294" y="415" width="1" height="23" fill="url(#gs0)" opacity="0.39"/><rect x="295" y="412" width="1" height="25" fill="url(#gs3)" opacity="0.41"/><rect x="296" y="420" width="1" height="8" fill="url(#gs1)" opacity="0.52"/><rect x="297" y="412" width="1" height="25" fill="url(#gs1)" opacity="0.62"/><rect x="298" y="409" width="1" height="20" fill="url(#gs3)" opacity="0.46"/><rect x="301" y="412" width="1" height="25" fill="url(#gs1)" opacity="0.47"/><rect x="302" y="416" width="1" height="23" fill="url(#gs0)" opacity="0.82"/><rect x="304" y="420" width="1" height="13" fill="url(#gs3)" opacity="0.47"/><rect x="305" y="420" width="1" height="17" fill="url(#gs3)" opacity="0.72"/><rect x="306" y="416" width="1" height="19" fill="url(#gs2)" opacity="0.72"/><rect x="308" y="409" width="1" height="22" fill="url(#gs1)" opacity="0.36"/><rect x="309" y="421" width="1" height="13" fill="url(#gs0)" opacity="0.78"/><rect x="311" y="427" width="1" height="10" fill="url(#gs2)" opacity="0.64"/><rect x="314" y="417" width="1" height="8" fill="url(#gs0)" opacity="0.61"/><rect x="315" y="418" width="1" height="13" fill="url(#gs1)" opacity="0.54"/><rect x="316" y="422" width="1" height="10" fill="url(#gs3)" opacity="0.86"/><rect x="317" y="405" width="1" height="16" fill="url(#gs0)" opacity="0.69"/><rect x="318" y="404" width="1" height="22" fill="url(#gs3)" opacity="0.87"/><rect x="319" y="407" width="1" height="26" fill="url(#gs0)" opacity="0.40"/><rect x="320" y="423" width="1" height="22" fill="url(#gs2)" opacity="0.65"/><rect x="321" y="405" width="1" height="21" fill="url(#gs0)" opacity="0.36"/><rect x="322" y="415" width="1" height="13" fill="url(#gs1)" opacity="0.86"/><rect x="324" y="417" width="1" height="22" fill="url(#gs2)" opacity="0.45"/><rect x="327" y="426" width="1" height="17" fill="url(#gs3)" opacity="0.72"/><rect x="329" y="411" width="1" height="25" fill="url(#gs1)" opacity="0.40"/><rect x="330" y="406" width="1" height="18" fill="url(#gs2)" opacity="0.44"/><rect x="331" y="413" width="1" height="15" fill="url(#gs1)" opacity="0.81"/><rect x="332" y="422" width="1" height="13" fill="url(#gs3)" opacity="0.62"/><rect x="333" y="420" width="1" height="17" fill="url(#gs0)" opacity="0.68"/><rect x="334" y="426" width="1" height="18" fill="url(#gs0)" opacity="0.89"/><rect x="335" y="417" width="1" height="20" fill="url(#gs3)" opacity="0.39"/><rect x="336" y="428" width="1" height="13" fill="url(#gs1)" opacity="0.61"/><rect x="337" y="409" width="1" height="24" fill="url(#gs3)" opacity="0.86"/><rect x="338" y="424" width="1" height="9" fill="url(#gs0)" opacity="0.49"/><rect x="339" y="422" width="1" height="11" fill="url(#gs2)" opacity="0.36"/><rect x="340" y="415" width="1" height="10" fill="url(#gs0)" opacity="0.75"/><rect x="346" y="420" width="1" height="19" fill="url(#gs1)" opacity="0.80"/><rect x="347" y="422" width="1" height="12" fill="url(#gs1)" opacity="0.47"/><rect x="348" y="409" width="1" height="21" fill="url(#gs1)" opacity="0.80"/><rect x="349" y="414" width="1" height="12" fill="url(#gs0)" opacity="0.90"/><rect x="350" y="428" width="1" height="12" fill="url(#gs2)" opacity="0.75"/><rect x="351" y="404" width="1" height="18" fill="url(#gs1)" opacity="0.74"/><rect x="352" y="419" width="1" height="20" fill="url(#gs1)" opacity="0.36"/><rect x="354" y="416" width="1" height="21" fill="url(#gs2)" opacity="0.70"/><rect x="355" y="410" width="1" height="20" fill="url(#gs0)" opacity="0.45"/><rect x="356" y="423" width="1" height="19" fill="url(#gs3)" opacity="0.85"/><rect x="357" y="420" width="1" height="11" fill="url(#gs1)" opacity="0.46"/><rect x="360" y="427" width="1" height="16" fill="url(#gs2)" opacity="0.77"/><rect x="361" y="421" width="1" height="16" fill="url(#gs1)" opacity="0.55"/><rect x="363" y="415" width="1" height="11" fill="url(#gs2)" opacity="0.60"/><rect x="364" y="409" width="1" height="12" fill="url(#gs0)" opacity="0.44"/><rect x="365" y="420" width="1" height="24" fill="url(#gs3)" opacity="0.85"/><rect x="367" y="420" width="1" height="19" fill="url(#gs2)" opacity="0.54"/><rect x="368" y="425" width="1" height="11" fill="url(#gs1)" opacity="0.86"/><rect x="374" y="419" width="1" height="21" fill="url(#gs2)" opacity="0.39"/><rect x="375" y="420" width="1" height="25" fill="url(#gs0)" opacity="0.85"/><rect x="376" y="418" width="1" height="25" fill="url(#gs2)" opacity="0.72"/><rect x="377" y="417" width="1" height="9" fill="url(#gs3)" opacity="0.63"/><rect x="382" y="416" width="1" height="19" fill="url(#gs2)" opacity="0.76"/><rect x="383" y="406" width="1" height="20" fill="url(#gs2)" opacity="0.36"/><rect x="384" y="412" width="1" height="24" fill="url(#gs3)" opacity="0.65"/><rect x="390" y="413" width="1" height="9" fill="url(#gs1)" opacity="0.86"/><rect x="391" y="406" width="1" height="25" fill="url(#gs0)" opacity="0.82"/><rect x="392" y="412" width="1" height="15" fill="url(#gs2)" opacity="0.52"/><rect x="393" y="418" width="1" height="13" fill="url(#gs2)" opacity="0.86"/><rect x="394" y="415" width="1" height="19" fill="url(#gs3)" opacity="0.57"/><rect x="395" y="411" width="1" height="14" fill="url(#gs2)" opacity="0.57"/><rect x="396" y="420" width="1" height="17" fill="url(#gs1)" opacity="0.89"/><rect x="397" y="416" width="1" height="10" fill="url(#gs3)" opacity="0.80"/><rect x="398" y="417" width="1" height="21" fill="url(#gs3)" opacity="0.38"/><rect x="399" y="417" width="1" height="12" fill="url(#gs1)" opacity="0.38"/><rect x="400" y="409" width="1" height="16" fill="url(#gs3)" opacity="0.49"/><rect x="401" y="416" width="1" height="21" fill="url(#gs1)" opacity="0.80"/><rect x="404" y="421" width="1" height="22" fill="url(#gs2)" opacity="0.69"/><rect x="405" y="421" width="1" height="19" fill="url(#gs1)" opacity="0.75"/><rect x="408" y="412" width="1" height="24" fill="url(#gs0)" opacity="0.83"/><rect x="410" y="432" width="1" height="13" fill="url(#gs0)" opacity="0.36"/><rect x="411" y="417" width="1" height="10" fill="url(#gs1)" opacity="0.72"/><rect x="413" y="415" width="1" height="17" fill="url(#gs2)" opacity="0.47"/><rect x="414" y="420" width="1" height="22" fill="url(#gs1)" opacity="0.60"/><rect x="415" y="421" width="1" height="21" fill="url(#gs1)" opacity="0.56"/><rect x="416" y="409" width="1" height="14" fill="url(#gs1)" opacity="0.65"/><rect x="417" y="404" width="1" height="15" fill="url(#gs2)" opacity="0.40"/><rect x="418" y="421" width="1" height="17" fill="url(#gs2)" opacity="0.73"/><rect x="420" y="420" width="1" height="14" fill="url(#gs0)" opacity="0.85"/><rect x="422" y="412" width="1" height="24" fill="url(#gs2)" opacity="0.47"/><rect x="423" y="415" width="1" height="10" fill="url(#gs2)" opacity="0.74"/><rect x="424" y="419" width="1" height="14" fill="url(#gs1)" opacity="0.57"/><rect x="425" y="409" width="1" height="23" fill="url(#gs3)" opacity="0.36"/><rect x="429" y="412" width="1" height="19" fill="url(#gs0)" opacity="0.45"/><rect x="432" y="422" width="1" height="8" fill="url(#gs1)" opacity="0.63"/><rect x="437" y="411" width="1" height="10" fill="url(#gs0)" opacity="0.39"/><rect x="439" y="412" width="1" height="19" fill="url(#gs3)" opacity="0.43"/><rect x="440" y="417" width="1" height="17" fill="url(#gs3)" opacity="0.77"/><rect x="441" y="421" width="1" height="23" fill="url(#gs1)" opacity="0.53"/><rect x="442" y="406" width="1" height="21" fill="url(#gs3)" opacity="0.85"/><rect x="445" y="418" width="1" height="8" fill="url(#gs0)" opacity="0.56"/><rect x="449" y="414" width="1" height="16" fill="url(#gs1)" opacity="0.58"/><rect x="450" y="410" width="1" height="11" fill="url(#gs1)" opacity="0.70"/><rect x="451" y="413" width="1" height="13" fill="url(#gs3)" opacity="0.84"/><rect x="452" y="423" width="1" height="10" fill="url(#gs1)" opacity="0.71"/><rect x="455" y="408" width="1" height="14" fill="url(#gs2)" opacity="0.46"/><rect x="456" y="419" width="1" height="12" fill="url(#gs1)" opacity="0.74"/><rect x="457" y="416" width="1" height="24" fill="url(#gs3)" opacity="0.87"/><rect x="459" y="413" width="1" height="15" fill="url(#gs0)" opacity="0.88"/><rect x="460" y="412" width="1" height="25" fill="url(#gs3)" opacity="0.79"/><rect x="465" y="413" width="1" height="25" fill="url(#gs3)" opacity="0.84"/><rect x="467" y="412" width="1" height="24" fill="url(#gs2)" opacity="0.58"/><rect x="468" y="417" width="1" height="24" fill="url(#gs1)" opacity="0.80"/><rect x="471" y="410" width="1" height="22" fill="url(#gs1)" opacity="0.35"/><rect x="473" y="417" width="1" height="13" fill="url(#gs0)" opacity="0.74"/><rect x="476" y="415" width="1" height="17" fill="url(#gs1)" opacity="0.36"/><rect x="477" y="405" width="1" height="25" fill="url(#gs3)" opacity="0.40"/><rect x="478" y="413" width="1" height="11" fill="url(#gs2)" opacity="0.81"/><rect x="479" y="415" width="1" height="15" fill="url(#gs3)" opacity="0.66"/><rect x="481" y="416" width="1" height="20" fill="url(#gs0)" opacity="0.72"/><rect x="483" y="418" width="1" height="15" fill="url(#gs1)" opacity="0.74"/><rect x="484" y="419" width="1" height="23" fill="url(#gs1)" opacity="0.81"/><rect x="486" y="420" width="1" height="19" fill="url(#gs2)" opacity="0.87"/><rect x="490" y="421" width="1" height="10" fill="url(#gs2)" opacity="0.52"/><rect x="493" y="417" width="1" height="23" fill="url(#gs1)" opacity="0.40"/><rect x="495" y="416" width="1" height="11" fill="url(#gs3)" opacity="0.37"/><rect x="497" y="416" width="1" height="12" fill="url(#gs0)" opacity="0.44"/><rect x="498" y="413" width="1" height="23" fill="url(#gs1)" opacity="0.86"/><rect x="502" y="412" width="1" height="14" fill="url(#gs0)" opacity="0.58"/><rect x="505" y="412" width="1" height="26" fill="url(#gs2)" opacity="0.64"/><rect x="506" y="413" width="1" height="14" fill="url(#gs0)" opacity="0.71"/><rect x="508" y="417" width="1" height="10" fill="url(#gs2)" opacity="0.74"/><rect x="511" y="420" width="1" height="14" fill="url(#gs1)" opacity="0.63"/><rect x="513" y="430" width="1" height="15" fill="url(#gs0)" opacity="0.86"/><rect x="515" y="412" width="1" height="9" fill="url(#gs3)" opacity="0.48"/><rect x="517" y="420" width="1" height="16" fill="url(#gs1)" opacity="0.42"/><rect x="518" y="413" width="1" height="18" fill="url(#gs0)" opacity="0.65"/><rect x="520" y="426" width="1" height="19" fill="url(#gs0)" opacity="0.68"/><rect x="522" y="405" width="1" height="20" fill="url(#gs2)" opacity="0.55"/><rect x="524" y="418" width="1" height="9" fill="url(#gs1)" opacity="0.45"/><rect x="525" y="413" width="1" height="20" fill="url(#gs3)" opacity="0.76"/><rect x="529" y="414" width="1" height="18" fill="url(#gs3)" opacity="0.42"/><rect x="530" y="416" width="1" height="17" fill="url(#gs2)" opacity="0.50"/><rect x="531" y="415" width="1" height="22" fill="url(#gs3)" opacity="0.57"/><rect x="533" y="408" width="1" height="15" fill="url(#gs3)" opacity="0.69"/><rect x="535" y="422" width="1" height="23" fill="url(#gs3)" opacity="0.57"/><rect x="536" y="419" width="1" height="10" fill="url(#gs2)" opacity="0.87"/><rect x="537" y="407" width="1" height="14" fill="url(#gs3)" opacity="0.38"/><rect x="541" y="419" width="1" height="19" fill="url(#gs0)" opacity="0.39"/><rect x="543" y="425" width="1" height="17" fill="url(#gs1)" opacity="0.41"/><rect x="544" y="404" width="1" height="20" fill="url(#gs0)" opacity="0.87"/><rect x="548" y="412" width="1" height="11" fill="url(#gs3)" opacity="0.71"/><rect x="551" y="411" width="1" height="22" fill="url(#gs3)" opacity="0.42"/><rect x="552" y="417" width="1" height="14" fill="url(#gs3)" opacity="0.38"/><rect x="554" y="421" width="1" height="14" fill="url(#gs0)" opacity="0.67"/><rect x="555" y="413" width="1" height="14" fill="url(#gs3)" opacity="0.43"/><rect x="557" y="413" width="1" height="23" fill="url(#gs0)" opacity="0.70"/><rect x="558" y="418" width="1" height="17" fill="url(#gs1)" opacity="0.42"/><rect x="559" y="414" width="1" height="12" fill="url(#gs0)" opacity="0.80"/><rect x="561" y="423" width="1" height="13" fill="url(#gs1)" opacity="0.51"/><rect x="562" y="404" width="1" height="21" fill="url(#gs3)" opacity="0.67"/><rect x="563" y="414" width="1" height="21" fill="url(#gs1)" opacity="0.38"/><rect x="565" y="422" width="1" height="13" fill="url(#gs0)" opacity="0.40"/><rect x="567" y="410" width="1" height="20" fill="url(#gs0)" opacity="0.38"/><rect x="568" y="430" width="1" height="9" fill="url(#gs0)" opacity="0.63"/><rect x="569" y="424" width="1" height="13" fill="url(#gs0)" opacity="0.35"/><rect x="570" y="413" width="1" height="26" fill="url(#gs1)" opacity="0.32"/><rect x="571" y="409" width="1" height="24" fill="url(#gs0)" opacity="0.61"/><rect x="575" y="411" width="1" height="24" fill="url(#gs0)" opacity="0.23"/><rect x="578" y="411" width="1" height="17" fill="url(#gs1)" opacity="0.34"/><rect x="581" y="409" width="1" height="16" fill="url(#gs2)" opacity="0.34"/><rect x="584" y="411" width="1" height="18" fill="url(#gs0)" opacity="0.26"/><rect x="585" y="412" width="1" height="25" fill="url(#gs3)" opacity="0.15"/><rect x="587" y="416" width="1" height="17" fill="url(#gs3)" opacity="0.21"/><rect x="590" y="420" width="1" height="10" fill="url(#gs1)" opacity="0.13"/><rect x="592" y="406" width="1" height="23" fill="url(#gs2)" opacity="0.20"/><rect x="594" y="418" width="1" height="20" fill="url(#gs3)" opacity="0.14"/><rect x="595" y="417" width="1" height="23" fill="url(#gs0)" opacity="0.16"/><rect x="596" y="422" width="1" height="16" fill="url(#gs0)" opacity="0.13"/><rect x="597" y="419" width="1" height="10" fill="url(#gs0)" opacity="0.12"/><rect x="598" y="410" width="1" height="15" fill="url(#gs0)" opacity="0.09"/><rect x="599" y="418" width="1" height="9" fill="url(#gs1)" opacity="0.04"/><rect x="600" y="424" width="1" height="10" fill="url(#gs3)" opacity="0.08"/><rect x="601" y="421" width="1" height="14" fill="url(#gs1)" opacity="0.07"/><rect x="602" y="414" width="1" height="15" fill="url(#gs0)" opacity="0.04"/></g><g clip-path="url(#cdata)"><path d="M394.0,281.7 C395.1,280.1 398.4,274.7 400.5,271.8 C402.6,268.9 403.8,267.0 406.5,264.4 C409.2,261.8 413.1,258.9 416.6,256.3 C420.1,253.7 423.6,251.3 427.4,249.0 C431.2,246.7 435.5,244.3 439.5,242.2 C443.5,240.1 447.6,238.1 451.6,236.2 C455.6,234.3 460.2,232.3 463.7,230.8 C467.2,229.3 466.8,230.0 472.5,227.4 C478.2,224.8 490.4,218.6 498.0,215.0 C505.6,211.4 514.7,207.5 518.0,206.0" fill="none" stroke="#8c07f3" stroke-width="12" stroke-opacity="1" stroke-linecap="round" filter="url(#blur3)"/><path d="M358.0,334.0 C359.3,332.8 363.3,329.3 366.0,327.0 C368.7,324.7 371.5,322.5 374.0,320.0 C376.5,317.5 378.8,314.8 381.0,312.0 C383.2,309.2 385.0,306.2 387.0,303.0 C389.0,299.8 391.0,296.3 393.0,293.0 C395.0,289.7 397.0,286.2 399.0,283.0 C401.0,279.8 403.2,276.5 405.0,274.0 C406.8,271.5 409.2,269.0 410.0,268.0" fill="none" stroke="#9109e5" stroke-width="14" stroke-opacity="0.95" stroke-linecap="round" filter="url(#blur3)"/><path d="M498.0,215.0 C501.3,213.5 512.6,208.7 518.0,206.0 C523.4,203.3 527.2,201.1 530.4,199.0 C533.6,196.9 535.2,195.3 537.4,193.2 C539.5,191.0 540.9,188.8 543.3,186.1 C545.6,183.3 549.2,179.5 551.5,176.7 C553.8,173.8 555.2,171.4 556.8,169.0 C558.4,166.6 559.8,164.2 561.0,162.0 C562.2,159.8 563.0,157.6 563.9,155.5 C564.8,153.4 565.4,151.8 566.2,149.6 C567.0,147.4 567.9,144.9 568.6,142.6 C569.3,140.2 570.0,137.1 570.4,135.5 C570.8,133.9 570.9,133.4 571.0,133.0" fill="none" stroke="#8906f7" stroke-width="8" stroke-opacity="0.9" stroke-linecap="round" filter="url(#blur3)"/><path d="M380.0,326.0 C381.1,324.7 384.5,321.1 386.8,318.0 C389.1,314.9 391.3,311.2 393.6,307.1 C395.9,303.0 398.5,298.0 400.4,293.6 C402.3,289.2 403.4,284.8 405.0,281.0 C406.6,277.2 408.3,274.0 410.0,271.0 C411.7,268.0 414.2,264.3 415.0,263.0" fill="none" stroke="#8c07f3" stroke-width="8" stroke-opacity="0.8" filter="url(#blur3)"/><ellipse cx="362" cy="337" rx="17" ry="7" fill="#8c07f3" opacity="0.85" filter="url(#blur3)"/><path d="M357.0,328.8 C357.9,328.1 360.6,326.2 362.4,324.8 C364.2,323.4 366.0,322.1 367.8,320.7 C369.6,319.3 371.0,318.6 373.3,316.6 C375.6,314.6 380.0,309.9 381.4,308.5" fill="none" stroke="#a11096" stroke-width="2.4" stroke-opacity="0.7" filter="url(#blur1)"/><path d="M373.3,316.6 C374.6,315.2 378.7,311.9 381.4,308.5 C384.1,305.1 386.9,300.6 389.6,296.3 C392.3,292.0 395.6,286.4 397.7,282.7 C399.8,278.9 400.7,276.5 402.5,273.8 C404.3,271.1 405.8,269.0 408.5,266.4 C411.2,263.8 416.9,259.6 418.6,258.3" fill="none" stroke="#ae1a35" stroke-width="2.8" stroke-opacity="0.9" filter="url(#blur1)"/><path d="M380.0,326.0 C381.1,324.7 384.5,321.1 386.8,318.0 C389.1,314.9 391.3,311.2 393.6,307.1 C395.9,303.0 398.5,298.0 400.4,293.6 C402.3,289.2 403.4,284.8 405.0,281.0 C406.6,277.2 408.3,274.0 410.0,271.0 C411.7,268.0 414.2,264.3 415.0,263.0" fill="none" stroke="#9a0dbe" stroke-width="2.2" stroke-opacity="0.8" filter="url(#blur1)"/><path d="M396.0,283.7 C397.1,282.1 400.4,276.7 402.5,273.8 C404.6,270.9 405.8,269.0 408.5,266.4 C411.2,263.8 415.1,260.9 418.6,258.3 C422.1,255.7 425.6,253.3 429.4,251.0 C433.2,248.7 437.5,246.3 441.5,244.2 C445.5,242.1 451.6,239.2 453.6,238.2" fill="none" stroke="#bc2900" stroke-width="3.2" filter="url(#blur1)"/><path d="M441.5,244.2 C443.5,243.2 449.6,240.1 453.6,238.2 C457.6,236.3 462.2,234.3 465.7,232.8 C469.2,231.3 468.8,232.0 474.5,229.4 C480.2,226.8 492.4,220.6 500.0,217.0 C507.6,213.4 514.6,210.7 520.0,208.0 C525.4,205.3 529.2,203.1 532.4,201.0 C535.6,198.9 537.2,197.3 539.4,195.2 C541.5,193.0 544.3,189.3 545.3,188.1" fill="none" stroke="#c23100" stroke-width="3.8" filter="url(#blur1)"/><path d="M539.4,195.2 C540.4,194.0 542.9,190.8 545.3,188.1 C547.6,185.3 551.2,181.5 553.5,178.7 C555.8,175.8 557.2,173.4 558.8,171.0 C560.4,168.6 561.8,166.2 563.0,164.0 C564.2,161.8 565.0,159.6 565.9,157.5 C566.8,155.4 567.4,153.8 568.2,151.6 C569.0,149.4 569.9,146.9 570.6,144.6 C571.3,142.2 572.0,139.1 572.4,137.5 C572.8,135.9 572.9,135.4 573.0,135.0" fill="none" stroke="#8906f7" stroke-width="6" stroke-opacity="0.7" filter="url(#blur1)"/><path d="M540.0,197.0 C540.9,196.3 543.0,194.9 545.3,192.8 C547.5,190.7 551.1,187.2 553.5,184.6 C555.9,182.0 557.7,179.8 559.4,177.5 C561.1,175.2 562.1,172.9 563.5,170.5 C564.9,168.1 566.3,165.4 567.6,162.8 C568.9,160.2 570.2,157.2 571.2,155.2 C572.2,153.1 572.7,152.5 573.5,150.5 C574.3,148.5 575.2,145.4 575.9,143.4 C576.6,141.4 577.2,140.1 577.6,138.7 C578.0,137.3 578.4,135.6 578.5,135.0" fill="none" stroke="#8605fb" stroke-width="5" stroke-opacity="0.6" filter="url(#blur1)"/><path d="M539.4,195.2 C540.4,194.0 542.9,190.8 545.3,188.1 C547.6,185.3 551.2,181.5 553.5,178.7 C555.8,175.8 557.2,173.4 558.8,171.0 C560.4,168.6 561.8,166.2 563.0,164.0 C564.2,161.8 565.0,159.6 565.9,157.5 C566.8,155.4 567.4,153.8 568.2,151.6 C569.0,149.4 569.9,146.9 570.6,144.6 C571.3,142.2 572.0,139.1 572.4,137.5 C572.8,135.9 572.9,135.4 573.0,135.0" fill="none" stroke="#c63700" stroke-width="1.8" filter="url(#blur1)"/><path d="M540.0,197.0 C540.9,196.3 543.0,194.9 545.3,192.8 C547.5,190.7 551.1,187.2 553.5,184.6 C555.9,182.0 557.7,179.8 559.4,177.5 C561.1,175.2 562.1,172.9 563.5,170.5 C564.9,168.1 566.3,165.4 567.6,162.8 C568.9,160.2 570.2,157.2 571.2,155.2 C572.2,153.1 572.7,152.5 573.5,150.5 C574.3,148.5 575.2,145.4 575.9,143.4 C576.6,141.4 577.2,140.1 577.6,138.7 C578.0,137.3 578.4,135.6 578.5,135.0" fill="none" stroke="#be2c00" stroke-width="1.4" filter="url(#blur1)"/><rect x="209" y="281" width="1.5" height="36" fill="#8906f7" opacity="0.6"/><path d="M415,160 Q440,146 462,136" fill="none" stroke="#8104ff" stroke-width="2" stroke-opacity="0.4" filter="url(#blur1)"/></g><g shape-rendering="crispEdges"><rect x="153" y="39" width="1" height="495" fill="#3a3a3a"/><rect x="257" y="39" width="1" height="495" fill="#3a3a3a"/><rect x="337" y="39" width="1" height="495" fill="#3a3a3a"/><rect x="388" y="39" width="1" height="495" fill="#3a3a3a"/><rect x="473" y="39" width="1" height="495" fill="#3a3a3a"/><rect x="564" y="39" width="1" height="495" fill="#3a3a3a"/><rect x="668" y="39" width="1" height="495" fill="#3a3a3a"/><rect x="741" y="39" width="1" height="495" fill="#3a3a3a"/><rect x="80" y="130" width="719" height="1" fill="#3a3a3a"/><rect x="80" y="198" width="719" height="1" fill="#3a3a3a"/><rect x="80" y="273" width="719" height="1" fill="#3a3a3a"/><rect x="80" y="332" width="719" height="1" fill="#3a3a3a"/><rect x="80" y="384" width="719" height="1" fill="#3a3a3a"/><rect x="80" y="433" width="719" height="1" fill="#3a3a3a"/><rect x="80" y="485" width="719" height="1" fill="#3a3a3a"/><rect x="153" y="39" width="1" height="9" fill="#000"/><rect x="153" y="525" width="1" height="9" fill="#000"/><rect x="257" y="39" width="1" height="9" fill="#000"/><rect x="257" y="525" width="1" height="9" fill="#000"/><rect x="337" y="39" width="1" height="9" fill="#000"/><rect x="337" y="525" width="1" height="9" fill="#000"/><rect x="388" y="39" width="1" height="9" fill="#000"/><rect x="388" y="525" width="1" height="9" fill="#000"/><rect x="473" y="39" width="1" height="9" fill="#000"/><rect x="473" y="525" width="1" height="9" fill="#000"/><rect x="564" y="39" width="1" height="9" fill="#000"/><rect x="564" y="525" width="1" height="9" fill="#000"/><rect x="668" y="39" width="1" height="9" fill="#000"/><rect x="668" y="525" width="1" height="9" fill="#000"/><rect x="741" y="39" width="1" height="9" fill="#000"/><rect x="741" y="525" width="1" height="9" fill="#000"/><rect x="80" y="130" width="10" height="1" fill="#000"/><rect x="789" y="130" width="10" height="1" fill="#000"/><rect x="80" y="198" width="10" height="1" fill="#000"/><rect x="789" y="198" width="10" height="1" fill="#000"/><rect x="80" y="273" width="10" height="1" fill="#000"/><rect x="789" y="273" width="10" height="1" fill="#000"/><rect x="80" y="332" width="10" height="1" fill="#000"/><rect x="789" y="332" width="10" height="1" fill="#000"/><rect x="80" y="384" width="10" height="1" fill="#000"/><rect x="789" y="384" width="10" height="1" fill="#000"/><rect x="80" y="433" width="10" height="1" fill="#000"/><rect x="789" y="433" width="10" height="1" fill="#000"/><rect x="80" y="485" width="10" height="1" fill="#000"/><rect x="789" y="485" width="10" height="1" fill="#000"/><rect x="78" y="38" width="722" height="1" fill="#000"/><rect x="78" y="534" width="722" height="2" fill="#000"/><rect x="78" y="38" width="2" height="498" fill="#000"/><rect x="799" y="38" width="1" height="498" fill="#000"/><rect x="818" y="39" width="35" height="496" fill="url(#cb)"/><rect x="817" y="38" width="37" height="1" fill="#000"/><rect x="817" y="535" width="37" height="1" fill="#000"/><rect x="817" y="38" width="1" height="498" fill="#000"/><rect x="853" y="38" width="1" height="498" fill="#000"/><rect x="817" y="39" width="8" height="1" fill="#000"/><rect x="846" y="39" width="8" height="1" fill="#000"/><rect x="817" y="94" width="8" height="1" fill="#000"/><rect x="846" y="94" width="8" height="1" fill="#000"/><rect x="817" y="149" width="8" height="1" fill="#000"/><rect x="846" y="149" width="8" height="1" fill="#000"/><rect x="817" y="204" width="8" height="1" fill="#000"/><rect x="846" y="204" width="8" height="1" fill="#000"/><rect x="817" y="259" width="8" height="1" fill="#000"/><rect x="846" y="259" width="8" height="1" fill="#000"/><rect x="817" y="315" width="8" height="1" fill="#000"/><rect x="846" y="315" width="8" height="1" fill="#000"/><rect x="817" y="370" width="8" height="1" fill="#000"/><rect x="846" y="370" width="8" height="1" fill="#000"/><rect x="817" y="425" width="8" height="1" fill="#000"/><rect x="846" y="425" width="8" height="1" fill="#000"/><rect x="817" y="480" width="8" height="1" fill="#000"/><rect x="846" y="480" width="8" height="1" fill="#000"/><rect x="817" y="535" width="8" height="1" fill="#000"/><rect x="846" y="535" width="8" height="1" fill="#000"/></g><g style="will-change:transform"><text x="63" y="41.6" font-size="18.7" text-anchor="end" stroke="#000" stroke-width="0.35" >1500</text><text x="63" y="133.6" font-size="18.7" text-anchor="end" stroke="#000" stroke-width="0.35" >800</text><text x="63" y="201.6" font-size="18.7" text-anchor="end" stroke="#000" stroke-width="0.35" >500</text><text x="63" y="276.6" font-size="18.7" text-anchor="end" stroke="#000" stroke-width="0.35" >300</text><text x="63" y="335.6" font-size="18.7" text-anchor="end" stroke="#000" stroke-width="0.35" >200</text><text x="63" y="387.6" font-size="18.7" text-anchor="end" stroke="#000" stroke-width="0.35" >140</text><text x="63" y="436.6" font-size="18.7" text-anchor="end" stroke="#000" stroke-width="0.35" >100</text><text x="63" y="488.6" font-size="18.7" text-anchor="end" stroke="#000" stroke-width="0.35" >70</text><text x="63" y="537.6" font-size="18.7" text-anchor="end" stroke="#000" stroke-width="0.35" >50</text><text x="78" y="562.8" font-size="18.7" text-anchor="middle" stroke="#000" stroke-width="0.35" >1.5</text><text x="152" y="562.8" font-size="18.7" text-anchor="middle" stroke="#000" stroke-width="0.35" >2.0</text><text x="256" y="562.8" font-size="18.7" text-anchor="middle" stroke="#000" stroke-width="0.35" >3.0</text><text x="334.5" y="562.8" font-size="18.7" text-anchor="middle" stroke="#000" stroke-width="0.35" >4.1</text><text x="387" y="562.8" font-size="18.7" text-anchor="middle" stroke="#000" stroke-width="0.35" >5.0</text><text x="472" y="562.8" font-size="18.7" text-anchor="middle" stroke="#000" stroke-width="0.35" >7.0</text><text x="563" y="562.8" font-size="18.7" text-anchor="middle" stroke="#000" stroke-width="0.35" >10.0</text><text x="667" y="562.8" font-size="18.7" text-anchor="middle" stroke="#000" stroke-width="0.35" >15.0</text><text x="740" y="562.8" font-size="18.7" text-anchor="middle" stroke="#000" stroke-width="0.35" >20.0</text><text x="867.3" y="41.9" font-size="17" text-anchor="start" fill="#1a1a1a" textLength="18" lengthAdjust="spacingAndGlyphs">90</text><text x="867.3" y="97.9" font-size="17" text-anchor="start" fill="#1a1a1a" textLength="18" lengthAdjust="spacingAndGlyphs">80</text><text x="867.3" y="152.9" font-size="17" text-anchor="start" fill="#1a1a1a" textLength="18" lengthAdjust="spacingAndGlyphs">70</text><text x="867.3" y="207.9" font-size="17" text-anchor="start" fill="#1a1a1a" textLength="18" lengthAdjust="spacingAndGlyphs">60</text><text x="867.3" y="262.9" font-size="17" text-anchor="start" fill="#1a1a1a" textLength="18" lengthAdjust="spacingAndGlyphs">50</text><text x="867.3" y="318.9" font-size="17" text-anchor="start" fill="#1a1a1a" textLength="18" lengthAdjust="spacingAndGlyphs">40</text><text x="867.3" y="373.9" font-size="17" text-anchor="start" fill="#1a1a1a" textLength="18" lengthAdjust="spacingAndGlyphs">30</text><text x="867.3" y="428.9" font-size="17" text-anchor="start" fill="#1a1a1a" textLength="18" lengthAdjust="spacingAndGlyphs">20</text><text x="867.3" y="483.9" font-size="17" text-anchor="start" fill="#1a1a1a" textLength="18" lengthAdjust="spacingAndGlyphs">10</text><text x="867.2" y="538.9" font-size="17" text-anchor="start" fill="#1a1a1a" textLength="8.6" lengthAdjust="spacingAndGlyphs">0</text><text x="234.0" y="13.9" font-size="19.5" textLength="82.37" lengthAdjust="spacingAndGlyphs" stroke="#000" stroke-width="0.35" xml:space="preserve">Jicamarca</text><text x="321.74" y="13.9" font-size="19.5" textLength="41.63" lengthAdjust="spacingAndGlyphs" stroke="#000" stroke-width="0.35" xml:space="preserve">2013</text><text x="367.74" y="13.9" font-size="19.5" textLength="31.29" lengthAdjust="spacingAndGlyphs" stroke="#000" stroke-width="0.35" xml:space="preserve">339</text><text x="404.98" y="13.9" font-size="19.5" textLength="69.83" lengthAdjust="spacingAndGlyphs" stroke="#000" stroke-width="0.35" xml:space="preserve">15:48:04</text><text x="481.03" y="13.9" font-size="19.5" textLength="38.71" lengthAdjust="spacingAndGlyphs" stroke="#000" stroke-width="0.35" xml:space="preserve">UTC</text><text x="554.84" y="13.9" font-size="19.5" textLength="75.19" lengthAdjust="spacingAndGlyphs" stroke="#000" stroke-width="0.35" xml:space="preserve">05Dec13</text><text x="746.5" y="20.7" font-size="19" textLength="132.59" lengthAdjust="spacingAndGlyphs" stroke="#000" stroke-width="0.35" xml:space="preserve">Total Power [dB]</text><text x="369.95" y="590.3" font-size="19" textLength="137.32" lengthAdjust="spacingAndGlyphs" stroke="#000" stroke-width="0.35" xml:space="preserve">Frequency [MHz]</text><text x="39.64" y="588.8" font-size="13.5" textLength="106.32" lengthAdjust="spacingAndGlyphs" stroke="#000" stroke-width="0.15" xml:space="preserve">RxMask 00110011</text><text x="592.2" y="588.8" font-size="14" textLength="211.25" lengthAdjust="spacingAndGlyphs" stroke="#000" stroke-width="0.1" xml:space="preserve">VIPIR  JM91J_2013339154804.RIQ</text><text x="-0.97" y="0" font-size="19" textLength="94.7" lengthAdjust="spacingAndGlyphs" stroke="#000" stroke-width="0.35" transform="translate(13.9,332.8) rotate(-90)">Range [km]</text></g></svg></body></html>
